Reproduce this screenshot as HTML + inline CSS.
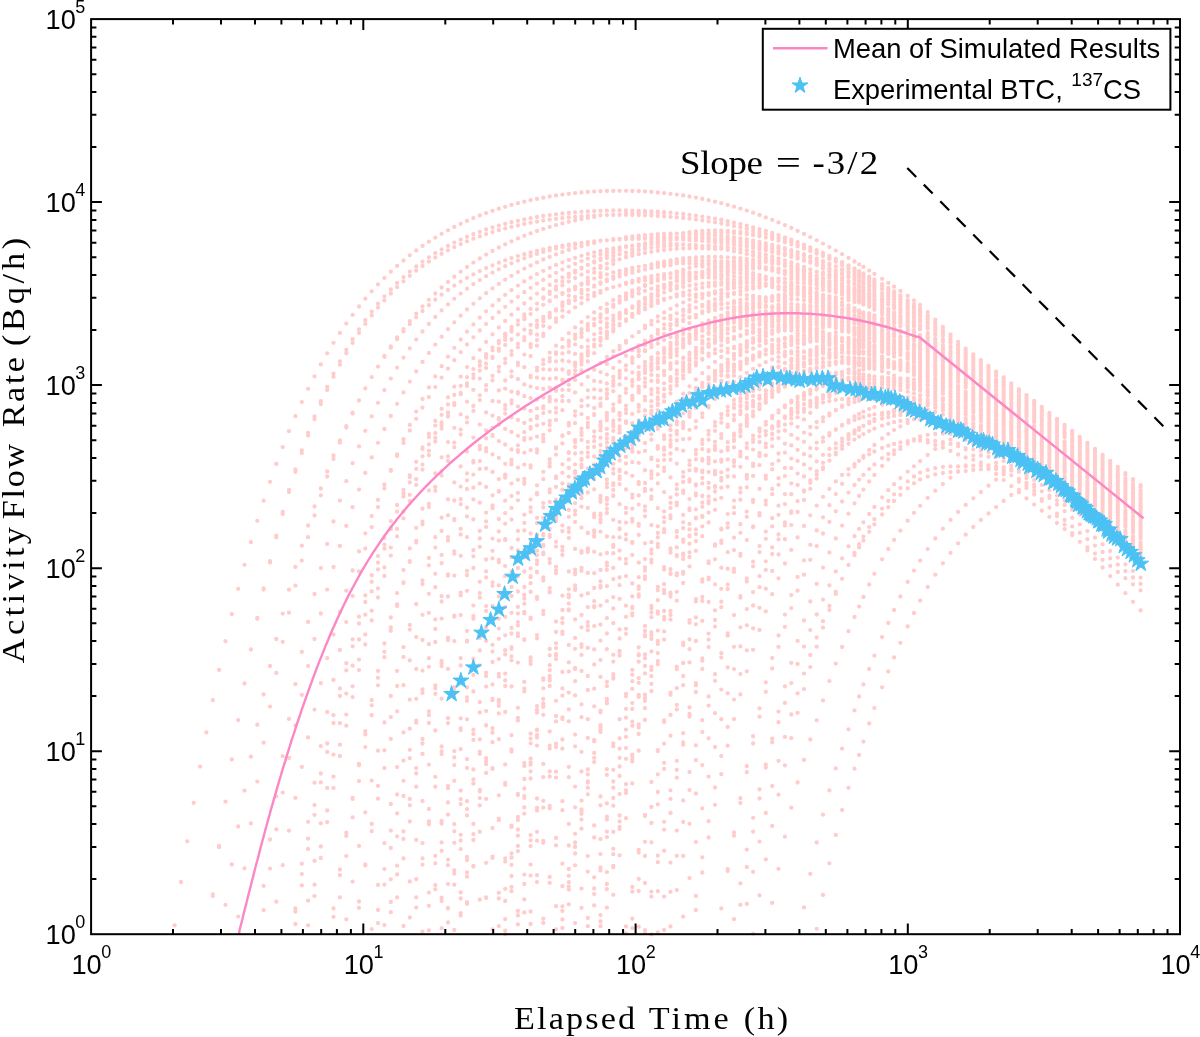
<!DOCTYPE html>
<html lang="en"><head><meta charset="utf-8"><title>Breakthrough curves</title>
<style>html,body{margin:0;padding:0;background:#fff}svg{display:block;will-change:transform}</style></head>
<body>
<svg width="1200" height="1037" viewBox="0 0 1200 1037">
<path d="M174.6 925.3h0M181 882h0M187.3 841.3h0M193.7 802.8h0M200.1 766.6h0M206.4 732.4h0M212.8 700.2h0M219.1 669.9h0M225.5 641.2h0M231.8 614.2h0M238.2 588.8h0M244.5 564.8h0M250.9 542.2h0M257.3 520.8h0M263.6 500.7h0M270 481.8h0M276.3 463.9h0M282.7 447.1h0M289 431.2h0M295.4 416.2h0M301.8 402.1h0M308.1 388.8h0M314.5 376.3h0M320.8 364.4h0M327.2 353.3h0M333.5 342.8h0M339.9 332.9h0M346.3 323.6h0M352.6 314.8h0M359 306.5h0M365.3 298.7h0M371.7 291.3h0M378 284.4h0M384.4 277.9h0M390.8 271.7h0M397.1 265.9h0M403.5 260.5h0M409.8 255.3h0M416.2 250.5h0M422.5 245.9h0M428.9 241.7h0M435.3 237.6h0M441.6 233.8h0M448 230.3h0M454.3 226.9h0M460.7 223.8h0M467 220.9h0M473.4 218.1h0M479.8 215.5h0M486.1 213.1h0M492.5 210.8h0M498.8 208.7h0M505.2 206.8h0M511.5 204.9h0M517.9 203.2h0M524.3 201.7h0M530.6 200.2h0M537 198.9h0M543.3 197.7h0M549.7 196.5h0M556 195.5h0M562.4 194.6h0M568.8 193.8h0M575.1 193.1h0M581.5 192.5h0M587.8 192h0M594.2 191.6h0M600.5 191.2h0M606.9 191h0M613.3 190.9h0M619.6 190.8h0M626 190.8h0M632.3 191h0M638.7 191.2h0M645 191.5h0M651.4 191.9h0M657.8 192.5h0M664.1 193.1h0M670.5 193.8h0M676.8 194.6h0M683.2 195.5h0M689.5 196.5h0M695.9 197.6h0M702.3 198.9h0M708.6 200.2h0M715 201.7h0M721.3 203.2h0M727.7 204.9h0M734 206.7h0M740.4 208.6h0M746.8 210.6h0M753.1 212.7h0M759.5 215h0M765.8 217.4h0M772.2 219.8h0M778.5 222.4h0M784.9 225.1h0M791.3 228h0M797.6 230.9h0M804 233.9h0M810.3 237.1h0M816.7 240.3h0M823 243.6h0M829.4 247.1h0M835.8 250.6h0M842.1 254.2h0M848.5 257.9h0M854.5 261.5h0M859.1 264.3h0M863.4 266.9h0M869.2 270.6h0M874.4 273.8h0M882.1 278.8h0M888.3 282.9h0M894.1 286.7h0M900.4 291h0M907.7 296h0M914 300.3h0M920.1 304.9h0M927.7 312.2h0M935.3 319.6h0M942.9 327h0M950.5 334.5h0M958.1 342h0M965.7 348.7h0M973.3 354.4h0M980.9 360.1h0M988.5 365.8h0M996.1 371.6h0M1003.7 377.4h0M1011.3 383.3h0M1018.9 389.2h0M1026.5 395.1h0M1034.2 401h0M1041.8 406.9h0M1049.4 412.9h0M1057 418.8h0M1064.6 424.8h0M1072.2 430.8h0M1079.8 436.8h0M1087.4 442.8h0M1095 448.9h0M1102.6 454.9h0M1110.2 460.9h0M1117.8 467h0M1125.4 473.1h0M1133 479.1h0M1140.6 485.2h0M212.8 896.1h0M219.1 847.2h0M225.5 801.7h0M231.8 759.5h0M238.2 720.1h0M244.5 683.5h0M250.9 649.5h0M257.3 617.9h0M263.6 588.5h0M270 561.1h0M276.3 535.7h0M282.7 512h0M289 490h0M295.4 469.5h0M301.8 450.5h0M308.1 432.8h0M314.5 416.4h0M320.8 401.1h0M327.2 386.8h0M333.5 373.6h0M339.9 361.3h0M346.3 349.9h0M352.6 339.2h0M359 329.3h0M365.3 320.2h0M371.7 311.6h0M378 303.7h0M384.4 296.3h0M390.8 289.4h0M397.1 283h0M403.5 277.1h0M409.8 271.6h0M416.2 266.5h0M422.5 261.7h0M428.9 257.3h0M435.3 253.2h0M441.6 249.4h0M448 245.9h0M454.3 242.6h0M460.7 239.6h0M467 236.8h0M473.4 234.2h0M479.8 231.8h0M486.1 229.5h0M492.5 227.5h0M498.8 225.6h0M505.2 223.8h0M511.5 222.2h0M517.9 220.8h0M524.3 219.4h0M530.6 218.2h0M537 217h0M543.3 216h0M549.7 215.1h0M556 214.3h0M562.4 213.5h0M568.8 212.9h0M575.1 212.3h0M581.5 211.8h0M587.8 211.4h0M594.2 211.1h0M600.5 210.8h0M606.9 210.7h0M613.3 210.5h0M619.6 210.5h0M626 210.5h0M632.3 210.6h0M638.7 210.8h0M645 211h0M651.4 211.4h0M657.8 211.7h0M664.1 212.2h0M670.5 212.7h0M676.8 213.3h0M683.2 214h0M689.5 214.8h0M695.9 215.6h0M702.3 216.6h0M708.6 217.6h0M715 218.7h0M721.3 219.9h0M727.7 221.2h0M734 222.6h0M740.4 224.1h0M746.8 225.7h0M753.1 227.4h0M759.5 229.1h0M765.8 231h0M772.2 233h0M778.5 235.1h0M784.9 237.4h0M791.3 239.7h0M797.6 242.1h0M804 244.7h0M810.3 247.3h0M816.7 250.1h0M823 252.9h0M829.4 255.9h0M835.8 258.9h0M842.1 262.1h0M848.5 265.4h0M854.5 268.6h0M859.1 271.1h0M863.4 273.4h0M869.2 276.7h0M874.4 279.7h0M882.1 284.2h0M888.3 287.9h0M894.1 291.5h0M900.4 295.4h0M907.7 300.1h0M914 304.1h0M920.1 308.5h0M927.7 315.5h0M935.3 322.6h0M942.9 329.7h0M950.5 337h0M958.1 344.2h0M965.7 350.7h0M973.3 356.2h0M980.9 361.8h0M988.5 367.4h0M996.1 373h0M1018.9 390.2h0M1026.5 396h0M1034.2 401.8h0M1041.8 407.6h0M1049.4 413.5h0M1057 419.4h0M1064.6 425.3h0M1072.2 431.3h0M1133 479.3h0M1140.6 485.3h0M212.8 894.4h0M219.1 845.9h0M257.3 618.8h0M263.6 589.6h0M270 562.5h0M276.3 537.3h0M282.7 513.9h0M289 492.1h0M295.4 471.8h0M301.8 453h0M308.1 435.5h0M314.5 419.2h0M320.8 404h0M327.2 389.9h0M333.5 376.8h0M339.9 364.7h0M346.3 353.3h0M352.6 342.8h0M359 333h0M365.3 323.9h0M371.7 315.4h0M378 307.6h0M384.4 300.3h0M390.8 293.5h0M397.1 287.1h0M403.5 281.3h0M409.8 275.8h0M416.2 270.7h0M422.5 266h0M428.9 261.7h0M435.3 257.6h0M441.6 253.8h0M448 250.3h0M454.3 247.1h0M460.7 244.1h0M467 241.3h0M473.4 238.7h0M479.8 236.3h0M486.1 234.1h0M492.5 232.1h0M498.8 230.2h0M505.2 228.4h0M511.5 226.8h0M517.9 225.4h0M524.3 224h0M530.6 222.8h0M537 221.7h0M543.3 220.6h0M549.7 219.7h0M556 218.9h0M562.4 218.1h0M568.8 217.5h0M575.1 216.9h0M581.5 216.4h0M587.8 216h0M594.2 215.6h0M600.5 215.3h0M606.9 215.1h0M613.3 215h0M619.6 214.9h0M626 214.9h0M632.3 215h0M638.7 215.1h0M645 215.3h0M651.4 215.6h0M657.8 216h0M664.1 216.4h0M670.5 216.8h0M676.8 217.4h0M683.2 218h0M689.5 218.7h0M695.9 219.5h0M702.3 220.4h0M708.6 221.4h0M715 222.4h0M721.3 223.5h0M727.7 224.7h0M734 226.1h0M740.4 227.5h0M746.8 229h0M753.1 230.6h0M759.5 232.3h0M765.8 234.1h0M772.2 236h0M778.5 238h0M784.9 240.1h0M791.3 242.3h0M797.6 244.7h0M804 247.1h0M810.3 249.6h0M816.7 252.3h0M823 255.1h0M829.4 257.9h0M835.8 260.9h0M842.1 264h0M848.5 267.1h0M854.5 270.3h0M859.1 272.7h0M863.4 275h0M869.2 278.2h0M874.4 281.1h0M882.1 285.5h0M888.3 289.2h0M894.1 292.7h0M900.4 296.5h0M907.7 301.1h0M927.7 316.4h0M935.3 323.4h0M958.1 344.9h0M973.3 356.7h0M1003.7 379.1h0M1011.3 384.8h0M1079.8 437.4h0M1087.4 443.3h0M1095 449.3h0M1102.6 455.3h0M1110.2 461.3h0M1117.8 467.3h0M1125.4 473.3h0M238.2 916.6h0M244.5 868.3h0M250.9 823.4h0M257.3 781.6h0M263.6 742.7h0M270 706.6h0M276.3 673h0M282.7 641.8h0M289 612.7h0M295.4 585.7h0M301.8 560.6h0M308.1 537.2h0M314.5 515.5h0M320.8 495.3h0M327.2 476.5h0M333.5 459h0M339.9 442.7h0M346.3 427.6h0M352.6 413.6h0M359 400.5h0M365.3 388.4h0M371.7 377.1h0M378 366.6h0M384.4 356.8h0M390.8 347.7h0M397.1 339.3h0M403.5 331.4h0M409.8 324.1h0M416.2 317.3h0M422.5 311h0M428.9 305.2h0M435.3 299.7h0M441.6 294.7h0M448 290h0M454.3 285.6h0M460.7 281.6h0M467 277.8h0M473.4 274.3h0M479.8 271.1h0M486.1 268.1h0M492.5 265.3h0M498.8 262.7h0M505.2 260.3h0M511.5 258.1h0M517.9 256.1h0M524.3 254.2h0M530.6 252.4h0M537 250.8h0M543.3 249.4h0M549.7 248h0M556 246.8h0M562.4 245.6h0M568.8 244.6h0M575.1 243.7h0M581.5 242.9h0M587.8 242.1h0M594.2 241.4h0M600.5 240.8h0M606.9 240.3h0M613.3 239.9h0M619.6 239.5h0M626 239.2h0M632.3 239h0M638.7 238.9h0M645 238.8h0M651.4 238.7h0M657.8 238.8h0M664.1 238.9h0M670.5 239.1h0M676.8 239.3h0M683.2 239.6h0M689.5 240h0M695.9 240.5h0M702.3 241h0M708.6 241.6h0M715 242.2h0M721.3 243h0M727.7 243.8h0M734 244.7h0M740.4 245.7h0M746.8 246.8h0M753.1 247.9h0M759.5 249.2h0M765.8 250.5h0M772.2 252h0M778.5 253.5h0M784.9 255.2h0M791.3 256.9h0M797.6 258.7h0M804 260.7h0M810.3 262.7h0M816.7 264.9h0M823 267.1h0M829.4 269.5h0M835.8 272h0M842.1 274.6h0M848.5 277.3h0M854.5 279.9h0M859.1 282h0M863.4 284h0M869.2 286.8h0M874.4 289.3h0M882.1 293.2h0M888.3 296.5h0M894.1 299.6h0M900.4 303.1h0M907.7 307.2h0M914 310.9h0M920.1 314.9h0M927.7 321.4h0M935.3 328h0M942.9 334.8h0M950.5 341.6h0M958.1 348.6h0M965.7 354.7h0M973.3 359.9h0M980.9 365.1h0M988.5 370.5h0M996.1 375.9h0M1003.7 381.3h0M1011.3 386.8h0M1018.9 392.4h0M1026.5 398h0M1034.2 403.6h0M1041.8 409.3h0M1049.4 415.1h0M1057 420.8h0M263.6 885.9h0M270 839.5h0M276.3 796.3h0M282.7 756.2h0M289 718.9h0M295.4 684.2h0M301.8 651.9h0M308.1 621.9h0M314.5 594h0M320.8 568.1h0M327.2 543.9h0M333.5 521.5h0M339.9 500.6h0M346.3 481.2h0M352.6 463.2h0M359 446.4h0M365.3 430.8h0M371.7 416.3h0M378 402.8h0M384.4 390.2h0M390.8 378.6h0M397.1 367.7h0M403.5 357.6h0M409.8 348.3h0M416.2 339.6h0M422.5 331.5h0M428.9 323.9h0M435.3 316.9h0M441.6 310.4h0M448 304.4h0M454.3 298.8h0M460.7 293.6h0M467 288.7h0M473.4 284.2h0M479.8 280.1h0M486.1 276.2h0M492.5 272.6h0M498.8 269.3h0M505.2 266.2h0M511.5 263.3h0M517.9 260.7h0M524.3 258.3h0M530.6 256h0M537 253.9h0M543.3 252h0M549.7 250.2h0M556 248.6h0M562.4 247.1h0M568.8 245.8h0M575.1 244.5h0M587.8 242.4h0M600.5 240.7h0M619.6 238.8h0M638.7 237.7h0M645 237.5h0M651.4 237.3h0M657.8 237.3h0M664.1 237.3h0M670.5 237.4h0M676.8 237.6h0M683.2 237.8h0M689.5 238.1h0M695.9 238.6h0M702.3 239h0M708.6 239.6h0M715 240.2h0M721.3 241h0M727.7 241.8h0M734 242.7h0M740.4 243.7h0M746.8 244.8h0M753.1 245.9h0M759.5 247.2h0M765.8 248.6h0M772.2 250h0M778.5 251.6h0M784.9 253.3h0M791.3 255h0M797.6 256.9h0M804 258.9h0M810.3 261h0M816.7 263.2h0M823 265.5h0M829.4 267.9h0M835.8 270.5h0M842.1 273.1h0M848.5 275.9h0M854.5 278.6h0M859.1 280.7h0M863.4 282.7h0M869.2 285.5h0M874.4 288.1h0M888.3 295.4h0M894.1 298.6h0M900.4 302.1h0M907.7 306.3h0M920.1 314h0M935.3 327.3h0M950.5 341h0M996.1 375.5h0M1018.9 392.1h0M263.6 910.2h0M270 868.6h0M276.3 829.4h0M282.7 792.6h0M289 758h0M295.4 725.5h0M301.8 694.9h0M308.1 666.1h0M314.5 639h0M320.8 613.5h0M327.2 589.6h0M333.5 567h0M339.9 545.9h0M346.3 525.9h0M352.6 507.2h0M359 489.6h0M365.3 473h0M371.7 457.4h0M378 442.8h0M384.4 429h0M390.8 416h0M397.1 403.8h0M403.5 392.4h0M409.8 381.6h0M416.2 371.5h0M422.5 361.9h0M428.9 353h0M435.3 344.6h0M441.6 336.7h0M448 329.2h0M454.3 322.3h0M460.7 315.7h0M467 309.5h0M473.4 303.8h0M479.8 298.3h0M486.1 293.2h0M492.5 288.4h0M498.8 283.9h0M505.2 279.7h0M511.5 275.8h0M517.9 272.1h0M524.3 268.6h0M530.6 265.4h0M537 262.4h0M543.3 259.5h0M549.7 256.9h0M556 254.4h0M562.4 252.1h0M568.8 250h0M575.1 248.1h0M581.5 246.2h0M587.8 244.6h0M594.2 243h0M613.3 239.2h0M626 237.2h0M632.3 236.4h0M638.7 235.7h0M645 235.1h0M651.4 234.6h0M657.8 234.2h0M664.1 233.9h0M670.5 233.7h0M676.8 233.6h0M683.2 233.6h0M689.5 233.7h0M695.9 234h0M702.3 234.3h0M708.6 234.7h0M715 235.2h0M721.3 235.9h0M727.7 236.6h0M734 237.4h0M740.4 238.4h0M746.8 239.5h0M753.1 240.6h0M759.5 241.9h0M765.8 243.3h0M772.2 244.8h0M778.5 246.5h0M784.9 248.2h0M791.3 250.1h0M797.6 252.1h0M804 254.2h0M810.3 256.4h0M816.7 258.7h0M823 261.2h0M829.4 263.7h0M835.8 266.4h0M842.1 269.2h0M848.5 272.1h0M854.5 275h0M859.1 277.2h0M863.4 279.4h0M869.2 282.3h0M874.4 285.1h0M882.1 289.2h0M888.3 292.7h0M894.1 296h0M900.4 299.6h0M907.7 304h0M914 307.8h0M920.1 312h0M927.7 318.7h0M935.3 325.6h0M942.9 332.5h0M950.5 339.5h0M958.1 346.6h0M965.7 352.9h0M973.3 358.2h0M980.9 363.6h0M988.5 369.1h0M276.3 901.7h0M282.7 865.2h0M289 830.7h0M295.4 797.9h0M301.8 766.9h0M308.1 737.5h0M314.5 709.6h0M320.8 683.2h0M327.2 658.2h0M333.5 634.5h0M339.9 612h0M346.3 590.7h0M352.6 570.5h0M359 551.4h0M365.3 533.3h0M371.7 516.1h0M378 499.9h0M384.4 484.5h0M390.8 469.9h0M397.1 456.1h0M403.5 442.9h0M409.8 430.5h0M416.2 418.8h0M422.5 407.6h0M428.9 397.1h0M435.3 387.1h0M441.6 377.6h0M448 368.7h0M454.3 360.2h0M460.7 352.2h0M467 344.5h0M473.4 337.3h0M479.8 330.5h0M486.1 324.1h0M492.5 318h0M498.8 312.2h0M505.2 306.8h0M511.5 301.6h0M517.9 296.8h0M524.3 292.2h0M530.6 287.8h0M537 283.7h0M543.3 279.9h0M549.7 276.2h0M556 272.8h0M562.4 269.6h0M568.8 266.6h0M575.1 263.8h0M581.5 261.1h0M587.8 258.6h0M594.2 256.3h0M600.5 254.2h0M606.9 252.2h0M613.3 250.4h0M619.6 248.7h0M626 247.1h0M632.3 245.7h0M638.7 244.4h0M645 243.3h0M651.4 242.3h0M657.8 241.4h0M664.1 240.6h0M670.5 240h0M708.6 238.8h0M715 239h0M721.3 239.4h0M727.7 239.8h0M734 240.4h0M740.4 241.2h0M746.8 242h0M753.1 243h0M759.5 244.1h0M765.8 245.4h0M772.2 246.7h0M778.5 248.2h0M784.9 249.8h0M791.3 251.6h0M797.6 253.5h0M804 255.5h0M810.3 257.6h0M816.7 259.9h0M823 262.3h0M829.4 264.8h0M842.1 270.1h0M848.5 273h0M854.5 275.8h0M863.4 280.1h0M869.2 283.1h0M874.4 285.8h0M888.3 293.4h0M894.1 296.6h0M914 308.5h0M927.7 319.3h0M225.5 904.8h0M231.8 864.5h0M238.2 826.5h0M244.5 790.6h0M250.9 756.7h0M257.3 724.7h0M263.6 694.5h0M270 666h0M276.3 639h0M282.7 613.6h0M289 589.7h0M295.4 567h0M301.8 545.7h0M308.1 525.5h0M314.5 506.5h0M320.8 488.5h0M327.2 471.5h0M333.5 455.5h0M339.9 440.4h0M346.3 426.2h0M352.6 412.7h0M384.4 356h0M390.8 346.5h0M397.1 337.5h0M403.5 329.1h0M409.8 321.1h0M416.2 313.6h0M422.5 306.5h0M428.9 299.8h0M435.3 293.5h0M441.6 287.5h0M448 281.9h0M454.3 276.7h0M460.7 271.7h0M467 267h0M473.4 262.6h0M479.8 258.5h0M486.1 254.6h0M492.5 250.9h0M498.8 247.5h0M505.2 244.3h0M511.5 241.3h0M517.9 238.4h0M524.3 235.8h0M530.6 233.3h0M537 231h0M543.3 228.9h0M549.7 226.9h0M556 225.1h0M562.4 223.4h0M568.8 221.8h0M575.1 220.4h0M581.5 219.1h0M587.8 217.9h0M594.2 216.9h0M626 213.4h0M632.3 213h0M638.7 212.7h0M645 212.6h0M651.4 212.6h0M657.8 212.6h0M664.1 212.8h0M721.3 219.6h0M772.2 233.6h0M784.9 238.4h0M791.3 240.9h0M797.6 243.6h0M804 246.3h0M835.8 261.8h0M842.1 265.2h0M848.5 268.7h0M854.5 272.1h0M859.1 274.8h0M863.4 277.3h0M869.2 280.7h0M874.4 283.9h0M882.1 288.7h0M942.9 335.7h0M950.5 343.1h0M958.1 350.5h0M965.7 357.1h0M973.3 362.7h0M980.9 368.3h0M988.5 374h0M996.1 379.7h0M1003.7 385.5h0M1011.3 391.3h0M1018.9 397.1h0M1026.5 403h0M1034.2 408.8h0M1041.8 414.7h0M1049.4 420.6h0M1057 426.6h0M1064.6 432.5h0M1072.2 438.5h0M1079.8 444.5h0M1087.4 450.5h0M1095 456.5h0M1102.6 462.5h0M1110.2 468.5h0M1117.8 474.6h0M1125.4 480.6h0M1133 486.7h0M1140.6 492.7h0M295.4 908.4h0M301.8 863.7h0M308.1 821.8h0M314.5 782.7h0M320.8 746.2h0M327.2 712h0M333.5 680h0M339.9 650h0M346.3 622.1h0M352.6 595.9h0M359 571.4h0M365.3 548.5h0M371.7 527.1h0M378 507.1h0M384.4 488.4h0M390.8 470.9h0M397.1 454.5h0M403.5 439.2h0M409.8 424.9h0M416.2 411.6h0M422.5 399h0M428.9 387.4h0M435.3 376.4h0M441.6 366.2h0M448 356.7h0M454.3 347.8h0M460.7 339.5h0M467 331.7h0M473.4 324.4h0M479.8 317.7h0M486.1 311.3h0M492.5 305.4h0M498.8 299.9h0M505.2 294.8h0M511.5 290.1h0M517.9 285.6h0M524.3 281.5h0M530.6 277.7h0M537 274.1h0M543.3 270.8h0M549.7 267.8h0M556 264.9h0M562.4 262.3h0M568.8 259.9h0M575.1 257.8h0M581.5 255.8h0M587.8 253.9h0M594.2 252.3h0M600.5 250.8h0M606.9 249.5h0M613.3 248.3h0M619.6 247.3h0M626 246.4h0M645 244.6h0M651.4 244.2h0M657.8 244h0M664.1 244h0M670.5 244h0M676.8 244.2h0M683.2 244.4h0M689.5 244.9h0M695.9 245.4h0M702.3 246.1h0M708.6 246.8h0M715 247.7h0M721.3 248.8h0M727.7 249.9h0M734 251.2h0M740.4 252.6h0M746.8 254.1h0M753.1 255.8h0M759.5 257.6h0M765.8 259.5h0M772.2 261.5h0M778.5 263.7h0M784.9 265.9h0M791.3 268.3h0M797.6 270.9h0M804 273.5h0M810.3 276.2h0M816.7 279.1h0M823 282.1h0M829.4 285.2h0M835.8 288.4h0M842.1 291.6h0M848.5 295h0M854.5 298.3h0M859.1 300.9h0M863.4 303.4h0M869.2 306.8h0M874.4 309.8h0M882.1 314.5h0M888.3 318.4h0M894.1 322h0M900.4 326.1h0M907.7 330.8h0M914 335h0M920.1 339.5h0M927.7 346.6h0M935.3 353.7h0M942.9 361h0M950.5 368.3h0M958.1 375.7h0M965.7 382.2h0M973.3 387.8h0M980.9 393.4h0M988.5 399.1h0M996.1 404.8h0M1003.7 410.5h0M1011.3 416.3h0M1018.9 422.1h0M1026.5 427.9h0M1034.2 433.8h0M1041.8 439.6h0M1049.4 445.5h0M1057 451.5h0M1064.6 457.4h0M1072.2 463.4h0M1079.8 469.3h0M1087.4 475.3h0M1095 481.3h0M1102.6 487.3h0M1110.2 493.4h0M1117.8 499.4h0M1125.4 505.4h0M1133 511.5h0M1140.6 517.6h0M295.4 924h0M301.8 885.4h0M308.1 849h0M314.5 814.8h0M320.8 782.4h0M327.2 751.9h0M333.5 723.1h0M339.9 696h0M346.3 670.4h0M352.6 646.3h0M359 623.5h0M365.3 602h0M371.7 581.8h0M378 562.7h0M384.4 544.7h0M390.8 527.7h0M397.1 511.7h0M403.5 496.6h0M409.8 482.4h0M416.2 468.9h0M422.5 456.3h0M428.9 444.4h0M435.3 433.1h0M441.6 422.5h0M448 412.5h0M454.3 403.1h0M460.7 394.2h0M467 385.9h0M473.4 378h0M479.8 370.6h0M486.1 363.6h0M492.5 357h0M498.8 350.8h0M505.2 345h0M511.5 339.5h0M517.9 334.4h0M524.3 329.6h0M530.6 325h0M537 320.7h0M543.3 316.8h0M549.7 313h0M556 309.5h0M562.4 306.2h0M568.8 303.2h0M575.1 300.3h0M581.5 297.7h0M587.8 295.2h0M594.2 292.9h0M600.5 290.8h0M606.9 288.9h0M613.3 287.1h0M619.6 285.5h0M626 284h0M632.3 282.7h0M638.7 281.5h0M645 280.5h0M651.4 279.6h0M657.8 278.9h0M664.1 278.2h0M670.5 277.8h0M676.8 277.4h0M683.2 277.2h0M689.5 277.1h0M695.9 277.1h0M702.3 277.2h0M708.6 277.5h0M715 277.9h0M721.3 278.4h0M727.7 279.1h0M734 279.9h0M740.4 280.8h0M746.8 281.8h0M753.1 283h0M759.5 284.3h0M765.8 285.8h0M772.2 287.3h0M778.5 289h0M784.9 290.8h0M791.3 292.8h0M797.6 294.8h0M804 297.1h0M810.3 299.4h0M816.7 301.8h0M823 304.4h0M829.4 307.1h0M835.8 309.9h0M842.1 312.8h0M848.5 315.9h0M854.5 318.8h0M859.1 321.2h0M863.4 323.4h0M869.2 326.5h0M874.4 329.3h0M882.1 333.6h0M888.3 337.2h0M894.1 340.6h0M900.4 344.4h0M907.7 348.9h0M914 352.8h0M920.1 357.1h0M927.7 363.9h0M935.3 370.9h0M942.9 377.9h0M950.5 385h0M958.1 392.2h0M965.7 398.6h0M973.3 404h0M980.9 409.4h0M988.5 414.9h0M996.1 420.5h0M1003.7 426.1h0M1011.3 431.8h0M1018.9 437.5h0M1026.5 443.2h0M1034.2 449h0M1041.8 454.8h0M1049.4 460.6h0M1057 466.5h0M1064.6 472.3h0M1072.2 478.2h0M1079.8 484.1h0M1087.4 490.1h0M1095 496h0M1102.6 502h0M1110.2 508h0M1117.8 514h0M1125.4 520h0M1133 526h0M1140.6 532h0M308.1 900.7h0M314.5 860.9h0M320.8 823.3h0M327.2 788h0M333.5 754.6h0M339.9 723.2h0M346.3 693.6h0M352.6 665.7h0M359 639.5h0M365.3 614.7h0M371.7 591.4h0M378 569.4h0M384.4 548.7h0M390.8 529.2h0M403.5 493.5h0M409.8 477.2h0M416.2 461.8h0M422.5 447.4h0M428.9 433.7h0M435.3 420.9h0M441.6 408.8h0M448 397.4h0M454.3 386.7h0M460.7 376.6h0M467 367.1h0M473.4 358.2h0M479.8 349.8h0M486.1 341.9h0M492.5 334.4h0M498.8 327.4h0M505.2 320.9h0M511.5 314.7h0M517.9 308.9h0M524.3 303.5h0M530.6 298.3h0M537 293.6h0M543.3 289.1h0M549.7 284.9h0M556 281h0M562.4 277.3h0M568.8 273.9h0M575.1 270.7h0M581.5 267.7h0M587.8 265h0M594.2 262.5h0M600.5 260.1h0M606.9 258h0M613.3 256h0M619.6 254.3h0M626 252.6h0M632.3 251.2h0M638.7 249.9h0M645 248.8h0M651.4 247.8h0M657.8 247h0M664.1 246.3h0M670.5 245.8h0M676.8 245.4h0M695.9 245.2h0M708.6 245.7h0M715 246.1h0M721.3 246.7h0M727.7 247.5h0M734 248.3h0M740.4 249.4h0M746.8 250.5h0M753.1 251.8h0M759.5 253.2h0M765.8 254.8h0M772.2 256.5h0M778.5 258.3h0M784.9 260.3h0M791.3 262.4h0M797.6 264.6h0M804 267h0M810.3 269.4h0M816.7 272h0M823 274.8h0M829.4 277.6h0M835.8 280.6h0M842.1 283.6h0M848.5 286.8h0M854.5 289.9h0M859.1 292.4h0M863.4 294.7h0M869.2 297.9h0M874.4 300.8h0M882.1 305.3h0M888.3 309h0M894.1 312.5h0M900.4 316.4h0M907.7 321h0M914 325.1h0M920.1 329.4h0M927.7 336.4h0M935.3 343.4h0M942.9 350.5h0M950.5 357.7h0M958.1 365h0M965.7 371.5h0M973.3 376.9h0M980.9 382.5h0M988.5 388h0M996.1 393.7h0M1003.7 399.3h0M1011.3 405h0M1018.9 410.8h0M1026.5 416.5h0M1034.2 422.3h0M1041.8 428.2h0M1049.4 434h0M1057 439.9h0M1064.6 445.8h0M1072.2 451.7h0M1079.8 457.7h0M1087.4 463.6h0M1095 469.6h0M1102.6 475.6h0M1110.2 481.6h0M1117.8 487.6h0M1125.4 493.6h0M1133 499.7h0M1140.6 505.7h0M308.1 925.3h0M314.5 884.7h0M320.8 846.5h0M327.2 810.5h0M333.5 776.6h0M339.9 744.7h0M346.3 714.6h0M352.6 686.3h0M359 659.6h0M365.3 634.4h0M371.7 610.7h0M378 588.4h0M384.4 567.4h0M390.8 547.6h0M397.1 528.9h0M403.5 511.4h0M409.8 494.8h0M416.2 479.2h0M422.5 464.6h0M428.9 450.8h0M435.3 437.8h0M441.6 425.5h0M448 414h0M460.7 392.9h0M467 383.3h0M473.4 374.3h0M479.8 365.8h0M486.1 357.8h0M492.5 350.3h0M498.8 343.3h0M505.2 336.7h0M511.5 330.5h0M517.9 324.6h0M524.3 319.2h0M530.6 314.1h0M537 309.3h0M543.3 304.8h0M549.7 300.6h0M556 296.7h0M562.4 293.1h0M568.8 289.7h0M575.1 286.6h0M581.5 283.7h0M587.8 281h0M594.2 278.6h0M600.5 276.3h0M606.9 274.3h0M613.3 272.4h0M619.6 270.8h0M626 269.3h0M632.3 268h0M638.7 266.8h0M645 265.8h0M651.4 265h0M657.8 264.4h0M664.1 263.9h0M670.5 263.6h0M676.8 263.4h0M683.2 263.4h0M689.5 263.6h0M695.9 263.8h0M702.3 264.3h0M708.6 264.9h0M715 265.6h0M721.3 266.5h0M727.7 267.5h0M734 268.7h0M740.4 270h0M746.8 271.5h0M753.1 273.1h0M759.5 274.8h0M765.8 276.7h0M772.2 278.7h0M778.5 280.9h0M784.9 283.2h0M791.3 285.6h0M797.6 288.2h0M804 290.8h0M810.3 293.6h0M816.7 296.6h0M823 299.6h0M829.4 302.7h0M835.8 306h0M842.1 309.3h0M848.5 312.8h0M854.5 316.2h0M859.1 318.8h0M863.4 321.3h0M869.2 324.7h0M874.4 327.9h0M888.3 336.5h0M914 353.3h0M920.1 357.8h0M935.3 372.2h0M942.9 379.5h0M950.5 386.9h0M958.1 394.3h0M965.7 400.8h0M973.3 406.4h0M980.9 412.1h0M988.5 417.7h0M996.1 423.5h0M1003.7 429.2h0M1011.3 435h0M1018.9 440.8h0M1026.5 446.6h0M1034.2 452.5h0M1041.8 458.4h0M1049.4 464.3h0M1057 470.2h0M1064.6 476.2h0M1072.2 482.1h0M1079.8 488.1h0M1087.4 494.1h0M1095 500.1h0M1102.6 506.1h0M1110.2 512.1h0M1117.8 518.2h0M1125.4 524.2h0M1133 530.3h0M1140.6 536.3h0M295.4 911.7h0M301.8 874.1h0M308.1 838.7h0M314.5 805.1h0M320.8 773.5h0M327.2 743.5h0M333.5 715.2h0M339.9 688.5h0M346.3 663.2h0M352.6 639.3h0M359 616.7h0M365.3 595.4h0M371.7 575.2h0M378 556.1h0M384.4 538.1h0M390.8 521.1h0M397.1 505h0M403.5 489.8h0M409.8 475.5h0M422.5 449.1h0M428.9 437h0M435.3 425.6h0M441.6 414.8h0M448 404.5h0M454.3 394.9h0M460.7 385.8h0M467 377.2h0M473.4 369.1h0M479.8 361.4h0M486.1 354.2h0M492.5 347.4h0M498.8 341h0M505.2 334.9h0M511.5 329.2h0M524.3 318.7h0M549.7 301.2h0M562.4 294h0M568.8 290.7h0M575.1 287.6h0M581.5 284.7h0M587.8 282.1h0M600.5 277.3h0M651.4 264.5h0M664.1 262.7h0M670.5 262h0M676.8 261.5h0M683.2 261.1h0M689.5 260.8h0M695.9 260.6h0M702.3 260.6h0M708.6 260.7h0M715 260.9h0M721.3 261.3h0M727.7 261.7h0M734 262.3h0M740.4 263.1h0M746.8 263.9h0M753.1 264.9h0M759.5 266.1h0M765.8 267.3h0M772.2 268.7h0M778.5 270.2h0M784.9 271.9h0M791.3 273.6h0M797.6 275.5h0M804 277.6h0M810.3 279.7h0M816.7 282h0M823 284.4h0M829.4 286.9h0M835.8 289.6h0M842.1 292.4h0M859.1 300.3h0M869.2 305.4h0M874.4 308.1h0M882.1 312.3h0M888.3 315.7h0M894.1 319.1h0M900.4 322.7h0M907.7 327.1h0M914 330.9h0M920.1 335.1h0M927.7 341.8h0M935.3 348.7h0M942.9 355.6h0M950.5 362.6h0M958.1 369.7h0M965.7 376h0M973.3 381.3h0M980.9 386.7h0M988.5 392.2h0M996.1 397.7h0M1003.7 403.3h0M1011.3 408.9h0M1018.9 414.5h0M1026.5 420.2h0M1034.2 425.9h0M1041.8 431.7h0M1049.4 437.5h0M1057 443.3h0M1064.6 449.1h0M1072.2 455h0M1079.8 460.9h0M1087.4 466.8h0M1095 472.8h0M1102.6 478.7h0M1110.2 484.7h0M1117.8 490.6h0M1125.4 496.6h0M1133 502.6h0M1140.6 508.7h0M314.5 896.1h0M320.8 858h0M327.2 822.1h0M333.5 788.1h0M339.9 756h0M346.3 725.7h0M352.6 697.1h0M359 670.1h0M365.3 644.5h0M371.7 620.4h0M378 597.5h0M384.4 576h0M390.8 555.6h0M397.1 536.4h0M403.5 518.3h0M409.8 501.1h0M416.2 484.9h0M422.5 469.6h0M428.9 455.2h0M435.3 441.5h0M441.6 428.6h0M448 416.5h0M454.3 405h0M479.8 365.2h0M486.1 356.6h0M505.2 333.7h0M511.5 326.9h0M517.9 320.5h0M524.3 314.5h0M530.6 308.9h0M537 303.6h0M543.3 298.6h0M549.7 293.9h0M556 289.5h0M562.4 285.4h0M568.8 281.6h0M575.1 278h0M581.5 274.7h0M587.8 271.6h0M594.2 268.7h0M600.5 266h0M606.9 263.6h0M613.3 261.3h0M619.6 259.3h0M626 257.4h0M632.3 255.7h0M638.7 254.2h0M645 252.9h0M651.4 251.8h0M657.8 250.8h0M664.1 250h0M670.5 249.3h0M676.8 248.8h0M683.2 248.5h0M689.5 248.3h0M695.9 248.3h0M702.3 248.4h0M708.6 248.7h0M715 249.1h0M734 251.4h0M753.1 254.9h0M759.5 256.4h0M765.8 258h0M772.2 259.8h0M778.5 261.7h0M784.9 263.7h0M791.3 265.9h0M797.6 268.2h0M804 270.7h0M810.3 273.2h0M816.7 275.9h0M823 278.7h0M829.4 281.7h0M835.8 284.7h0M842.1 287.9h0M848.5 291.2h0M854.5 294.4h0M859.1 296.9h0M863.4 299.3h0M869.2 302.5h0M874.4 305.6h0M882.1 310.1h0M888.3 313.9h0M894.1 317.5h0M900.4 321.4h0M907.7 326.1h0M914 330.2h0M935.3 348.8h0M958.1 370.5h0M973.3 382.5h0M980.9 388.1h0M988.5 393.7h0M996.1 399.3h0M1003.7 405h0M1011.3 410.7h0M1018.9 416.5h0M1026.5 422.3h0M1034.2 428.1h0M1041.8 434h0M1049.4 439.8h0M1057 445.7h0M1064.6 451.6h0M1072.2 457.6h0M1079.8 463.5h0M1087.4 469.5h0M1095 475.4h0M1102.6 481.4h0M1110.2 487.4h0M1117.8 493.5h0M1125.4 499.5h0M1133 505.5h0M1140.6 511.5h0M339.9 897.3h0M346.3 856.1h0M352.6 817.4h0M359 781.1h0M365.3 747.1h0M371.7 715.2h0M378 685.3h0M384.4 657.2h0M390.8 630.8h0M397.1 606.1h0M403.5 583h0M409.8 561.2h0M416.2 540.8h0M422.5 521.7h0M428.9 503.8h0M435.3 487h0M441.6 471.2h0M448 456.4h0M454.3 442.6h0M460.7 429.6h0M467 417.4h0M473.4 406h0M479.8 395.3h0M486.1 385.2h0M492.5 375.8h0M498.8 367h0M505.2 358.8h0M511.5 351.1h0M517.9 343.8h0M524.3 337.1h0M530.6 330.8h0M537 324.8h0M543.3 319.3h0M562.4 304.9h0M568.8 300.7h0M575.1 296.8h0M581.5 293.2h0M587.8 289.8h0M594.2 286.7h0M600.5 283.8h0M606.9 281.2h0M613.3 278.8h0M619.6 276.5h0M626 274.5h0M632.3 272.7h0M638.7 271h0M645 269.5h0M651.4 268.2h0M657.8 267h0M664.1 266h0M670.5 265.2h0M695.9 263.2h0M702.3 263.1h0M708.6 263.1h0M715 263.3h0M721.3 263.6h0M727.7 264h0M734 264.6h0M740.4 265.3h0M746.8 266.1h0M753.1 267.1h0M759.5 268.2h0M765.8 269.4h0M772.2 270.8h0M778.5 272.3h0M784.9 274h0M791.3 275.7h0M797.6 277.6h0M804 279.7h0M810.3 281.8h0M816.7 284.1h0M823 286.5h0M829.4 289.1h0M835.8 291.7h0M842.1 294.5h0M848.5 297.4h0M854.5 300.3h0M859.1 302.5h0M863.4 304.6h0M894.1 321.3h0M907.7 329.4h0M914 333.2h0M920.1 337.4h0M927.7 344.2h0M935.3 351h0M942.9 358h0M950.5 365h0M958.1 372.1h0M965.7 378.5h0M973.3 383.8h0M988.5 394.7h0M996.1 400.2h0M1003.7 405.8h0M1034.2 428.5h0M1041.8 434.3h0M333.5 916.8h0M339.9 875.2h0M346.3 835.9h0M352.6 798.9h0M359 764h0M365.3 731.2h0M371.7 700.2h0M378 671h0M384.4 643.5h0M390.8 617.5h0M397.1 593.1h0M403.5 570.1h0M409.8 548.4h0M416.2 527.9h0M422.5 508.7h0M428.9 490.5h0M435.3 473.4h0M441.6 457.3h0M448 442.1h0M454.3 427.8h0M460.7 414.4h0M467 401.7h0M473.4 389.8h0M479.8 378.6h0M486.1 368h0M492.5 358h0M498.8 348.7h0M505.2 339.9h0M511.5 331.6h0M524.3 316.6h0M543.3 297.3h0M549.7 291.7h0M556 286.4h0M562.4 281.5h0M568.8 276.9h0M575.1 272.6h0M581.5 268.6h0M594.2 261.5h0M600.5 258.3h0M606.9 255.4h0M613.3 252.8h0M619.6 250.3h0M651.4 241.4h0M657.8 240.2h0M676.8 237.8h0M683.2 237.4h0M689.5 237.1h0M695.9 237h0M702.3 237.1h0M708.6 237.4h0M721.3 238.4h0M727.7 239.1h0M746.8 242.3h0M759.5 245.3h0M765.8 247h0M772.2 248.8h0M778.5 250.8h0M823 268.5h0M829.4 271.6h0M835.8 274.7h0M842.1 278h0M848.5 281.4h0M854.5 284.6h0M859.1 287.2h0M863.4 289.7h0M869.2 293h0M874.4 296.1h0M882.1 300.8h0M888.3 304.6h0M894.1 308.3h0M900.4 312.3h0M907.7 317.1h0M914 321.2h0M920.1 325.7h0M927.7 332.8h0M935.3 340h0M942.9 347.2h0M950.5 354.5h0M958.1 361.9h0M965.7 368.4h0M973.3 374h0M980.9 379.6h0M988.5 385.2h0M996.1 390.9h0M1003.7 396.6h0M1011.3 402.4h0M1018.9 408.2h0M1026.5 414h0M1034.2 419.9h0M1041.8 425.7h0M1049.4 431.6h0M1057 437.5h0M1064.6 443.5h0M1072.2 449.4h0M1079.8 455.4h0M1087.4 461.3h0M1095 467.3h0M1102.6 473.3h0M1110.2 479.3h0M1117.8 485.4h0M1125.4 491.4h0M1133 497.4h0M1140.6 503.5h0M359 907.8h0M365.3 864.5h0M371.7 823.9h0M378 785.9h0M384.4 750.3h0M390.8 717.1h0M397.1 686h0M403.5 656.9h0M409.8 629.6h0M416.2 604.2h0M422.5 580.3h0M428.9 558h0M435.3 537.2h0M441.6 517.7h0M448 499.4h0M454.3 482.4h0M460.7 466.4h0M467 451.5h0M473.4 437.6h0M479.8 424.6h0M486.1 412.4h0M492.5 401h0M498.8 390.4h0M505.2 380.5h0M511.5 371.3h0M517.9 362.6h0M524.3 354.6h0M530.6 347.1h0M537 340.1h0M543.3 333.6h0M549.7 327.5h0M556 321.9h0M562.4 316.7h0M568.8 311.9h0M575.1 307.4h0M581.5 303.3h0M587.8 299.5h0M594.2 296h0M600.5 292.8h0M626 282.6h0M632.3 280.7h0M638.7 279h0M645 277.5h0M651.4 276.2h0M657.8 275.1h0M664.1 274.2h0M670.5 273.5h0M676.8 273h0M683.2 272.7h0M689.5 272.5h0M695.9 272.6h0M702.3 272.8h0M708.6 273.2h0M715 273.7h0M721.3 274.4h0M727.7 275.3h0M734 276.3h0M740.4 277.5h0M746.8 278.8h0M753.1 280.3h0M759.5 281.9h0M765.8 283.7h0M772.2 285.7h0M778.5 287.7h0M784.9 290h0M816.7 303.1h0M823 306h0M829.4 309.2h0M835.8 312.4h0M842.1 315.7h0M848.5 319.1h0M854.5 322.5h0M859.1 325.1h0M863.4 327.6h0M869.2 331h0M874.4 334.1h0M882.1 338.8h0M888.3 342.7h0M894.1 346.4h0M900.4 350.5h0M907.7 355.3h0M914 359.5h0M920.1 364h0M927.7 371.2h0M935.3 378.4h0M942.9 385.7h0M950.5 393h0M958.1 400.4h0M965.7 407h0M973.3 412.6h0M980.9 418.2h0M988.5 423.9h0M996.1 429.6h0M1003.7 435.4h0M1011.3 441.2h0M1018.9 447h0M1026.5 452.9h0M1034.2 458.7h0M1041.8 464.6h0M1049.4 470.5h0M1057 476.5h0M1064.6 482.4h0M1072.2 488.4h0M1079.8 494.4h0M1087.4 500.4h0M1095 506.4h0M1102.6 512.4h0M1110.2 518.4h0M1117.8 524.4h0M1125.4 530.5h0M1133 536.5h0M1140.6 542.6h0M346.3 919.3h0M352.6 881.6h0M359 845.9h0M365.3 812.3h0M371.7 780.6h0M378 750.7h0M384.4 722.5h0M390.8 696h0M397.1 670.9h0M403.5 647.2h0M409.8 624.9h0M422.5 584h0M428.9 565.3h0M435.3 547.6h0M441.6 531h0M448 515.3h0M454.3 500.5h0M460.7 486.6h0M467 473.4h0M473.4 461h0M479.8 449.3h0M486.1 438.3h0M492.5 428h0M498.8 418.2h0M505.2 409h0M511.5 400.3h0M517.9 392.2h0M524.3 384.5h0M530.6 377.3h0M537 370.5h0M543.3 364.1h0M549.7 358.1h0M556 352.5h0M562.4 347.2h0M568.8 342.3h0M575.1 337.6h0M581.5 333.3h0M587.8 329.2h0M594.2 325.4h0M600.5 321.9h0M606.9 318.6h0M613.3 315.6h0M619.6 312.8h0M626 310.2h0M632.3 307.8h0M638.7 305.6h0M645 303.7h0M651.4 301.9h0M657.8 300.3h0M664.1 298.8h0M670.5 297.6h0M676.8 296.5h0M683.2 295.6h0M689.5 294.9h0M695.9 294.3h0M702.3 293.8h0M708.6 293.6h0M715 293.5h0M721.3 293.5h0M727.7 293.7h0M734 294.1h0M740.4 294.6h0M746.8 295.2h0M753.1 296h0M759.5 297h0M765.8 298.1h0M772.2 299.3h0M778.5 300.7h0M784.9 302.2h0M791.3 303.9h0M797.6 305.7h0M804 307.7h0M810.3 309.8h0M816.7 312h0M823 314.4h0M829.4 316.8h0M835.8 319.5h0M842.1 322.2h0M848.5 325.1h0M854.5 327.9h0M859.1 330.1h0M863.4 332.2h0M869.2 335.2h0M874.4 337.9h0M882.1 342.1h0M888.3 345.5h0M894.1 348.8h0M900.4 352.5h0M907.7 356.9h0M927.7 371.6h0M958.1 399.6h0M973.3 411.2h0M980.9 416.6h0M988.5 422h0M996.1 427.6h0M1003.7 433.1h0M1011.3 438.7h0M1018.9 444.4h0M1026.5 450.1h0M1034.2 455.8h0M1041.8 461.6h0M1049.4 467.4h0M1057 473.2h0M1064.6 479h0M1072.2 484.9h0M1079.8 490.8h0M1087.4 496.7h0M1095 502.6h0M1102.6 508.6h0M1110.2 514.6h0M1117.8 520.5h0M1125.4 526.5h0M1133 532.5h0M1140.6 538.6h0M378 910h0M384.4 869.1h0M390.8 830.6h0M397.1 794.5h0M403.5 760.6h0M409.8 728.7h0M416.2 698.8h0M422.5 670.6h0M428.9 644.2h0M435.3 619.4h0M441.6 596.2h0M448 574.3h0M454.3 553.8h0M460.7 534.5h0M467 516.4h0M473.4 499.4h0M479.8 483.5h0M486.1 468.5h0M492.5 454.4h0M498.8 441.2h0M505.2 428.9h0M511.5 417.3h0M517.9 406.4h0M524.3 396.2h0M530.6 386.6h0M537 377.7h0M543.3 369.3h0M549.7 361.4h0M556 354h0M568.8 340.7h0M575.1 334.7h0M581.5 329.1h0M587.8 323.9h0M594.2 319h0M600.5 314.4h0M606.9 310.2h0M613.3 306.3h0M619.6 302.7h0M626 299.4h0M632.3 296.3h0M638.7 293.5h0M645 290.9h0M651.4 288.6h0M657.8 286.5h0M664.1 284.6h0M670.5 282.9h0M676.8 281.4h0M683.2 280.2h0M689.5 279.1h0M715 276.5h0M721.3 276.3h0M746.8 277.2h0M753.1 277.9h0M759.5 278.7h0M765.8 279.6h0M772.2 280.7h0M778.5 282h0M797.6 286.7h0M804 288.5h0M810.3 290.5h0M816.7 292.6h0M823 294.9h0M829.4 297.3h0M835.8 299.9h0M842.1 302.5h0M848.5 305.3h0M854.5 308.1h0M859.1 310.3h0M863.4 312.4h0M869.2 315.3h0M874.4 318h0M882.1 322.1h0M888.3 325.5h0M894.1 328.7h0M900.4 332.4h0M907.7 336.7h0M914 340.5h0M920.1 344.7h0M927.7 351.4h0M935.3 358.2h0M942.9 365.1h0M950.5 372.1h0M958.1 379.2h0M965.7 385.5h0M973.3 390.8h0M980.9 396.2h0M988.5 401.6h0M996.1 407.1h0M1003.7 412.7h0M1011.3 418.3h0M1018.9 423.9h0M1026.5 429.6h0M1034.2 435.3h0M1041.8 441.1h0M1049.4 446.9h0M1057 452.7h0M1064.6 458.5h0M1072.2 464.4h0M1079.8 470.3h0M333.5 908.4h0M339.9 869.5h0M346.3 832.7h0M352.6 798h0M359 765.3h0M365.3 734.4h0M371.7 705.3h0M378 677.8h0M384.4 651.8h0M390.8 627.4h0M397.1 604.3h0M403.5 582.5h0M409.8 562h0M416.2 542.6h0M422.5 524.3h0M428.9 507.1h0M435.3 490.8h0M441.6 475.5h0M448 461h0M454.3 447.3h0M460.7 434.5h0M467 422.4h0M473.4 410.9h0M479.8 400.1h0M486.1 390h0M492.5 380.4h0M498.8 371.4h0M505.2 362.9h0M511.5 354.9h0M517.9 347.3h0M524.3 340.3h0M530.6 333.6h0M537 327.3h0M543.3 321.4h0M549.7 315.9h0M556 310.7h0M568.8 301.2h0M594.2 285.7h0M600.5 282.5h0M606.9 279.4h0M613.3 276.7h0M619.6 274.1h0M626 271.7h0M632.3 269.5h0M657.8 262.7h0M664.1 261.4h0M670.5 260.3h0M676.8 259.3h0M683.2 258.5h0M689.5 257.9h0M695.9 257.4h0M702.3 257.1h0M708.6 256.9h0M715 256.9h0M721.3 257h0M727.7 257.3h0M734 257.7h0M740.4 258.2h0M746.8 259h0M753.1 259.8h0M759.5 260.8h0M765.8 262h0M772.2 263.2h0M797.6 269.8h0M804 271.8h0M810.3 273.9h0M829.4 281.1h0M835.8 283.7h0M842.1 286.5h0M848.5 289.3h0M854.5 292.2h0M859.1 294.4h0M863.4 296.5h0M869.2 299.5h0M888.3 309.9h0M894.1 313.2h0M942.9 349.8h0M965.7 370.3h0M973.3 375.6h0M980.9 381h0M988.5 386.5h0M1003.7 397.6h0M1011.3 403.2h0M1018.9 408.8h0M1087.4 461.2h0M1095 467.1h0M1102.6 473.1h0M1110.2 479h0M1117.8 485h0M1125.4 491h0M1133 497h0M1140.6 503h0M384.4 925.1h0M390.8 879.3h0M397.1 836.3h0M403.5 796h0M409.8 758.2h0M416.2 722.7h0M422.5 689.4h0M428.9 658.2h0M435.3 628.9h0M441.6 601.5h0M448 575.7h0M454.3 551.5h0M460.7 528.8h0M467 507.6h0M473.4 487.7h0M479.8 469h0M486.1 451.4h0M492.5 435h0M498.8 419.6h0M505.2 405.2h0M511.5 391.7h0M517.9 379h0M524.3 367.2h0M530.6 356.1h0M537 345.7h0M543.3 336h0M556 318.5h0M562.4 310.5h0M581.5 289.9h0M587.8 283.9h0M600.5 273.2h0M606.9 268.5h0M613.3 264.1h0M626 256.4h0M632.3 253h0M645 247.1h0M657.8 242.3h0M683.2 235.7h0M702.3 233.1h0M708.6 232.7h0M715 232.5h0M721.3 232.5h0M727.7 232.7h0M734 233h0M740.4 233.6h0M746.8 234.3h0M753.1 235.2h0M759.5 236.3h0M765.8 237.6h0M772.2 239h0M778.5 240.6h0M784.9 242.4h0M791.3 244.3h0M797.6 246.4h0M804 248.6h0M810.3 251h0M816.7 253.5h0M823 256.1h0M829.4 258.9h0M863.4 275.8h0M869.2 279h0M874.4 282h0M882.1 286.4h0M894.1 293.6h0M914 306.2h0M920.1 310.6h0M942.9 331.8h0M1064.6 427.2h0M1072.2 433.1h0M1079.8 439h0M1087.4 445h0M1095 451h0M1102.6 457h0M1110.2 463h0M1117.8 469h0M1125.4 475h0M1133 481h0M1140.6 487.1h0M403.5 926h0M409.8 881.5h0M416.2 839.9h0M422.5 801h0M428.9 764.6h0M435.3 730.5h0M441.6 698.7h0M448 668.9h0M454.3 641.1h0M460.7 615.1h0M467 590.8h0M473.4 568h0M479.8 546.8h0M486.1 526.9h0M492.5 508.3h0M498.8 491h0M505.2 474.7h0M511.5 459.6h0M517.9 445.4h0M524.3 432.2h0M530.6 419.9h0M537 408.4h0M543.3 397.6h0M549.7 387.6h0M556 378.2h0M562.4 369.5h0M568.8 361.4h0M575.1 353.9h0M581.5 346.9h0M587.8 340.3h0M594.2 334.3h0M600.5 328.7h0M606.9 323.5h0M613.3 318.7h0M619.6 314.3h0M632.3 306.5h0M638.7 303h0M645 299.9h0M651.4 297.1h0M657.8 294.6h0M664.1 292.3h0M670.5 290.3h0M676.8 288.5h0M683.2 286.9h0M689.5 285.6h0M695.9 284.5h0M702.3 283.6h0M708.6 283h0M715 282.5h0M721.3 282.2h0M727.7 282.1h0M734 282.2h0M740.4 282.5h0M746.8 283h0M765.8 285.5h0M772.2 286.6h0M791.3 291.1h0M797.6 292.9h0M804 294.8h0M810.3 296.9h0M816.7 299.2h0M823 301.6h0M829.4 304.1h0M835.8 306.8h0M848.5 312.5h0M854.5 315.4h0M859.1 317.6h0M863.4 319.8h0M869.2 322.8h0M874.4 325.6h0M882.1 329.8h0M888.3 333.3h0M894.1 336.7h0M900.4 340.4h0M907.7 344.9h0M914 348.8h0M920.1 353h0M927.7 359.8h0M935.3 366.7h0M942.9 373.7h0M950.5 380.8h0M958.1 388h0M965.7 394.4h0M973.3 399.7h0M980.9 405.2h0M988.5 410.7h0M996.1 416.3h0M1003.7 421.9h0M1011.3 427.5h0M1018.9 433.2h0M1026.5 438.9h0M1034.2 444.7h0M1041.8 450.5h0M1049.4 456.3h0M1057 462.2h0M1064.6 468.1h0M1072.2 474h0M1079.8 479.9h0M1087.4 485.8h0M1095 491.8h0M1102.6 497.7h0M1110.2 503.7h0M1117.8 509.7h0M1125.4 515.7h0M1133 521.7h0M1140.6 527.8h0M378 923.2h0M384.4 884.6h0M390.8 848h0M397.1 813.4h0M403.5 780.8h0M409.8 749.8h0M416.2 720.6h0M422.5 692.9h0M428.9 666.8h0M435.3 642h0M441.6 618.6h0M448 596.5h0M454.3 575.6h0M460.7 555.8h0M467 537.1h0M473.4 519.4h0M479.8 502.7h0M486.1 486.9h0M492.5 472h0M498.8 457.8h0M505.2 444.5h0M511.5 431.9h0M517.9 420h0M524.3 408.7h0M530.6 398.1h0M537 388.1h0M543.3 378.6h0M549.7 369.7h0M556 361.3h0M562.4 353.4h0M568.8 345.9h0M575.1 338.8h0M581.5 332.2h0M587.8 326h0M606.9 309.4h0M613.3 304.6h0M619.6 300.1h0M626 295.9h0M632.3 291.9h0M638.7 288.3h0M645 284.9h0M651.4 281.8h0M664.1 276.2h0M670.5 273.8h0M676.8 271.6h0M683.2 269.7h0M689.5 267.9h0M695.9 266.3h0M702.3 265h0M708.6 263.8h0M715 262.9h0M721.3 262.1h0M734 261.1h0M740.4 260.9h0M746.8 260.9h0M753.1 261.1h0M797.6 266.9h0M804 268.4h0M829.4 275.9h0M835.8 278.1h0M842.1 280.5h0M848.5 283h0M859.1 287.5h0M874.4 294.6h0M882.1 298.5h0M888.3 301.7h0M894.1 304.8h0M900.4 308.2h0M907.7 312.3h0M914 316h0M920.1 319.9h0M927.7 326.5h0M935.3 333.1h0M942.9 339.8h0M950.5 346.7h0M958.1 353.6h0M965.7 359.7h0M973.3 364.9h0M980.9 370.2h0M988.5 375.5h0M996.1 380.9h0M1003.7 386.3h0M1034.2 408.6h0M1079.8 443.2h0M1087.4 449h0M1095 454.9h0M1102.6 460.8h0M1110.2 466.7h0M1117.8 472.7h0M1125.4 478.6h0M1133 484.6h0M1140.6 490.6h0M416.2 907.6h0M422.5 864.6h0M428.9 824.3h0M435.3 786.6h0M441.6 751.3h0M448 718.2h0M454.3 687.2h0M460.7 658.2h0M467 631h0M473.4 605.6h0M479.8 581.8h0M486.1 559.5h0M492.5 538.6h0M498.8 519h0M505.2 500.7h0M511.5 483.6h0M517.9 467.6h0M524.3 452.6h0M530.6 438.5h0M537 425.4h0M543.3 413.1h0M549.7 401.6h0M556 390.9h0M562.4 380.8h0M568.8 371.4h0M575.1 362.7h0M581.5 354.5h0M587.8 346.9h0M594.2 339.7h0M600.5 333.1h0M606.9 326.9h0M613.3 321.1h0M619.6 315.8h0M638.7 302h0M645 298h0M651.4 294.4h0M657.8 291h0M664.1 288h0M670.5 285.2h0M695.9 276.4h0M702.3 274.8h0M715 272.1h0M721.3 271.1h0M727.7 270.3h0M734 269.6h0M740.4 269.2h0M746.8 268.9h0M753.1 268.7h0M765.8 269h0M772.2 269.4h0M784.9 270.7h0M791.3 271.5h0M797.6 272.6h0M823 278.2h0M835.8 281.9h0M854.5 288.4h0M859.1 290.2h0M863.4 291.9h0M869.2 294.3h0M874.4 296.6h0M882.1 300.1h0M888.3 303h0M894.1 305.9h0M900.4 309.1h0M907.7 312.9h0M942.9 339.3h0M958.1 352.7h0M965.7 358.7h0M1003.7 384.6h0M1011.3 390h0M1018.9 395.5h0M1026.5 401h0M1034.2 406.5h0M1041.8 412.2h0M1049.4 417.8h0M1057 423.5h0M1064.6 429.3h0M1072.2 435h0M1079.8 440.8h0M1087.4 446.7h0M1095 452.5h0M1102.6 458.4h0M1110.2 464.3h0M359 901.5h0M365.3 865.4h0M371.7 831.2h0M378 798.7h0M384.4 768h0M390.8 738.9h0M397.1 711.3h0M403.5 685.2h0M409.8 660.4h0M416.2 637h0M422.5 614.8h0M428.9 593.8h0M435.3 573.8h0M441.6 555h0M448 537.1h0M454.3 520.2h0M460.7 504.2h0M467 489h0M473.4 474.6h0M479.8 461.1h0M486.1 448.2h0M492.5 436h0M498.8 424.5h0M505.2 413.6h0M511.5 403.4h0M517.9 393.6h0M530.6 375.8h0M537 367.6h0M543.3 359.9h0M549.7 352.6h0M556 345.7h0M562.4 339.2h0M568.8 333.2h0M575.1 327.5h0M581.5 322.1h0M587.8 317.1h0M594.2 312.4h0M600.5 308h0M606.9 303.9h0M613.3 300.1h0M619.6 296.6h0M626 293.3h0M632.3 290.3h0M651.4 282.8h0M657.8 280.7h0M664.1 278.9h0M676.8 276h0M683.2 274.8h0M689.5 273.9h0M708.6 272.2h0M727.7 272.3h0M734 272.7h0M740.4 273.3h0M746.8 274h0M753.1 275h0M759.5 276.1h0M765.8 277.4h0M784.9 282.2h0M791.3 284.2h0M816.7 293.4h0M829.4 298.8h0M835.8 301.7h0M842.1 304.8h0M848.5 307.9h0M854.5 311h0M859.1 313.4h0M863.4 315.7h0M869.2 318.9h0M874.4 321.9h0M882.1 326.3h0M888.3 330h0M894.1 333.5h0M900.4 337.4h0M907.7 342h0M914 346h0M920.1 350.3h0M927.7 357.3h0M935.3 364.3h0M942.9 371.4h0M950.5 378.6h0M958.1 385.9h0M965.7 392.3h0M973.3 397.7h0M980.9 403.2h0M988.5 408.8h0M996.1 414.4h0M1003.7 420h0M1011.3 425.7h0M1018.9 431.4h0M1026.5 437.2h0M1034.2 442.9h0M1041.8 448.7h0M1049.4 454.6h0M1057 460.4h0M1064.6 466.3h0M1072.2 472.2h0M1079.8 478.1h0M1087.4 484h0M1095 490h0M1102.6 495.9h0M1110.2 501.9h0M1117.8 507.9h0M1125.4 513.9h0M1133 519.9h0M1140.6 525.9h0M371.7 929.1h0M378 884.9h0M384.4 843.2h0M390.8 804h0M397.1 767.1h0M403.5 732.4h0M409.8 699.7h0M416.2 669h0M422.5 640h0M428.9 612.8h0M435.3 587.2h0M441.6 563.2h0M448 540.5h0M454.3 519.2h0M460.7 499.2h0M467 480.3h0M473.4 462.6h0M479.8 446h0M486.1 430.3h0M492.5 415.6h0M498.8 401.7h0M505.2 388.7h0M511.5 376.5h0M517.9 365.1h0M530.6 344.2h0M537 334.7h0M543.3 325.9h0M549.7 317.5h0M562.4 302.5h0M568.8 295.6h0M575.1 289.3h0M587.8 277.8h0M594.2 272.7h0M600.5 267.9h0M613.3 259.4h0M632.3 249h0M638.7 246.1h0M670.5 235.6h0M683.2 233.1h0M689.5 232.1h0M695.9 231.4h0M702.3 230.9h0M708.6 230.6h0M715 230.5h0M721.3 230.6h0M727.7 230.9h0M734 231.3h0M740.4 232h0M746.8 232.8h0M753.1 233.9h0M759.5 235.1h0M784.9 241.5h0M888.3 290.5h0M900.4 298h0M907.7 302.7h0M1026.5 398.7h0M1034.2 404.6h0M1041.8 410.4h0M1049.4 416.3h0M390.8 912.2h0M397.1 874.5h0M403.5 838.9h0M409.8 805.3h0M416.2 773.5h0M422.5 743.5h0M428.9 715.2h0M435.3 688.4h0M441.6 663.1h0M448 639.3h0M454.3 616.7h0M460.7 595.4h0M467 575.3h0M473.4 556.3h0M479.8 538.4h0M486.1 521.5h0M492.5 505.5h0M505.2 476.2h0M511.5 462.8h0M517.9 450.1h0M524.3 438.2h0M530.6 426.9h0M537 416.3h0M543.3 406.3h0M549.7 396.8h0M556 387.9h0M562.4 379.6h0M575.1 364.3h0M581.5 357.3h0M587.8 350.8h0M594.2 344.6h0M600.5 338.9h0M606.9 333.5h0M613.3 328.5h0M619.6 323.8h0M626 319.4h0M632.3 315.3h0M638.7 311.5h0M645 308h0M651.4 304.8h0M657.8 301.8h0M676.8 294.4h0M683.2 292.4h0M689.5 290.6h0M695.9 289h0M702.3 287.7h0M708.6 286.5h0M715 285.6h0M721.3 284.8h0M727.7 284.3h0M734 283.9h0M740.4 283.7h0M778.5 286.5h0M784.9 287.6h0M791.3 288.8h0M797.6 290.2h0M804 291.8h0M816.7 295.4h0M823 297.5h0M829.4 299.6h0M854.5 309.6h0M859.1 311.7h0M863.4 313.6h0M869.2 316.4h0M874.4 318.9h0M894.1 329.3h0M907.7 337h0M958.1 378.7h0M973.3 390.1h0M988.5 400.7h0M1018.9 422.7h0M1079.8 468.7h0M1087.4 474.6h0M1095 480.5h0M1102.6 486.4h0M1110.2 492.3h0M1117.8 498.3h0M1125.4 504.2h0M1133 510.2h0M1140.6 516.2h0M390.8 902h0M397.1 865.7h0M403.5 831.4h0M409.8 798.9h0M416.2 768.1h0M422.5 739h0M428.9 711.5h0M435.3 685.5h0M441.6 660.9h0M448 637.6h0M454.3 615.6h0M467 575.2h0M492.5 506.6h0M498.8 491.7h0M505.2 477.7h0M511.5 464.4h0M517.9 451.9h0M524.3 440h0M530.6 428.8h0M537 418.3h0M543.3 408.3h0M549.7 398.9h0M556 390h0M568.8 373.8h0M575.1 366.3h0M581.5 359.3h0M587.8 352.7h0M594.2 346.6h0M600.5 340.8h0M606.9 335.3h0M613.3 330.2h0M619.6 325.4h0M626 321h0M632.3 316.8h0M638.7 312.9h0M645 309.3h0M651.4 306h0M657.8 303h0M664.1 300.1h0M676.8 295.2h0M715 285.8h0M759.5 283.9h0M784.9 286.8h0M791.3 288h0M810.3 292.4h0M874.4 317h0M882.1 320.9h0M888.3 324.1h0M894.1 327.2h0M900.4 330.6h0M907.7 334.8h0M914 338.4h0M920.1 342.4h0M927.7 348.9h0M935.3 355.6h0M942.9 362.3h0M958.1 376.1h0M973.3 387.4h0M988.5 398h0M996.1 403.4h0M1003.7 408.8h0M1011.3 414.3h0M1018.9 419.9h0M1026.5 425.5h0M1034.2 431.1h0M1041.8 436.8h0M1049.4 442.5h0M1057 448.3h0M1064.6 454.1h0M1072.2 459.9h0M1079.8 465.7h0M1087.4 471.6h0M1095 477.4h0M1102.6 483.3h0M1110.2 489.3h0M1117.8 495.2h0M1125.4 501.1h0M1133 507.1h0M1140.6 513.1h0M428.9 930.4h0M435.3 889.3h0M441.6 850.8h0M448 814.7h0M454.3 780.8h0M460.7 749.1h0M467 719.3h0M473.4 691.4h0M479.8 665.3h0M486.1 640.8h0M492.5 617.8h0M498.8 596.3h0M505.2 576.1h0M511.5 557.2h0M517.9 539.5h0M524.3 522.9h0M530.6 507.4h0M537 492.9h0M543.3 479.2h0M549.7 466.5h0M556 454.6h0M562.4 443.4h0M568.8 433h0M575.1 423.2h0M581.5 414.1h0M587.8 405.6h0M594.2 397.7h0M600.5 390.3h0M606.9 383.4h0M613.3 377h0M619.6 371h0M626 365.5h0M632.3 360.4h0M638.7 355.6h0M645 351.2h0M651.4 347.2h0M657.8 343.5h0M664.1 340.1h0M670.5 337.1h0M676.8 334.3h0M683.2 331.8h0M689.5 329.5h0M695.9 327.5h0M702.3 325.8h0M708.6 324.3h0M715 323h0M721.3 322h0M727.7 321.1h0M734 320.5h0M740.4 320.1h0M746.8 319.9h0M753.1 319.9h0M759.5 320.1h0M765.8 320.5h0M772.2 321.1h0M778.5 321.8h0M784.9 322.7h0M791.3 323.8h0M797.6 325.1h0M804 326.6h0M810.3 328.2h0M816.7 329.9h0M823 331.9h0M829.4 334h0M835.8 336.2h0M842.1 338.6h0M848.5 341.1h0M854.5 343.6h0M859.1 345.6h0M863.4 347.5h0M869.2 350.2h0M874.4 352.7h0M882.1 356.6h0M888.3 359.8h0M894.1 362.9h0M900.4 366.3h0M907.7 370.5h0M914 374.1h0M920.1 378.1h0M927.7 384.7h0M935.3 391.4h0M942.9 398.1h0M950.5 405h0M958.1 412h0M965.7 418.1h0M973.3 423.4h0M980.9 428.6h0M988.5 434h0M996.1 439.4h0M1003.7 444.9h0M1011.3 450.4h0M1018.9 456h0M1026.5 461.6h0M1034.2 467.3h0M1041.8 473h0M1049.4 478.8h0M1057 484.5h0M1064.6 490.3h0M1072.2 496.2h0M1079.8 502h0M1087.4 507.9h0M1095 513.8h0M1102.6 519.8h0M1110.2 525.7h0M1117.8 531.7h0M1125.4 537.6h0M1133 543.6h0M1140.6 549.6h0M435.3 885.1h0M441.6 842.4h0M448 802.5h0M454.3 765.1h0M460.7 730.1h0M467 697.3h0M473.4 666.6h0M479.8 637.9h0M486.1 611h0M492.5 585.8h0M498.8 562.3h0M505.2 540.2h0M511.5 519.6h0M517.9 500.3h0M524.3 482.2h0M530.6 465.3h0M537 449.5h0M543.3 434.8h0M549.7 421h0M556 408.1h0M562.4 396.1h0M568.8 384.8h0M575.1 374.3h0M581.5 364.6h0M587.8 355.4h0M606.9 331.7h0M613.3 324.9h0M619.6 318.6h0M626 312.7h0M657.8 289.7h0M664.1 286.2h0M676.8 280.2h0M689.5 275.4h0M702.3 271.8h0M708.6 270.3h0M715 269.1h0M721.3 268.2h0M734 267h0M740.4 266.7h0M746.8 266.7h0M759.5 267.2h0M804 275.2h0M810.3 277.1h0M823 281.2h0M829.4 283.6h0M835.8 286h0M863.4 298.4h0M869.2 301.3h0M874.4 303.9h0M882.1 308h0M888.3 311.4h0M894.1 314.7h0M900.4 318.4h0M907.7 322.7h0M914 326.5h0M927.7 337.4h0M935.3 344.3h0M950.5 358.2h0M958.1 365.3h0M1026.5 415.9h0M1034.2 421.6h0M428.9 905.8h0M435.3 863.3h0M441.6 823.5h0M448 786.2h0M454.3 751.1h0M460.7 718.3h0M467 687.5h0M473.4 658.6h0M479.8 631.5h0M486.1 606.1h0M492.5 582.3h0M498.8 559.9h0M505.2 539h0M524.3 483.8h0M530.6 467.6h0M537 452.5h0M543.3 438.3h0M549.7 425h0M556 412.6h0M562.4 401h0M568.8 390.1h0M575.1 379.9h0M581.5 370.4h0M587.8 361.5h0M594.2 353.2h0M600.5 345.4h0M606.9 338.2h0M613.3 331.4h0M632.3 313.9h0M638.7 308.9h0M645 304.2h0M651.4 299.9h0M657.8 296h0M670.5 289h0M676.8 286h0M683.2 283.2h0M689.5 280.7h0M695.9 278.5h0M702.3 276.5h0M708.6 274.8h0M727.7 271h0M842.1 284.5h0M859.1 291h0M869.2 295.4h0M894.1 307.4h0M900.4 310.7h0M907.7 314.7h0M914 318.2h0M920.1 322.1h0M927.7 328.5h0M935.3 335h0M942.9 341.7h0M950.5 348.4h0M958.1 355.3h0M965.7 361.3h0M973.3 366.4h0M980.9 371.6h0M988.5 376.9h0M996.1 382.3h0M1011.3 393.1h0M1018.9 398.6h0M1041.8 415.5h0M1049.4 421.2h0M1057 426.9h0M397.1 897.4h0M403.5 858.4h0M409.8 821.5h0M416.2 786.7h0M422.5 753.9h0M428.9 723h0M435.3 693.8h0M441.6 666.2h0M448 640.2h0M460.7 592.6h0M467 570.8h0M473.4 550.2h0M479.8 530.9h0M486.1 512.6h0M492.5 495.3h0M498.8 479.1h0M505.2 463.8h0M511.5 449.4h0M517.9 435.8h0M524.3 423h0M530.6 410.9h0M537 399.6h0M543.3 388.9h0M549.7 378.8h0M556 369.4h0M562.4 360.5h0M568.8 352.2h0M575.1 344.4h0M581.5 337h0M587.8 330.2h0M594.2 323.8h0M600.5 317.8h0M606.9 312.1h0M613.3 306.9h0M619.6 302.1h0M626 297.6h0M632.3 293.4h0M638.7 289.5h0M645 286h0M702.3 266.5h0M740.4 264h0M772.2 267.5h0M778.5 268.7h0M804 275.4h0M816.7 279.8h0M842.1 290.1h0M848.5 293.1h0M854.5 296h0M859.1 298.2h0M927.7 340.6h0M942.9 354.5h0M950.5 361.6h0M965.7 375.1h0M980.9 385.9h0M1003.7 402.6h0M1011.3 408.2h0M1041.8 431.1h0M1049.4 436.9h0M1057 442.8h0M409.8 917.5h0M416.2 879.2h0M422.5 843.1h0M428.9 809h0M435.3 776.8h0M441.6 746.5h0M454.3 690.9h0M460.7 665.5h0M467 641.5h0M473.4 618.8h0M479.8 597.5h0M486.1 577.4h0M492.5 558.4h0M498.8 540.6h0M505.2 523.7h0M511.5 507.9h0M517.9 492.9h0M524.3 478.8h0M543.3 441.4h0M549.7 430.3h0M556 419.9h0M562.4 410.2h0M568.8 401h0M575.1 392.4h0M581.5 384.4h0M587.8 376.8h0M594.2 369.7h0M600.5 363.1h0M606.9 357h0M613.3 351.2h0M619.6 345.9h0M626 340.9h0M632.3 336.3h0M638.7 332.1h0M645 328.2h0M651.4 324.6h0M657.8 321.3h0M664.1 318.3h0M670.5 315.7h0M676.8 313.3h0M683.2 311.1h0M689.5 309.3h0M695.9 307.7h0M702.3 306.3h0M708.6 305.2h0M715 304.4h0M721.3 303.7h0M727.7 303.3h0M734 303.2h0M740.4 303.2h0M746.8 303.4h0M753.1 303.9h0M759.5 304.5h0M765.8 305.4h0M772.2 306.4h0M778.5 307.6h0M784.9 309.1h0M791.3 310.6h0M797.6 312.4h0M804 314.3h0M810.3 316.4h0M816.7 318.7h0M823 321.1h0M829.4 323.6h0M835.8 326.3h0M842.1 329.1h0M848.5 332h0M854.5 334.9h0M859.1 337.2h0M863.4 339.4h0M869.2 342.5h0M874.4 345.3h0M882.1 349.5h0M888.3 353.1h0M894.1 356.5h0M900.4 360.3h0M907.7 364.7h0M914 368.7h0M920.1 372.9h0M927.7 379.8h0M935.3 386.7h0M942.9 393.7h0M950.5 400.8h0M958.1 408h0M965.7 414.4h0M973.3 419.7h0M980.9 425.2h0M988.5 430.7h0M996.1 436.2h0M1003.7 441.8h0M1011.3 447.5h0M1018.9 453.2h0M1026.5 458.9h0M1034.2 464.6h0M1041.8 470.4h0M1049.4 476.2h0M1057 482.1h0M1064.6 487.9h0M1072.2 493.8h0M1079.8 499.7h0M1087.4 505.6h0M1095 511.6h0M1102.6 517.5h0M1110.2 523.5h0M1117.8 529.4h0M1125.4 535.4h0M1133 541.4h0M1140.6 547.5h0M441.6 897.7h0M448 859.7h0M454.3 824.1h0M460.7 790.6h0M467 759.2h0M473.4 729.7h0M479.8 702h0M486.1 676h0M492.5 651.6h0M498.8 628.6h0M505.2 607.1h0M511.5 586.9h0M517.9 568h0M524.3 550.2h0M530.6 533.5h0M537 517.8h0M543.3 503.1h0M549.7 489.4h0M556 476.4h0M562.4 464.3h0M568.8 452.9h0M575.1 442.3h0M581.5 432.3h0M587.8 423h0M594.2 414.2h0M600.5 406h0M606.9 398.4h0M613.3 391.2h0M619.6 384.5h0M626 378.3h0M632.3 372.5h0M638.7 367.1h0M645 362h0M651.4 357.3h0M657.8 353h0M664.1 349h0M670.5 345.3h0M676.8 341.9h0M683.2 338.7h0M689.5 335.9h0M695.9 333.3h0M702.3 330.9h0M708.6 328.8h0M715 326.9h0M721.3 325.3h0M727.7 323.8h0M734 322.6h0M740.4 321.6h0M746.8 320.7h0M765.8 319.4h0M772.2 319.3h0M778.5 319.4h0M784.9 319.7h0M791.3 320.2h0M797.6 320.8h0M804 321.6h0M810.3 322.5h0M816.7 323.7h0M823 325h0M829.4 326.4h0M835.8 328h0M842.1 329.8h0M854.5 333.6h0M859.1 335.2h0M863.4 336.7h0M869.2 338.9h0M874.4 340.9h0M882.1 344.1h0M888.3 346.8h0M920.1 362.8h0M927.7 368.9h0M935.3 375.1h0M942.9 381.4h0M950.5 387.9h0M973.3 405.2h0M1011.3 430.8h0M1018.9 436.2h0M1026.5 441.6h0M1034.2 447.1h0M1041.8 452.7h0M1049.4 458.2h0M1057 463.9h0M1064.6 469.6h0M1072.2 475.3h0M1079.8 481h0M1087.4 486.8h0M441.6 928.2h0M448 884.1h0M454.3 842.8h0M460.7 804.1h0M467 767.9h0M473.4 734h0M486.1 672.6h0M492.5 644.8h0M498.8 618.8h0M505.2 594.5h0M511.5 571.7h0M517.9 550.4h0M524.3 530.5h0M530.6 511.8h0M537 494.4h0M549.7 462.9h0M556 448.6h0M562.4 435.3h0M568.8 422.9h0M575.1 411.3h0M581.5 400.4h0M587.8 390.3h0M594.2 380.9h0M600.5 372.1h0M606.9 363.9h0M613.3 356.3h0M619.6 349.2h0M626 342.7h0M645 325.7h0M651.4 320.9h0M657.8 316.5h0M664.1 312.5h0M670.5 308.8h0M676.8 305.4h0M683.2 302.4h0M689.5 299.6h0M695.9 297.2h0M702.3 295h0M708.6 293.1h0M715 291.4h0M721.3 290.1h0M727.7 288.9h0M734 288h0M740.4 287.3h0M746.8 286.8h0M753.1 286.6h0M759.5 286.5h0M797.6 290.4h0M914 337.8h0M927.7 348.3h0M965.7 381.5h0M980.9 392h0M996.1 402.7h0M1003.7 408.1h0M1018.9 419.2h0M1026.5 424.8h0M1057 447.7h0M1064.6 453.5h0M1072.2 459.3h0M422.5 931.6h0M428.9 892.6h0M435.3 855.8h0M441.6 821h0M448 788.3h0M454.3 757.4h0M460.7 728.3h0M467 700.8h0M473.4 674.9h0M479.8 650.5h0M486.1 627.5h0M492.5 605.8h0M498.8 585.4h0M505.2 566.1h0M511.5 548h0M517.9 530.9h0M524.3 514.7h0M530.6 499.6h0M537 485.3h0M543.3 471.8h0M549.7 459.2h0M556 447.3h0M562.4 436.1h0M568.8 425.5h0M575.1 415.6h0M581.5 406.3h0M587.8 397.6h0M594.2 389.4h0M600.5 381.8h0M606.9 374.6h0M613.3 367.9h0M619.6 361.7h0M626 355.8h0M632.3 350.4h0M638.7 345.3h0M645 340.7h0M651.4 336.4h0M657.8 332.4h0M664.1 328.7h0M670.5 325.4h0M676.8 322.3h0M683.2 319.6h0M689.5 317.1h0M695.9 315h0M702.3 313h0M708.6 311.4h0M715 310h0M721.3 308.8h0M727.7 307.9h0M734 307.2h0M740.4 306.7h0M746.8 306.4h0M753.1 306.4h0M759.5 306.6h0M765.8 307h0M772.2 307.6h0M778.5 308.3h0M804 313.4h0M810.3 315.1h0M816.7 316.9h0M823 318.9h0M829.4 321.1h0M835.8 323.5h0M842.1 326h0M848.5 328.6h0M854.5 331.2h0M859.1 333.3h0M869.2 338.1h0M882.1 344.6h0M888.3 347.9h0M894.1 351.1h0M900.4 354.7h0M907.7 358.9h0M914 362.7h0M920.1 366.7h0M927.7 373.4h0M935.3 380.1h0M942.9 387h0M950.5 393.9h0M988.5 423.1h0M1011.3 439.6h0M1018.9 445.2h0M1026.5 450.9h0M1057 473.8h0M1064.6 479.6h0M1072.2 485.5h0M1079.8 491.3h0M416.2 897.3h0M422.5 858.3h0M428.9 821.5h0M435.3 786.8h0M441.6 754h0M448 723.1h0M454.3 694h0M467 640.6h0M473.4 616.1h0M479.8 593.1h0M486.1 571.3h0M492.5 550.8h0M498.8 531.5h0M505.2 513.2h0M511.5 496h0M517.9 479.8h0M524.3 464.6h0M530.6 450.2h0M537 436.6h0M543.3 423.8h0M549.7 411.8h0M556 400.5h0M562.4 389.8h0M568.8 379.8h0M575.1 370.4h0M581.5 361.5h0M600.5 338h0M613.3 324.7h0M626 313.1h0M708.6 269h0M715 267.5h0M721.3 266.2h0M727.7 265.1h0M746.8 263.2h0M753.1 262.9h0M759.5 262.9h0M772.2 263.4h0M823 272.6h0M829.4 274.5h0M835.8 276.6h0M842.1 278.8h0M848.5 281.2h0M854.5 283.5h0M859.1 285.4h0M863.4 287.3h0M869.2 289.8h0M874.4 292.2h0M882.1 295.9h0M888.3 299h0M894.1 302h0M900.4 305.3h0M907.7 309.3h0M914 312.9h0M920.1 316.8h0M927.7 323.2h0M935.3 329.8h0M958.1 350.1h0M965.7 356.2h0M973.3 361.3h0M980.9 366.5h0M988.5 371.8h0M1003.7 382.5h0M1011.3 388h0M448 908h0M454.3 870.4h0M460.7 834.8h0M467 801.2h0M473.4 769.4h0M479.8 739.4h0M486.1 711.1h0M492.5 684.4h0M498.8 659.1h0M505.2 635.3h0M511.5 612.8h0M517.9 591.5h0M524.3 571.5h0M530.6 552.5h0M537 534.7h0M543.3 517.8h0M549.7 501.9h0M556 486.9h0M562.4 472.8h0M568.8 459.5h0M575.1 447h0M581.5 435.1h0M587.8 424h0M600.5 403.7h0M606.9 394.5h0M613.3 385.8h0M619.6 377.7h0M626 370.1h0M632.3 362.9h0M638.7 356.3h0M645 350.1h0M651.4 344.3h0M657.8 338.9h0M664.1 333.9h0M670.5 329.3h0M676.8 325h0M683.2 321.1h0M689.5 317.6h0M702.3 311.4h0M708.6 308.8h0M715 306.5h0M721.3 304.4h0M734 301.2h0M740.4 299.9h0M746.8 298.9h0M753.1 298.2h0M765.8 297.5h0M772.2 297.4h0M778.5 297.6h0M784.9 298h0M791.3 298.7h0M797.6 299.5h0M804 300.5h0M810.3 301.8h0M829.4 306.5h0M835.8 308.5h0M842.1 310.6h0M859.1 317h0M869.2 321.3h0M874.4 323.7h0M900.4 336.6h0M907.7 340.6h0M914 344.2h0M920.1 348h0M927.7 354.5h0M935.3 361h0M942.9 367.6h0M950.5 374.4h0M958.1 381.2h0M965.7 387.3h0M973.3 392.4h0M980.9 397.6h0M988.5 402.8h0M996.1 408.1h0M1003.7 413.5h0M1026.5 430h0M467 903.8h0M473.4 866.6h0M479.8 831.7h0M486.1 798.9h0M492.5 768.1h0M498.8 739.2h0M505.2 712h0M511.5 686.5h0M517.9 662.6h0M524.3 640.1h0M530.6 618.9h0M537 599.1h0M543.3 580.5h0M549.7 563h0M556 546.6h0M562.4 531.2h0M568.8 516.8h0M575.1 503.2h0M581.5 490.5h0M587.8 478.6h0M594.2 467.5h0M600.5 457h0M606.9 447.2h0M613.3 438h0M619.6 429.4h0M626 421.4h0M632.3 413.9h0M638.7 406.9h0M645 400.3h0M651.4 394.2h0M657.8 388.6h0M664.1 383.3h0M670.5 378.4h0M676.8 373.9h0M683.2 369.7h0M689.5 365.8h0M695.9 362.2h0M702.3 359h0M708.6 356h0M715 353.3h0M721.3 350.9h0M727.7 348.7h0M734 346.8h0M740.4 345.1h0M746.8 343.6h0M753.1 342.3h0M759.5 341.3h0M765.8 340.5h0M772.2 339.9h0M778.5 339.5h0M784.9 339.3h0M791.3 339.3h0M797.6 339.4h0M804 339.8h0M810.3 340.3h0M816.7 341.1h0M823 342h0M829.4 343h0M835.8 344.3h0M842.1 345.7h0M848.5 347.3h0M854.5 348.9h0M859.1 350.2h0M863.4 351.6h0M869.2 353.5h0M874.4 355.3h0M882.1 358.2h0M907.7 369.1h0M914 372.1h0M920.1 375.5h0M927.7 381.3h0M950.5 399.7h0M958.1 406.1h0M965.7 411.7h0M973.3 416.4h0M980.9 421.2h0M988.5 426.2h0M996.1 431.2h0M1003.7 436.3h0M1034.2 457.4h0M1041.8 462.9h0M460.7 898.5h0M467 860.1h0M473.4 823.9h0M479.8 790h0M486.1 758.1h0M492.5 728.2h0M498.8 700h0M505.2 673.6h0M511.5 648.8h0M517.9 625.6h0M524.3 603.7h0M530.6 583.2h0M537 564h0M543.3 545.9h0M549.7 529h0M556 513.1h0M562.4 498.2h0M568.8 484.3h0M575.1 471.2h0M581.5 458.9h0M587.8 447.5h0M594.2 436.7h0M600.5 426.7h0M606.9 417.3h0M613.3 408.6h0M619.6 400.4h0M626 392.8h0M632.3 385.8h0M638.7 379.2h0M645 373.1h0M651.4 367.5h0M657.8 362.2h0M664.1 357.4h0M670.5 353h0M676.8 349h0M683.2 345.3h0M689.5 342h0M695.9 339h0M702.3 336.3h0M708.6 333.9h0M715 331.8h0M721.3 330h0M727.7 328.5h0M734 327.3h0M740.4 326.3h0M746.8 325.5h0M753.1 325h0M759.5 324.8h0M765.8 324.7h0M772.2 324.9h0M778.5 325.3h0M784.9 325.9h0M791.3 326.8h0M797.6 327.8h0M804 329h0M810.3 330.4h0M816.7 332h0M823 333.8h0M829.4 335.7h0M835.8 337.8h0M842.1 340.1h0M848.5 342.5h0M854.5 344.9h0M859.1 346.9h0M869.2 351.4h0M874.4 353.8h0M888.3 360.8h0M894.1 363.8h0M900.4 367.3h0M907.7 371.4h0M914 375h0M920.1 379h0M927.7 385.5h0M942.9 398.9h0M950.5 405.8h0M973.3 424.1h0M988.5 434.7h0M1011.3 451.1h0M1041.8 473.6h0M1049.4 479.3h0M1110.2 526.2h0M1117.8 532.1h0M1125.4 538.1h0M1133 544h0M1140.6 550h0M460.7 913.1h0M467 872.5h0M473.4 834.2h0M479.8 798.1h0M486.1 764.2h0M492.5 732.2h0M498.8 702.1h0M511.5 647.2h0M517.9 622.1h0M524.3 598.5h0M530.6 576.2h0M537 555.3h0M543.3 535.6h0M549.7 517.1h0M556 499.7h0M562.4 483.4h0M568.8 468h0M575.1 453.5h0M581.5 439.9h0M587.8 427.2h0M594.2 415.2h0M606.9 393.4h0M613.3 383.5h0M619.6 374.2h0M632.3 357.4h0M638.7 349.8h0M645 342.7h0M657.8 330h0M664.1 324.3h0M670.5 319h0M683.2 309.6h0M689.5 305.4h0M695.9 301.6h0M702.3 298.1h0M708.6 295h0M715 292.1h0M727.7 287.3h0M734 285.3h0M759.5 280h0M778.5 278.6h0M784.9 278.6h0M791.3 278.8h0M797.6 279.2h0M804 279.9h0M810.3 280.7h0M823 282.9h0M854.5 291.5h0M869.2 296.9h0M874.4 299h0M882.1 302.3h0M920.1 321.6h0M1026.5 401.5h0M1057 423.8h0M1117.8 470.3h0M448 922.5h0M454.3 884.7h0M460.7 849.1h0M467 815.4h0M473.4 783.7h0M479.8 753.8h0M486.1 725.6h0M492.5 699h0M498.8 673.9h0M505.2 650.2h0M511.5 627.9h0M517.9 606.9h0M524.3 587h0M530.6 568.3h0M537 550.7h0M543.3 534h0M549.7 518.4h0M556 503.6h0M562.4 489.7h0M568.8 476.6h0M575.1 464.3h0M581.5 452.7h0M587.8 441.8h0M594.2 431.5h0M600.5 421.9h0M606.9 412.8h0M613.3 404.3h0M619.6 396.4h0M626 388.9h0M632.3 381.9h0M638.7 375.3h0M645 369.2h0M651.4 363.5h0M657.8 358.2h0M664.1 353.3h0M670.5 348.7h0M676.8 344.5h0M683.2 340.6h0M689.5 337h0M695.9 333.8h0M715 325.7h0M721.3 323.6h0M734 320h0M740.4 318.7h0M746.8 317.5h0M753.1 316.6h0M759.5 315.9h0M765.8 315.5h0M772.2 315.2h0M778.5 315.2h0M784.9 315.4h0M791.3 315.8h0M797.6 316.3h0M804 317.1h0M810.3 318.1h0M816.7 319.2h0M829.4 322.1h0M848.5 327.6h0M854.5 329.7h0M859.1 331.3h0M863.4 333h0M869.2 335.3h0M882.1 340.8h0M888.3 343.6h0M900.4 349.5h0M907.7 353.2h0M914 356.6h0M920.1 360.3h0M927.7 366.5h0M935.3 372.9h0M958.1 392.6h0M980.9 408.6h0M988.5 413.7h0M996.1 418.9h0M1003.7 424.2h0M1011.3 429.6h0M1018.9 435h0M1034.2 446h0M1041.8 451.6h0M486.1 898.1h0M492.5 857.9h0M498.8 820.2h0M505.2 784.9h0M511.5 751.7h0M517.9 720.6h0M524.3 691.4h0M530.6 664h0M537 638.3h0M543.3 614.2h0M549.7 591.6h0M556 570.4h0M562.4 550.6h0M568.8 532h0M575.1 514.5h0M581.5 498.2h0M587.8 482.9h0M600.5 455.1h0M606.9 442.5h0M613.3 430.8h0M619.6 419.8h0M626 409.5h0M632.3 399.9h0M638.7 391h0M645 382.6h0M651.4 374.9h0M657.8 367.6h0M664.1 360.9h0M670.5 354.7h0M683.2 343.6h0M689.5 338.7h0M702.3 330h0M708.6 326.3h0M721.3 319.7h0M727.7 317h0M734 314.5h0M740.4 312.3h0M746.8 310.4h0M753.1 308.8h0M759.5 307.5h0M778.5 305h0M784.9 304.6h0M797.6 304.6h0M804 304.9h0M810.3 305.4h0M816.7 306.1h0M823 307.1h0M863.4 317.3h0M874.4 321.2h0M882.1 324.3h0M888.3 326.9h0M950.5 367.4h0M958.1 373.9h0M965.7 379.7h0M980.9 389.5h0M1018.9 415.5h0M1026.5 421h0M1102.6 477.7h0M1110.2 483.5h0M1117.8 489.4h0M1125.4 495.3h0M1133 501.2h0M1140.6 507.2h0M441.6 901h0M448 865.2h0M454.3 831.3h0M460.7 799.1h0M473.4 739.8h0M479.8 712.5h0M486.1 686.6h0M492.5 662h0M498.8 638.8h0M505.2 616.8h0M511.5 596h0M517.9 576.3h0M524.3 557.6h0M530.6 539.9h0M537 523.2h0M543.3 507.3h0M549.7 492.4h0M556 478.2h0M568.8 452.1h0M575.1 440.1h0M581.5 428.7h0M587.8 418h0M594.2 407.9h0M600.5 398.4h0M606.9 389.4h0M613.3 380.9h0M632.3 358.2h0M638.7 351.6h0M645 345.3h0M651.4 339.5h0M657.8 334h0M670.5 324.1h0M676.8 319.6h0M683.2 315.5h0M689.5 311.7h0M702.3 305h0M708.6 302h0M715 299.3h0M721.3 296.9h0M727.7 294.8h0M734 292.9h0M740.4 291.2h0M746.8 289.8h0M753.1 288.6h0M759.5 287.7h0M791.3 286.2h0M804 287.1h0M810.3 287.8h0M816.7 288.7h0M823 289.9h0M829.4 291.1h0M835.8 292.6h0M863.4 300.9h0M907.7 320h0M914 323.2h0M920.1 326.7h0M935.3 339h0M942.9 345.3h0M950.5 351.7h0M958.1 358.3h0M965.7 364.1h0M973.3 368.9h0M980.9 373.9h0M988.5 378.9h0M996.1 384h0M1003.7 389.2h0M1011.3 394.5h0M1018.9 399.8h0M1026.5 405.2h0M1034.2 410.6h0M1064.6 432.9h0M448 908.6h0M454.3 873.5h0M460.7 840.4h0M467 809.1h0M473.4 779.5h0M479.8 751.6h0M486.1 725.2h0M492.5 700.2h0M498.8 676.7h0M505.2 654.5h0M511.5 633.5h0M517.9 613.6h0M524.3 594.9h0M530.6 577.2h0M537 560.5h0M543.3 544.8h0M556 515.9h0M562.4 502.6h0M568.8 490.2h0M575.1 478.4h0M581.5 467.3h0M587.8 456.8h0M594.2 447h0M600.5 437.7h0M606.9 428.9h0M613.3 420.7h0M619.6 413h0M626 405.7h0M632.3 398.9h0M638.7 392.5h0M645 386.5h0M651.4 380.9h0M657.8 375.7h0M664.1 370.8h0M670.5 366.3h0M676.8 362.1h0M683.2 358.2h0M689.5 354.5h0M695.9 351.2h0M702.3 348.2h0M708.6 345.4h0M715 342.9h0M721.3 340.6h0M727.7 338.6h0M734 336.8h0M740.4 335.2h0M746.8 333.9h0M753.1 332.8h0M759.5 331.9h0M765.8 331.2h0M772.2 330.7h0M778.5 330.4h0M784.9 330.4h0M791.3 330.5h0M797.6 330.8h0M804 331.3h0M810.3 332h0M816.7 332.9h0M842.1 338.1h0M854.5 341.6h0M859.1 343.1h0M863.4 344.5h0M869.2 346.5h0M874.4 348.5h0M882.1 351.5h0M888.3 354.1h0M907.7 363h0M914 366.1h0M920.1 369.6h0M927.7 375.6h0M935.3 381.7h0M942.9 388h0M996.1 426.4h0M1003.7 431.5h0M1011.3 436.8h0M1018.9 442.1h0M1049.4 463.9h0M1079.8 486.5h0M1087.4 492.2h0M1095 498h0M1102.6 503.8h0M1110.2 509.6h0M1117.8 515.5h0M1125.4 521.4h0M1133 527.3h0M460.7 915.6h0M467 876.7h0M473.4 840h0M479.8 805.4h0M486.1 772.9h0M492.5 742.2h0M498.8 713.3h0M505.2 686h0M511.5 660.3h0M517.9 636.2h0M524.3 613.4h0M530.6 591.9h0M537 571.7h0M543.3 552.7h0M549.7 534.8h0M556 518h0M568.8 487.2h0M575.1 473.2h0M581.5 460h0M600.5 425.1h0M606.9 414.9h0M632.3 380h0M638.7 372.7h0M645 365.9h0M651.4 359.5h0M657.8 353.6h0M664.1 348.1h0M670.5 343h0M676.8 338.3h0M683.2 334.1h0M702.3 323.3h0M708.6 320.4h0M715 317.8h0M721.3 315.5h0M727.7 313.5h0M734 311.7h0M740.4 310.3h0M746.8 309.1h0M753.1 308.2h0M784.9 307.2h0M791.3 307.7h0M797.6 308.4h0M804 309.3h0M823 313.3h0M829.4 314.9h0M835.8 316.8h0M842.1 318.8h0M848.5 321h0M869.2 329.2h0M874.4 331.5h0M882.1 335.1h0M907.7 348.2h0M914 351.7h0M920.1 355.6h0M927.7 361.9h0M935.3 368.4h0M942.9 375.1h0M950.5 381.8h0M996.1 415.4h0M1026.5 437.3h0M1064.6 465.6h0M1072.2 471.4h0M1079.8 477.2h0M1087.4 483h0M1095 488.9h0M1102.6 494.8h0M1110.2 500.7h0M1117.8 506.6h0M1125.4 512.5h0M1133 518.5h0M1140.6 524.4h0M486.1 897.3h0M492.5 856.7h0M498.8 818.6h0M505.2 782.9h0M511.5 749.4h0M517.9 718h0M524.3 688.6h0M530.6 661h0M537 635.1h0M543.3 610.8h0M549.7 588.1h0M556 566.8h0M562.4 546.8h0M568.8 528.1h0M575.1 510.6h0M581.5 494.2h0M594.2 464.4h0M600.5 451h0M606.9 438.4h0M613.3 426.6h0M619.6 415.6h0M632.3 395.7h0M638.7 386.7h0M645 378.4h0M651.4 370.6h0M657.8 363.4h0M670.5 350.4h0M689.5 334.4h0M695.9 329.9h0M708.6 321.9h0M727.7 312.6h0M734 310.1h0M740.4 307.9h0M759.5 302.9h0M765.8 301.8h0M772.2 300.9h0M784.9 299.8h0M791.3 299.6h0M835.8 304.1h0M842.1 305.5h0M869.2 313.5h0M874.4 315.3h0M882.1 318.3h0M888.3 320.8h0M894.1 323.3h0M920.1 336.1h0M950.5 360.7h0M958.1 367.2h0M965.7 372.9h0M973.3 377.7h0M1041.8 424.8h0M1049.4 430.3h0M1057 435.9h0M1064.6 441.6h0M1072.2 447.3h0M1079.8 453h0M1087.4 458.8h0M1095 464.6h0M1102.6 470.4h0M1110.2 476.2h0M1117.8 482.1h0M1125.4 488h0M1133 493.9h0M1140.6 499.8h0M505.2 919.2h0M511.5 876h0M517.9 835.7h0M524.3 797.9h0M530.6 762.7h0M537 729.7h0M543.3 698.9h0M549.7 670.2h0M556 643.3h0M562.4 618.2h0M568.8 594.7h0M575.1 572.8h0M581.5 552.4h0M587.8 533.3h0M594.2 515.5h0M600.5 498.8h0M606.9 483.4h0M613.3 468.9h0M619.6 455.5h0M626 443h0M632.3 431.3h0M638.7 420.5h0M645 410.5h0M651.4 401.2h0M657.8 392.5h0M670.5 377.2h0M676.8 370.4h0M683.2 364.1h0M689.5 358.4h0M695.9 353.1h0M708.6 344h0M715 340.1h0M721.3 336.6h0M727.7 333.4h0M734 330.7h0M740.4 328.3h0M753.1 324.4h0M759.5 323h0M765.8 321.9h0M778.5 320.4h0M810.3 321.4h0M816.7 322.3h0M823 323.4h0M848.5 329.9h0M863.4 335h0M874.4 339.4h0M894.1 348.3h0M914 358.5h0M920.1 362.2h0M980.9 410.8h0M996.1 421.3h0M1057 465.6h0M1064.6 471.3h0M1072.2 477.1h0M1079.8 482.9h0M1087.4 488.7h0M1095 494.6h0M1102.6 500.5h0M1110.2 506.4h0M1117.8 512.3h0M1125.4 518.2h0M1133 524.2h0M1140.6 530.1h0M467 902.2h0M473.4 866h0M479.8 831.8h0M492.5 768.9h0M524.3 639.4h0M530.6 617.6h0M537 597h0M543.3 577.5h0M549.7 559.1h0M556 541.8h0M562.4 525.4h0M568.8 509.9h0M575.1 495.4h0M581.5 481.6h0M587.8 468.7h0M594.2 456.5h0M600.5 445h0M606.9 434.2h0M613.3 424h0M619.6 414.5h0M632.3 397.1h0M638.7 389.2h0M657.8 368.7h0M664.1 362.7h0M670.5 357.2h0M676.8 352.1h0M683.2 347.4h0M689.5 343.1h0M708.6 332.4h0M715 329.6h0M721.3 327h0M753.1 318.7h0M759.5 317.9h0M765.8 317.4h0M772.2 317.1h0M778.5 317.1h0M784.9 317.3h0M791.3 317.7h0M797.6 318.3h0M804 319.2h0M816.7 321.6h0M823 323.1h0M874.4 341.4h0M914 361.6h0M950.5 391.6h0M965.7 404.5h0M973.3 409.5h0M980.9 414.7h0M988.5 419.9h0M996.1 425.2h0M1003.7 430.5h0M1041.8 458.1h0M1140.6 533.7h0M479.8 899.7h0M486.1 862.8h0M492.5 828.1h0M498.8 795.3h0M505.2 764.4h0M511.5 735.2h0M517.9 707.8h0M524.3 681.9h0M530.6 657.5h0M549.7 592.4h0M556 573.2h0M562.4 555h0M568.8 537.9h0M575.1 521.9h0M581.5 506.7h0M587.8 492.4h0M594.2 479h0M600.5 466.4h0M606.9 454.5h0M613.3 443.3h0M619.6 432.8h0M626 422.9h0M638.7 404.9h0M645 396.8h0M651.4 389.1h0M657.8 381.9h0M664.1 375.2h0M670.5 368.9h0M676.8 363.1h0M683.2 357.6h0M689.5 352.6h0M695.9 347.9h0M702.3 343.5h0M708.6 339.5h0M715 335.8h0M721.3 332.4h0M727.7 329.3h0M740.4 323.9h0M765.8 316.3h0M778.5 314h0M784.9 313.2h0M791.3 312.6h0M804 312h0M810.3 312.1h0M823 312.7h0M829.4 313.4h0M835.8 314.2h0M854.5 317.6h0M882.1 325.5h0M935.3 352.6h0M988.5 390.1h0M996.1 395h0M1003.7 399.9h0M1064.6 442.4h0M1072.2 448h0M1110.2 476.5h0M1117.8 482.3h0M454.3 930h0M460.7 892.4h0M467 856.8h0M479.8 791.3h0M486.1 761.2h0M492.5 732.8h0M498.8 705.8h0M505.2 680.4h0M511.5 656.3h0M517.9 633.5h0M524.3 612h0M530.6 591.7h0M537 572.4h0M543.3 554.3h0M549.7 537.1h0M556 520.9h0M562.4 505.6h0M575.1 477.6h0M581.5 464.7h0M587.8 452.6h0M594.2 441.2h0M600.5 430.4h0M606.9 420.3h0M613.3 410.8h0M619.6 401.9h0M638.7 378.3h0M645 371.4h0M651.4 365h0M676.8 343.6h0M695.9 331.5h0M702.3 328.2h0M708.6 325.2h0M727.7 318.1h0M734 316.3h0M740.4 314.8h0M746.8 313.6h0M753.1 312.6h0M759.5 311.9h0M765.8 311.5h0M772.2 311.3h0M778.5 311.3h0M784.9 311.6h0M797.6 312.8h0M823 317.7h0M829.4 319.4h0M835.8 321.3h0M842.1 323.3h0M874.4 336.1h0M894.1 345.7h0M1049.4 458.6h0M1095 493.2h0M1102.6 499h0M1110.2 504.9h0M1117.8 510.8h0M505.2 901h0M511.5 857.7h0M517.9 817h0M524.3 779h0M530.6 743.3h0M537 709.8h0M543.3 678.4h0M549.7 649h0M556 621.5h0M562.4 595.7h0M568.8 571.5h0M575.1 548.9h0M581.5 527.7h0M587.8 507.8h0M594.2 489.3h0M600.5 471.9h0M606.9 455.7h0M613.3 440.5h0M619.6 426.4h0M626 413.1h0M638.7 389.4h0M651.4 368.8h0M657.8 359.6h0M664.1 351.1h0M676.8 335.9h0M683.2 329.2h0M689.5 323.1h0M695.9 317.4h0M708.6 307.7h0M715 303.5h0M721.3 299.7h0M727.7 296.4h0M746.8 288.7h0M772.2 283.3h0M791.3 282.4h0M797.6 282.7h0M804 283.2h0M810.3 283.9h0M816.7 284.9h0M829.4 287.6h0M874.4 303.1h0M900.4 315.6h0M950.5 352.9h0M958.1 359.7h0M965.7 365.8h0M973.3 370.9h0M980.9 376h0M988.5 381.3h0M996.1 386.6h0M1003.7 392h0M1011.3 397.4h0M1018.9 402.9h0M1026.5 408.5h0M1034.2 414.1h0M1041.8 419.7h0M1049.4 425.4h0M1057 431.1h0M1064.6 436.9h0M1072.2 442.6h0M1079.8 448.5h0M1087.4 454.3h0M1095 460.2h0M1102.6 466h0M1110.2 471.9h0M1117.8 477.9h0M1125.4 483.8h0M1133 489.8h0M1140.6 495.7h0M505.2 934.1h0M511.5 891.2h0M517.9 851.1h0M524.3 813.6h0M530.6 778.5h0M537 745.6h0M543.3 714.8h0M549.7 686h0M556 659.1h0M562.4 633.9h0M568.8 610.4h0M575.1 588.4h0M581.5 567.8h0M587.8 548.5h0M594.2 530.5h0M600.5 513.7h0M606.9 498h0M613.3 483.3h0M619.6 469.6h0M626 456.9h0M632.3 445h0M638.7 433.9h0M645 423.5h0M651.4 413.9h0M657.8 405h0M664.1 396.7h0M670.5 389h0M676.8 381.8h0M683.2 375.3h0M689.5 369.2h0M695.9 363.6h0M708.6 353.7h0M715 349.4h0M721.3 345.5h0M727.7 342h0M734 338.9h0M740.4 336.1h0M746.8 333.6h0M753.1 331.4h0M759.5 329.6h0M765.8 328h0M772.2 326.7h0M797.6 324.2h0M804 324.2h0M810.3 324.4h0M816.7 324.9h0M914 355.2h0M942.9 376.9h0M958.1 389.7h0M965.7 395.4h0M973.3 400.2h0M1018.9 430.9h0M1041.8 447.3h0M1049.4 452.8h0M1057 458.4h0M1064.6 464.1h0M1072.2 469.8h0M1079.8 475.5h0M1087.4 481.3h0M1095 487.1h0M1102.6 492.9h0M1110.2 498.7h0M1117.8 504.6h0M1125.4 510.5h0M1133 516.4h0M1140.6 522.3h0M530.6 924h0M537 882.1h0M543.3 842.8h0M549.7 806h0M556 771.7h0M562.4 739.5h0M568.8 709.4h0M575.1 681.2h0M581.5 654.9h0M587.8 630.3h0M594.2 607.3h0M600.5 585.8h0M606.9 565.7h0M613.3 546.9h0M619.6 529.3h0M626 513h0M632.3 497.7h0M638.7 483.4h0M645 470.1h0M651.4 457.7h0M657.8 446.2h0M664.1 435.5h0M670.5 425.5h0M676.8 416.2h0M683.2 407.6h0M689.5 399.7h0M695.9 392.3h0M702.3 385.5h0M708.6 379.3h0M715 373.5h0M721.3 368.3h0M727.7 363.5h0M734 359.1h0M740.4 355.2h0M746.8 351.7h0M753.1 348.5h0M759.5 345.7h0M765.8 343.3h0M784.9 337.9h0M791.3 336.7h0M797.6 335.9h0M804 335.2h0M810.3 334.9h0M816.7 334.8h0M848.5 338h0M854.5 339.2h0M859.1 340.2h0M863.4 341.3h0M869.2 342.9h0M882.1 347h0M888.3 349.2h0M988.5 413h0M1003.7 423.1h0M1133 518.2h0M1140.6 524.1h0M492.5 929.3h0M498.8 892.8h0M505.2 858.3h0M511.5 825.7h0M517.9 795h0M524.3 766h0M530.6 738.6h0M537 712.7h0M543.3 688.3h0M549.7 665.2h0M562.4 623h0M568.8 603.6h0M575.1 585.4h0M587.8 552h0M594.2 536.7h0M600.5 522.3h0M606.9 508.8h0M613.3 496.1h0M619.6 484.1h0M626 472.8h0M632.3 462.2h0M638.7 452.3h0M645 443h0M651.4 434.3h0M657.8 426.2h0M664.1 418.6h0M670.5 411.5h0M676.8 404.9h0M683.2 398.7h0M689.5 393.1h0M695.9 387.8h0M702.3 383h0M708.6 378.5h0M715 374.5h0M721.3 370.8h0M727.7 367.5h0M734 364.5h0M740.4 361.8h0M746.8 359.5h0M753.1 357.5h0M759.5 355.8h0M765.8 354.4h0M772.2 353.2h0M778.5 352.4h0M784.9 351.8h0M791.3 351.4h0M797.6 351.4h0M804 351.5h0M810.3 351.9h0M816.7 352.5h0M823 353.4h0M829.4 354.4h0M835.8 355.7h0M842.1 357.1h0M848.5 358.8h0M854.5 360.5h0M859.1 361.9h0M863.4 363.4h0M869.2 365.4h0M874.4 367.3h0M882.1 370.4h0M888.3 373h0M894.1 375.6h0M900.4 378.5h0M907.7 382h0M914 385.2h0M920.1 388.8h0M927.7 394.8h0M935.3 400.9h0M942.9 407.3h0M950.5 413.7h0M958.1 420.2h0M965.7 426h0M973.3 430.9h0M980.9 435.8h0M988.5 440.9h0M996.1 446h0M1003.7 451.2h0M1011.3 456.4h0M1018.9 461.8h0M1026.5 467.1h0M1034.2 472.6h0M1041.8 478.1h0M1049.4 483.6h0M1057 489.2h0M1064.6 494.9h0M1072.2 500.5h0M1079.8 506.3h0M1087.4 512h0M1095 517.8h0M1102.6 523.6h0M1110.2 529.4h0M1117.8 535.2h0M1125.4 541.1h0M1133 547h0M1140.6 552.9h0M511.5 864.8h0M517.9 829.5h0M524.3 796.2h0M530.6 764.7h0M537 735h0M543.3 706.9h0M549.7 680.4h0M556 655.4h0M562.4 631.7h0M568.8 609.4h0M587.8 549.8h0M594.2 532.2h0M600.5 515.5h0M606.9 499.9h0M613.3 485.1h0M619.6 471.2h0M651.4 413.2h0M657.8 403.6h0M664.1 394.7h0M670.5 386.3h0M676.8 378.5h0M683.2 371.2h0M689.5 364.4h0M695.9 358.1h0M702.3 352.3h0M708.6 346.9h0M715 341.9h0M721.3 337.4h0M740.4 326.1h0M746.8 323h0M753.1 320.3h0M772.2 314.2h0M797.6 310.2h0M804 309.8h0M816.7 310h0M823 310.4h0M829.4 311h0M848.5 314.3h0M900.4 331.7h0M950.5 365.4h0M1011.3 407h0M1018.9 412.3h0M1041.8 428.3h0M517.9 924.4h0M524.3 884h0M530.6 846.1h0M537 810.5h0M543.3 777.1h0M549.7 745.6h0M556 716.1h0M562.4 688.4h0M568.8 662.4h0M575.1 637.9h0M581.5 615h0M587.8 593.5h0M594.2 573.2h0M600.5 554.3h0M606.9 536.5h0M613.3 519.8h0M619.6 504.2h0M626 489.5h0M632.3 475.8h0M638.7 462.9h0M645 450.9h0M651.4 439.7h0M657.8 429.1h0M664.1 419.3h0M670.5 410.2h0M676.8 401.7h0M683.2 393.7h0M689.5 386.3h0M695.9 379.5h0M702.3 373.2h0M708.6 367.3h0M715 361.9h0M721.3 357h0M727.7 352.4h0M734 348.3h0M746.8 341.2h0M753.1 338.2h0M759.5 335.5h0M765.8 333.1h0M772.2 331.1h0M784.9 327.9h0M804 325.3h0M810.3 324.9h0M829.4 325.4h0M835.8 326h0M842.1 326.8h0M869.2 332.6h0M882.1 336.5h0M888.3 338.7h0M900.4 343.3h0M907.7 346.4h0M927.7 358h0M942.9 369.7h0M950.5 375.8h0M958.1 382.1h0M1034.2 432.5h0M1041.8 437.9h0M1049.4 443.4h0M543.3 922.9h0M549.7 882.9h0M556 845.4h0M562.4 810.2h0M568.8 777.2h0M575.1 746.3h0M581.5 717.2h0M587.8 690h0M594.2 664.5h0M600.5 640.6h0M606.9 618.2h0M613.3 597.2h0M619.6 577.5h0M626 559.1h0M632.3 541.9h0M638.7 525.8h0M645 510.7h0M651.4 496.6h0M657.8 483.4h0M664.1 471.1h0M670.5 459.7h0M676.8 449h0M683.2 439.1h0M689.5 429.8h0M695.9 421.2h0M702.3 413.3h0M708.6 405.9h0M715 399.1h0M721.3 392.9h0M727.7 387.2h0M734 381.9h0M740.4 377.1h0M746.8 372.8h0M753.1 368.9h0M759.5 365.3h0M765.8 362.2h0M772.2 359.5h0M778.5 357.1h0M784.9 355h0M791.3 353.3h0M797.6 351.9h0M810.3 350.1h0M816.7 349.5h0M823 349.3h0M829.4 349.3h0M835.8 349.6h0M842.1 350.2h0M848.5 350.9h0M854.5 351.9h0M859.1 352.7h0M863.4 353.6h0M869.2 355h0M874.4 356.3h0M900.4 365h0M907.7 367.9h0M914 370.6h0M935.3 384.9h0M942.9 390.8h0M950.5 396.8h0M958.1 403h0M965.7 408.4h0M1072.2 480.4h0M498.8 898.4h0M505.2 861.6h0M511.5 826.9h0M517.9 794h0M524.3 763h0M530.6 733.7h0M537 706.1h0M543.3 679.9h0M549.7 655.3h0M556 632h0M562.4 610h0M568.8 589.3h0M575.1 569.7h0M581.5 551.2h0M594.2 517.3h0M600.5 501.8h0M606.9 487.2h0M613.3 473.5h0M619.6 460.5h0M626 448.3h0M632.3 436.8h0M638.7 426h0M645 415.8h0M651.4 406.3h0M657.8 397.3h0M664.1 388.9h0M670.5 381.1h0M683.2 366.8h0M689.5 360.4h0M695.9 354.5h0M702.3 348.9h0M715 339.1h0M721.3 334.7h0M765.8 313.7h0M778.5 310.4h0M797.6 307.5h0M810.3 306.9h0M816.7 306.9h0M848.5 310.3h0M854.5 311.5h0M882.1 319.2h0M907.7 329.2h0M935.3 346.6h0M942.9 352.5h0M988.5 384.4h0M996.1 389.2h0M1003.7 394.2h0M1011.3 399.3h0M1018.9 404.5h0M1026.5 409.7h0M1034.2 415h0M1087.4 453.6h0M1095 459.3h0M1102.6 465h0M1110.2 470.8h0M1117.8 476.5h0M1125.4 482.4h0M1133 488.2h0M1140.6 494.1h0M505.2 930.6h0M511.5 886.9h0M517.9 845.9h0M524.3 807.4h0M530.6 771.3h0M537 737.5h0M543.3 705.7h0M549.7 676h0M556 648.1h0M568.8 597.3h0M575.1 574.3h0M581.5 552.8h0M587.8 532.6h0M594.2 513.7h0M600.5 496h0M606.9 479.4h0M613.3 463.9h0M619.6 449.4h0M626 435.8h0M632.3 423.2h0M638.7 411.3h0M651.4 390h0M657.8 380.5h0M664.1 371.6h0M670.5 363.3h0M676.8 355.6h0M695.9 336h0M715 320.7h0M721.3 316.5h0M734 309.3h0M753.1 301.3h0M759.5 299.3h0M772.2 296.2h0M778.5 295.2h0M784.9 294.4h0M791.3 293.9h0M797.6 293.6h0M804 293.7h0M829.4 296.1h0M835.8 297.3h0M842.1 298.7h0M848.5 300.3h0M854.5 302h0M874.4 308.6h0M894.1 316.8h0M900.4 319.7h0M935.3 342.2h0M942.9 348.5h0M950.5 354.9h0M965.7 367.3h0M973.3 372.2h0M988.5 382.2h0M1003.7 392.6h0M1133 489.1h0M517.9 911h0M524.3 874.6h0M530.6 840.3h0M537 807.9h0M549.7 748.5h0M556 721.4h0M562.4 695.7h0M568.8 671.6h0M575.1 648.8h0M581.5 627.3h0M587.8 607.1h0M594.2 588h0M600.5 570h0M606.9 553h0M613.3 537.1h0M619.6 522h0M626 507.9h0M632.3 494.6h0M638.7 482.1h0M645 470.3h0M651.4 459.2h0M657.8 448.8h0M664.1 439.1h0M670.5 430h0M676.8 421.4h0M683.2 413.4h0M689.5 405.9h0M695.9 399h0M702.3 392.5h0M708.6 386.4h0M715 380.8h0M721.3 375.6h0M727.7 370.8h0M734 366.4h0M740.4 362.4h0M746.8 358.7h0M753.1 355.4h0M759.5 352.4h0M765.8 349.7h0M772.2 347.4h0M778.5 345.3h0M784.9 343.5h0M791.3 342h0M797.6 340.8h0M810.3 339.1h0M816.7 338.7h0M823 338.5h0M829.4 338.5h0M835.8 338.8h0M854.5 340.8h0M859.1 341.6h0M950.5 383.7h0M988.5 408.5h0M996.1 413.2h0M1003.7 418h0M1011.3 423h0M1018.9 428h0M1026.5 433.1h0M1034.2 438.3h0M1041.8 443.6h0M1049.4 448.9h0M1057 454.3h0M1064.6 459.8h0M1087.4 476.4h0M517.9 915.5h0M530.6 835.1h0M537 798.5h0M543.3 763.9h0M549.7 731.4h0M556 700.8h0M562.4 672h0M568.8 644.9h0M575.1 619.4h0M581.5 595.4h0M587.8 572.9h0M594.2 551.7h0M600.5 531.7h0M606.9 513h0M613.3 495.5h0M619.6 479h0M626 463.5h0M632.3 449h0M638.7 435.4h0M651.4 410.8h0M657.8 399.6h0M664.1 389.3h0M670.5 379.6h0M683.2 362.3h0M702.3 340.8h0M715 329.1h0M727.7 319.5h0M746.8 308.2h0M765.8 300.6h0M772.2 298.8h0M784.9 296.1h0M791.3 295.3h0M920.1 328.6h0M927.7 334.6h0M980.9 375.5h0M996.1 385.6h0M1011.3 396h0M1018.9 401.3h0M1026.5 406.7h0M1034.2 412.1h0M1041.8 417.6h0M1049.4 423.2h0M1057 428.8h0M1064.6 434.4h0M1072.2 440.1h0M1079.8 445.8h0M1087.4 451.5h0M1095 457.3h0M1102.6 463.1h0M1110.2 468.9h0M543.3 918.6h0M549.7 876.9h0M556 837.9h0M562.4 801.2h0M568.8 766.8h0M575.1 734.6h0M581.5 704.3h0M587.8 676h0M594.2 649.4h0M600.5 624.5h0M606.9 601.1h0M613.3 579.2h0M619.6 558.7h0M626 539.5h0M632.3 521.5h0M638.7 504.6h0M645 488.9h0M651.4 474.2h0M657.8 460.4h0M664.1 447.6h0M670.5 435.6h0M676.8 424.4h0M689.5 404.3h0M695.9 395.3h0M702.3 387h0M715 372.2h0M721.3 365.6h0M727.7 359.6h0M734 354h0M740.4 349h0M746.8 344.4h0M753.1 340.2h0M778.5 327.7h0M797.6 322.1h0M810.3 319.9h0M854.5 321.1h0M859.1 321.9h0M863.4 322.7h0M894.1 331.4h0M942.9 359.3h0M996.1 395.5h0M1079.8 454.1h0M1125.4 488.6h0M1133 494.5h0M1140.6 500.3h0M498.8 926.1h0M505.2 888.8h0M511.5 853.5h0M517.9 820.1h0M524.3 788.5h0M530.6 758.6h0M537 730.2h0M543.3 703.5h0M549.7 678.2h0M556 654.2h0M575.1 589.9h0M581.5 570.8h0M594.2 535.6h0M600.5 519.5h0M606.9 504.3h0M613.3 490h0M619.6 476.4h0M632.3 451.7h0M638.7 440.3h0M645 429.7h0M651.4 419.7h0M657.8 410.3h0M664.1 401.5h0M670.5 393.3h0M676.8 385.6h0M683.2 378.4h0M689.5 371.7h0M695.9 365.5h0M702.3 359.7h0M727.7 340.9h0M746.8 330.8h0M753.1 328.1h0M772.2 322h0M804 317.8h0M842.1 321h0M848.5 322.3h0M854.5 323.7h0M863.4 326.2h0M888.3 334.7h0M894.1 337.1h0M907.7 343h0M920.1 349.4h0M927.7 355.2h0M950.5 373.5h0M980.9 394.9h0M1011.3 415h0M1049.4 441.6h0M1117.8 492.6h0M1125.4 498.4h0M1133 504.2h0M1140.6 510.1h0M562.4 928h0M568.8 889.6h0M575.1 853.5h0M581.5 819.6h0M587.8 787.7h0M594.2 757.8h0M600.5 729.8h0M606.9 703.4h0M613.3 678.7h0M619.6 655.6h0M626 633.8h0M632.3 613.4h0M638.7 594.3h0M645 576.4h0M651.4 559.6h0M657.8 543.9h0M664.1 529.2h0M670.5 515.4h0M676.8 502.6h0M683.2 490.6h0M689.5 479.4h0M695.9 468.9h0M702.3 459.2h0M708.6 450.2h0M715 441.8h0M721.3 434.1h0M727.7 426.9h0M734 420.3h0M740.4 414.2h0M746.8 408.6h0M753.1 403.5h0M759.5 398.8h0M765.8 394.6h0M772.2 390.9h0M778.5 387.5h0M784.9 384.5h0M791.3 381.9h0M797.6 379.7h0M804 377.8h0M810.3 376.2h0M816.7 375h0M823 374h0M829.4 373.4h0M835.8 373h0M842.1 372.9h0M848.5 373.1h0M854.5 373.5h0M859.1 374h0M863.4 374.5h0M869.2 375.4h0M874.4 376.4h0M882.1 378h0M888.3 379.6h0M894.1 381.3h0M900.4 383.2h0M907.7 385.7h0M914 388h0M920.1 390.8h0M927.7 395.9h0M935.3 401.3h0M942.9 406.8h0M950.5 412.5h0M958.1 418.4h0M965.7 423.5h0M973.3 427.8h0M980.9 432.2h0M988.5 436.8h0M996.1 441.4h0M1026.5 461.1h0M1034.2 466.3h0M1049.4 476.8h0M1079.8 498.6h0M1087.4 504.2h0M1095 509.8h0M1102.6 515.5h0M1110.2 521.2h0M1117.8 526.9h0M1125.4 532.7h0M1133 538.5h0M1140.6 544.3h0M556 906.2h0M562.4 863.7h0M568.8 823.9h0M575.1 786.6h0M581.5 751.8h0M587.8 719.2h0M594.2 688.7h0M600.5 660.1h0M606.9 633.5h0M613.3 608.5h0M619.6 585.2h0M626 563.4h0M632.3 543.1h0M638.7 524h0M645 506.3h0M651.4 489.7h0M657.8 474.3h0M664.1 459.9h0M670.5 446.5h0M676.8 434h0M683.2 422.5h0M689.5 411.7h0M695.9 401.7h0M708.6 383.9h0M715 376.1h0M727.7 362.1h0M734 356h0M740.4 350.5h0M784.9 324.4h0M791.3 322.3h0M823 316.9h0M842.1 317.1h0M848.5 317.7h0M914 336.4h0M927.7 344.9h0M942.9 356.4h0M1026.5 413.2h0M1034.2 418.5h0M1049.4 429.3h0M1057 434.7h0M1072.2 445.9h0M1079.8 451.5h0M1087.4 457.2h0M1095 462.9h0M1102.6 468.6h0M1110.2 474.4h0M1117.8 480.2h0M1125.4 486.1h0M1133 491.9h0M1140.6 497.8h0M524.3 899.4h0M530.6 864.6h0M537 831.8h0M543.3 800.8h0M549.7 771.4h0M556 743.6h0M562.4 717.4h0M568.8 692.6h0M575.1 669.1h0M581.5 646.9h0M587.8 626h0M594.2 606.2h0M600.5 587.5h0M606.9 569.8h0M613.3 553.2h0M619.6 537.4h0M626 522.6h0M632.3 508.6h0M638.7 495.4h0M645 483h0M651.4 471.3h0M664.1 449.9h0M670.5 440.2h0M676.8 431h0M689.5 414.5h0M695.9 407h0M702.3 400h0M708.6 393.5h0M715 387.4h0M721.3 381.8h0M727.7 376.6h0M734 371.8h0M740.4 367.5h0M746.8 363.4h0M753.1 359.8h0M759.5 356.5h0M772.2 351h0M778.5 348.7h0M784.9 346.7h0M791.3 345h0M797.6 343.6h0M804 342.5h0M810.3 341.7h0M823 340.8h0M829.4 340.8h0M835.8 341h0M842.1 341.4h0M869.2 345.6h0M874.4 346.9h0M888.3 350.8h0M894.1 352.7h0M900.4 354.9h0M965.7 396.8h0M1011.3 424.8h0M1026.5 434.9h0M1034.2 440h0M1041.8 445.3h0M1049.4 450.6h0M1057 456h0M1064.6 461.4h0M1072.2 466.9h0M1079.8 472.4h0M1087.4 478h0M1095 483.6h0M1102.6 489.2h0M1110.2 494.9h0M1117.8 500.6h0M1125.4 506.4h0M530.6 911.5h0M537 875.2h0M543.3 840.8h0M549.7 808.3h0M556 777.6h0M562.4 748.7h0M568.8 721.3h0M575.1 695.4h0M581.5 671h0M587.8 647.9h0M594.2 626.1h0M600.5 605.6h0M606.9 586.2h0M613.3 567.9h0M619.6 550.6h0M626 534.3h0M632.3 519h0M645 490.9h0M651.4 478.1h0M657.8 466.1h0M664.1 454.8h0M670.5 444.2h0M676.8 434.3h0M683.2 424.9h0M689.5 416.2h0M695.9 408.1h0M721.3 380.8h0M727.7 375.2h0M734 370h0M740.4 365.3h0M746.8 361h0M759.5 353.5h0M765.8 350.4h0M791.3 341.2h0M804 338.5h0M810.3 337.6h0M816.7 337h0M823 336.6h0M859.1 339.4h0M863.4 340.2h0M907.7 353.7h0M980.9 402.1h0M988.5 406.8h0M996.1 411.5h0M1003.7 416.4h0M1011.3 421.4h0M1018.9 426.4h0M1026.5 431.5h0M1034.2 436.7h0M1041.8 442h0M1125.4 503.2h0M1133 509h0M1140.6 514.8h0M594.2 894.1h0M600.5 854.1h0M606.9 816.7h0M613.3 781.5h0M619.6 748.6h0M626 717.7h0M632.3 688.8h0M638.7 661.7h0M645 636.3h0M651.4 612.5h0M657.8 590.3h0M664.1 569.5h0M670.5 550.1h0M676.8 531.9h0M683.2 514.9h0M689.5 499.1h0M695.9 484.3h0M702.3 470.6h0M708.6 457.8h0M715 445.9h0M721.3 434.8h0M727.7 424.6h0M734 415.1h0M740.4 406.4h0M746.8 398.4h0M753.1 391h0M759.5 384.2h0M765.8 378.1h0M772.2 372.5h0M778.5 367.4h0M784.9 362.9h0M791.3 358.9h0M797.6 355.3h0M804 352.2h0M816.7 347.2h0M823 345.3h0M835.8 342.6h0M900.4 347.5h0M920.1 354.2h0M1011.3 412.3h0M1072.2 453.7h0M1079.8 459.2h0M1087.4 464.7h0M1095 470.3h0M556 929.5h0M562.4 886.2h0M568.8 845.5h0M575.1 807.3h0M581.5 771.5h0M587.8 737.9h0M594.2 706.3h0M600.5 676.8h0M606.9 649.1h0M613.3 623.2h0M619.6 598.9h0M626 576.1h0M632.3 554.9h0M638.7 534.9h0M645 516.3h0M651.4 498.9h0M664.1 467.6h0M670.5 453.5h0M676.8 440.3h0M683.2 428.1h0M689.5 416.8h0M702.3 396.6h0M715 379.3h0M721.3 371.8h0M727.7 364.8h0M740.4 352.7h0M746.8 347.5h0M753.1 342.8h0M759.5 338.7h0M765.8 335h0M778.5 328.9h0M784.9 326.6h0M804 321.8h0M859.1 324h0M894.1 334.8h0M920.1 346.6h0M927.7 352.3h0M950.5 370.5h0M988.5 396.7h0M1064.6 449.9h0M1072.2 455.5h0M568.8 886.6h0M575.1 846.7h0M581.5 809.3h0M587.8 774.3h0M594.2 741.4h0M600.5 710.6h0M606.9 681.8h0M613.3 654.8h0M619.6 629.4h0M626 605.7h0M632.3 583.5h0M638.7 562.7h0M645 543.3h0M651.4 525.1h0M657.8 508.1h0M664.1 492.2h0M670.5 477.4h0M676.8 463.6h0M683.2 450.7h0M689.5 438.7h0M695.9 427.5h0M702.3 417.1h0M708.6 407.5h0M721.3 390.3h0M727.7 382.7h0M734 375.7h0M740.4 369.3h0M753.1 358.1h0M772.2 345h0M778.5 341.5h0M797.6 333.5h0M816.7 328.7h0M823 327.8h0M854.5 327.6h0M859.1 328.1h0M863.4 328.8h0M869.2 329.7h0M935.3 356.7h0M568.8 904.3h0M575.1 865.3h0M581.5 828.7h0M587.8 794.3h0M594.2 762.1h0M600.5 731.9h0M613.3 677h0M619.6 652.1h0M626 628.8h0M632.3 607h0M638.7 586.5h0M645 567.4h0M651.4 549.6h0M657.8 532.9h0M664.1 517.3h0M670.5 502.8h0M676.8 489.2h0M683.2 476.6h0M689.5 464.9h0M695.9 454h0M702.3 444h0M708.6 434.6h0M715 426h0M721.3 418.1h0M727.7 410.9h0M734 404.2h0M740.4 398.2h0M746.8 392.7h0M753.1 387.7h0M765.8 379.4h0M772.2 375.9h0M778.5 372.8h0M784.9 370.2h0M791.3 368h0M797.6 366.2h0M804 364.7h0M810.3 363.6h0M816.7 362.9h0M823 362.4h0M829.4 362.3h0M835.8 362.5h0M842.1 362.9h0M848.5 363.6h0M854.5 364.5h0M859.1 365.4h0M863.4 366.3h0M869.2 367.6h0M874.4 369h0M882.1 371.3h0M907.7 380.9h0M914 383.6h0M920.1 386.8h0M927.7 392.4h0M935.3 398.2h0M942.9 404.1h0M950.5 410.2h0M958.1 416.5h0M965.7 422h0M973.3 426.6h0M1057 483.3h0M1064.6 488.8h0M1072.2 494.4h0M1125.4 534.6h0M1133 540.5h0M1140.6 546.3h0M575.1 923.1h0M581.5 888.6h0M587.8 856.1h0M594.2 825.4h0M600.5 796.5h0M606.9 769.2h0M613.3 743.4h0M619.6 719.2h0M626 696.3h0M632.3 674.7h0M638.7 654.4h0M645 635.2h0M651.4 617.2h0M657.8 600.2h0M664.1 584.2h0M670.5 569.2h0M676.8 555.1h0M683.2 541.8h0M689.5 529.4h0M695.9 517.7h0M702.3 506.8h0M708.6 496.5h0M715 487h0M721.3 478h0M727.7 469.7h0M734 462h0M740.4 454.8h0M746.8 448.1h0M753.1 441.9h0M759.5 436.3h0M765.8 431.1h0M772.2 426.3h0M778.5 422h0M784.9 418.1h0M791.3 414.6h0M797.6 411.4h0M804 408.7h0M810.3 406.3h0M816.7 404.2h0M823 402.5h0M829.4 401.1h0M835.8 400h0M842.1 399.2h0M848.5 398.7h0M854.5 398.4h0M859.1 398.4h0M863.4 398.5h0M869.2 398.9h0M874.4 399.4h0M882.1 400.3h0M888.3 401.4h0M894.1 402.5h0M900.4 404h0M907.7 405.9h0M914 407.8h0M920.1 410.1h0M927.7 414.7h0M935.3 419.6h0M942.9 424.6h0M950.5 429.9h0M958.1 435.3h0M965.7 440.1h0M973.3 444h0M980.9 448.1h0M988.5 452.3h0M996.1 456.6h0M1003.7 461.1h0M1011.3 465.7h0M1018.9 470.4h0M1026.5 475.2h0M1034.2 480.1h0M1041.8 485.1h0M1049.4 490.2h0M1057 495.4h0M1064.6 500.6h0M1072.2 505.9h0M1079.8 511.3h0M1087.4 516.7h0M1095 522.2h0M1102.6 527.7h0M1110.2 533.3h0M1117.8 538.9h0M1125.4 544.5h0M1133 550.2h0M1140.6 555.9h0M524.3 912.5h0M530.6 875.6h0M537 840.7h0M543.3 807.7h0M549.7 776.5h0M556 747h0M562.4 719.1h0M575.1 667.9h0M581.5 644.3h0M587.8 622.1h0M594.2 601.2h0M600.5 581.4h0M606.9 562.7h0M613.3 545h0M619.6 528.4h0M638.7 484h0M657.8 447h0M664.1 436.1h0M676.8 416.3h0M695.9 391.2h0M702.3 383.9h0M708.6 377.2h0M715 370.9h0M721.3 365.1h0M746.8 346.3h0M765.8 336.4h0M772.2 333.8h0M778.5 331.5h0M791.3 328h0M797.6 326.7h0M935.3 360.2h0M942.9 366.1h0M965.7 383.6h0M562.4 906.3h0M568.8 869h0M575.1 833.8h0M581.5 800.6h0M587.8 769.4h0M594.2 740h0M600.5 712.3h0M606.9 686.2h0M613.3 661.6h0M619.6 638.5h0M626 616.8h0M632.3 596.4h0M638.7 577.2h0M645 559.1h0M651.4 542.2h0M657.8 526.3h0M664.1 511.4h0M670.5 497.4h0M676.8 484.3h0M683.2 472.1h0M689.5 460.6h0M695.9 450h0M702.3 440h0M708.6 430.8h0M715 422.2h0M721.3 414.2h0M727.7 406.8h0M734 400h0M740.4 393.8h0M746.8 388.1h0M753.1 382.9h0M759.5 378.1h0M765.8 373.9h0M772.2 370h0M778.5 366.6h0M791.3 361.1h0M797.6 358.8h0M804 357h0M810.3 355.5h0M816.7 354.3h0M829.4 352.9h0M835.8 352.6h0M842.1 352.7h0M848.5 353h0M854.5 353.5h0M859.1 354h0M894.1 362.1h0M920.1 372.1h0M927.7 377.4h0M935.3 382.8h0M988.5 418.9h0M1011.3 433.3h0M1026.5 443.4h0M562.4 919.5h0M568.8 882.2h0M575.1 847h0M581.5 813.8h0M587.8 782.5h0M594.2 752.9h0M600.5 725.1h0M606.9 698.9h0M613.3 674.2h0M619.6 650.9h0M632.3 608.3h0M638.7 588.9h0M645 570.6h0M651.4 553.4h0M657.8 537.3h0M664.1 522.1h0M670.5 507.9h0M676.8 494.5h0M683.2 482h0M689.5 470.3h0M695.9 459.4h0M702.3 449.2h0M708.6 439.7h0M715 430.9h0M721.3 422.7h0M727.7 415h0M734 408h0M740.4 401.5h0M746.8 395.6h0M753.1 390.2h0M759.5 385.2h0M765.8 380.7h0M797.6 364.7h0M804 362.6h0M810.3 360.9h0M816.7 359.6h0M823 358.5h0M829.4 357.8h0M835.8 357.4h0M848.5 357.4h0M854.5 357.8h0M859.1 358.3h0M863.4 358.8h0M869.2 359.7h0M874.4 360.7h0M882.1 362.3h0M888.3 363.9h0M894.1 365.6h0M1026.5 445.3h0M1034.2 450.4h0M1041.8 455.6h0M562.4 910.9h0M568.8 875.8h0M575.1 842.5h0M581.5 811.1h0M587.8 781.5h0M600.5 727h0M606.9 702h0M632.3 615.4h0M638.7 596.7h0M645 579.1h0M651.4 562.5h0M657.8 546.9h0M664.1 532.2h0M670.5 518.3h0M676.8 505.3h0M683.2 493.1h0M689.5 481.6h0M695.9 470.8h0M702.3 460.7h0M708.6 451.3h0M727.7 426.5h0M740.4 412.8h0M746.8 406.7h0M753.1 401h0M759.5 395.8h0M765.8 391.1h0M772.2 386.8h0M778.5 382.9h0M784.9 379.4h0M791.3 376.2h0M797.6 373.5h0M804 371h0M810.3 369h0M816.7 367.2h0M823 365.8h0M829.4 364.7h0M835.8 363.8h0M854.5 363h0M859.1 363.2h0M869.2 364h0M874.4 364.6h0M882.1 365.8h0M888.3 367.1h0M894.1 368.4h0M900.4 370h0M920.1 376.6h0M958.1 402.5h0M980.9 415.5h0M587.8 918h0M594.2 877.3h0M600.5 839.1h0M606.9 803.3h0M613.3 769.8h0M619.6 738.3h0M626 708.8h0M632.3 681.2h0M638.7 655.3h0M645 631h0M651.4 608.3h0M657.8 587h0M664.1 567.1h0M670.5 548.5h0M676.8 531.1h0M695.9 485.5h0M702.3 472.3h0M708.6 460h0M715 448.6h0M721.3 438h0M734 419.1h0M740.4 410.7h0M746.8 403h0M753.1 395.9h0M759.5 389.4h0M765.8 383.4h0M772.2 378h0M784.9 368.8h0M791.3 364.9h0M797.6 361.4h0M804 358.4h0M823 351.7h0M842.1 348.2h0M854.5 347.5h0M859.1 347.6h0M869.2 348.1h0M958.1 386.6h0M965.7 391.6h0M973.3 395.7h0M980.9 399.9h0M988.5 404.3h0M996.1 408.8h0M606.9 907.7h0M613.3 865.9h0M619.6 826.8h0M626 790.3h0M632.3 756.2h0M638.7 724.4h0M645 694.6h0M651.4 666.9h0M657.8 641h0M664.1 616.8h0M670.5 594.3h0M676.8 573.3h0M683.2 553.7h0M689.5 535.5h0M695.9 518.5h0M702.3 502.7h0M708.6 488h0M715 474.4h0M721.3 461.8h0M727.7 450.1h0M734 439.3h0M740.4 429.3h0M746.8 420.1h0M753.1 411.7h0M759.5 403.9h0M765.8 396.8h0M772.2 390.4h0M778.5 384.5h0M791.3 374.4h0M797.6 370.2h0M804 366.4h0M829.4 355.7h0M835.8 354.1h0M854.5 351.2h0M859.1 351h0M874.4 351.2h0M882.1 352h0M894.1 353.9h0M973.3 395.1h0M980.9 399.3h0M1095 474.7h0M1102.6 480.3h0M1110.2 485.9h0M600.5 915.1h0M606.9 872.1h0M613.3 831.8h0M619.6 794.1h0M626 758.8h0M632.3 725.8h0M638.7 694.9h0M645 666h0M651.4 638.9h0M657.8 613.7h0M664.1 590h0M676.8 547.4h0M683.2 528.2h0M689.5 510.2h0M695.9 493.5h0M702.3 478h0M708.6 463.5h0M715 450.1h0M740.4 405.6h0M753.1 388.2h0M759.5 380.6h0M772.2 367.3h0M778.5 361.5h0M784.9 356.3h0M797.6 347.6h0M804 344h0M835.8 332.4h0M842.1 331.3h0M863.4 330h0M882.1 331.6h0M996.1 389.6h0M1041.8 419h0M1049.4 424.2h0M581.5 907.8h0M587.8 871.6h0M594.2 837.5h0M600.5 805.3h0M606.9 774.9h0M613.3 746.3h0M619.6 719.3h0M626 693.8h0M632.3 669.8h0M638.7 647.3h0M645 626h0M651.4 606h0M670.5 552.7h0M676.8 537h0M683.2 522.3h0M689.5 508.5h0M695.9 495.5h0M702.3 483.4h0M708.6 472h0M715 461.4h0M721.3 451.4h0M727.7 442.2h0M734 433.6h0M740.4 425.5h0M746.8 418.1h0M759.5 404.9h0M765.8 399.1h0M772.2 393.8h0M778.5 388.9h0M791.3 380.6h0M797.6 377h0M804 373.9h0M810.3 371.1h0M816.7 368.7h0M848.5 361.9h0M854.5 361.5h0M863.4 361.3h0M869.2 361.5h0M874.4 361.9h0M888.3 363.6h0M927.7 376.4h0M958.1 396.7h0M965.7 401.4h0M1034.2 441h0M1049.4 451.1h0M594.2 905.4h0M600.5 867.4h0M606.9 831.6h0M613.3 798h0M619.6 766.5h0M626 736.8h0M632.3 708.9h0M638.7 682.8h0M645 658.2h0M651.4 635.1h0M664.1 593.2h0M670.5 574.1h0M676.8 556.3h0M683.2 539.6h0M689.5 523.9h0M695.9 509.3h0M702.3 495.6h0M708.6 482.8h0M715 470.9h0M721.3 459.8h0M740.4 430.9h0M746.8 422.7h0M753.1 415.1h0M759.5 408h0M765.8 401.6h0M772.2 395.7h0M778.5 390.3h0M784.9 385.4h0M835.8 361.9h0M842.1 360.7h0M848.5 359.7h0M869.2 358.8h0M874.4 359.1h0M882.1 359.8h0M900.4 362.8h0M942.9 382.6h0M973.3 401.7h0M1102.6 485.2h0M1110.2 490.7h0M1117.8 496.4h0M626 933.3h0M632.3 891.6h0M638.7 852.5h0M645 816.1h0M651.4 782h0M657.8 750.1h0M664.1 720.4h0M670.5 692.6h0M676.8 666.7h0M683.2 642.6h0M689.5 620.1h0M695.9 599.1h0M702.3 579.5h0M708.6 561.3h0M715 544.4h0M721.3 528.7h0M727.7 514.1h0M734 500.6h0M740.4 488.1h0M746.8 476.6h0M753.1 466h0M759.5 456.2h0M765.8 447.2h0M772.2 438.9h0M778.5 431.4h0M784.9 424.6h0M791.3 418.4h0M797.6 412.8h0M810.3 403.4h0M816.7 399.5h0M823 396.1h0M829.4 393.1h0M835.8 390.7h0M842.1 388.6h0M848.5 386.9h0M854.5 385.7h0M859.1 385h0M863.4 384.5h0M869.2 384.1h0M874.4 384h0M882.1 384.2h0M888.3 384.7h0M894.1 385.3h0M900.4 386.3h0M907.7 387.8h0M914 389.3h0M942.9 404.9h0M958.1 415.2h0M965.7 419.8h0M980.9 427.5h0M988.5 431.7h0M1003.7 440.4h0M1011.3 444.9h0M1018.9 449.6h0M1026.5 454.4h0M1049.4 469.4h0M1095 501.5h0M1102.6 507.1h0M1110.2 512.7h0M1117.8 518.3h0M1133 529.7h0M1140.6 535.5h0M600.5 870.4h0M606.9 837.1h0M613.3 805.7h0M619.6 776h0M626 748.1h0M632.3 721.7h0M638.7 696.9h0M645 673.4h0M651.4 651.4h0M657.8 630.6h0M664.1 611h0M670.5 592.6h0M676.8 575.3h0M683.2 559h0M689.5 543.7h0M695.9 529.4h0M702.3 515.9h0M708.6 503.3h0M715 491.5h0M721.3 480.5h0M734 460.5h0M740.4 451.6h0M746.8 443.3h0M753.1 435.6h0M759.5 428.4h0M765.8 421.9h0M772.2 415.8h0M778.5 410.3h0M784.9 405.3h0M791.3 400.7h0M797.6 396.6h0M804 392.9h0M810.3 389.6h0M816.7 386.8h0M823 384.3h0M829.4 382.2h0M835.8 380.5h0M842.1 379.1h0M848.5 378h0M854.5 377.2h0M859.1 376.9h0M863.4 376.7h0M869.2 376.6h0M882.1 377.2h0M888.3 377.9h0M894.1 378.7h0M900.4 379.9h0M914 383h0M920.1 385.1h0M927.7 389.4h0M935.3 394h0M950.5 403.8h0M958.1 409.1h0M1049.4 462.2h0M613.3 867.2h0M619.6 828.9h0M626 793h0M632.3 759.2h0M638.7 727.6h0M645 697.9h0M651.4 670.1h0M657.8 644h0M664.1 619.5h0M670.5 596.6h0M676.8 575.1h0M683.2 555.1h0M689.5 536.3h0M715 472.8h0M721.3 459.6h0M727.7 447.3h0M734 435.8h0M740.4 425.2h0M746.8 415.4h0M753.1 406.4h0M759.5 398h0M765.8 390.4h0M772.2 383.4h0M778.5 377h0M791.3 366h0M810.3 353.4h0M823 347.4h0M829.4 345h0M835.8 343.1h0M888.3 340.1h0M900.4 342.2h0M914 345.5h0M1018.9 407h0M1034.2 416.7h0M1041.8 421.7h0M1049.4 426.8h0M1057 432h0M1064.6 437.3h0M1117.8 475.6h0M1125.4 481.3h0M587.8 926.2h0M594.2 888.5h0M606.9 819.4h0M613.3 787.7h0M619.6 757.8h0M626 729.7h0M632.3 703.1h0M638.7 678.1h0M645 654.5h0M651.4 632.3h0M657.8 611.3h0M664.1 591.7h0M670.5 573.1h0M702.3 496.1h0M734 440.9h0M740.4 432h0M746.8 423.8h0M759.5 409.2h0M765.8 402.8h0M772.2 396.9h0M778.5 391.6h0M784.9 386.7h0M797.6 378.5h0M804 375h0M810.3 372h0M823 367.2h0M829.4 365.3h0M600.5 921.5h0M606.9 884h0M613.3 848.8h0M619.6 815.5h0M626 784.2h0M632.3 754.7h0M645 700.8h0M651.4 676.2h0M657.8 653.1h0M664.1 631.4h0M670.5 611h0M676.8 591.8h0M683.2 573.8h0M689.5 557h0M695.9 541.2h0M702.3 526.4h0M708.6 512.6h0M715 499.7h0M721.3 487.7h0M727.7 476.5h0M734 466.1h0M740.4 456.4h0M746.8 447.5h0M753.1 439.2h0M759.5 431.6h0M765.8 424.7h0M772.2 418.3h0M778.5 412.5h0M784.9 407.3h0M791.3 402.5h0M797.6 398.3h0M804 394.6h0M810.3 391.3h0M816.7 388.4h0M823 386h0M829.4 383.9h0M835.8 382.3h0M842.1 381h0M848.5 380h0M854.5 379.4h0M859.1 379.2h0M863.4 379.1h0M869.2 379.2h0M874.4 379.4h0M882.1 380.2h0M888.3 381h0M894.1 382h0M900.4 383.4h0M914 386.9h0M935.3 398.5h0M950.5 408.7h0M958.1 414.1h0M980.9 426.7h0M996.1 435.2h0M1003.7 439.6h0M1011.3 444.2h0M1018.9 448.9h0M1079.8 489.5h0M1087.4 494.9h0M638.7 926.7h0M645 883h0M651.4 842.3h0M657.8 804.3h0M664.1 768.8h0M670.5 735.7h0M676.8 704.8h0M683.2 676h0M689.5 649.2h0M695.9 624.3h0M702.3 601h0M708.6 579.4h0M715 559.3h0M721.3 540.6h0M727.7 523.3h0M734 507.3h0M740.4 492.4h0M746.8 478.7h0M759.5 454.3h0M765.8 443.6h0M772.2 433.7h0M778.5 424.7h0M784.9 416.5h0M791.3 409h0M797.6 402.2h0M804 396.1h0M816.7 385.8h0M823 381.5h0M829.4 377.8h0M835.8 374.5h0M842.1 371.8h0M848.5 369.5h0M854.5 367.7h0M882.1 364h0M907.7 366.2h0M914 367.4h0M1003.7 416.1h0M1011.3 420.6h0M1057 449.8h0M632.3 918.7h0M638.7 879h0M645 841.8h0M651.4 807h0M657.8 774.3h0M664.1 743.7h0M670.5 715h0M676.8 688.1h0M683.2 663h0M689.5 639.4h0M695.9 617.4h0M702.3 596.9h0M708.6 577.7h0M721.3 543.1h0M727.7 527.6h0M734 513.2h0M740.4 499.7h0M746.8 487.3h0M753.1 475.8h0M759.5 465.2h0M765.8 455.4h0M772.2 446.3h0M778.5 438.1h0M784.9 430.5h0M791.3 423.6h0M797.6 417.4h0M804 411.8h0M816.7 402.3h0M823 398.3h0M829.4 394.8h0M835.8 391.8h0M842.1 389.3h0M859.1 384.6h0M869.2 383h0M874.4 382.6h0M882.1 382.4h0M888.3 382.5h0M907.7 384.7h0M927.7 391.6h0M935.3 395.9h0M942.9 400.4h0M973.3 418.2h0M1057 467.3h0M600.5 926.2h0M606.9 889.1h0M613.3 854.2h0M619.6 821.4h0M632.3 761.4h0M638.7 734h0M645 708.2h0M651.4 683.9h0M657.8 661.2h0M664.1 639.7h0M670.5 619.6h0M676.8 600.7h0M683.2 583h0M689.5 566.4h0M695.9 550.8h0M702.3 536.2h0M708.6 522.5h0M715 509.8h0M721.3 497.8h0M727.7 486.7h0M734 476.4h0M740.4 466.8h0M746.8 457.9h0M753.1 449.6h0M759.5 442h0M765.8 435h0M772.2 428.6h0M778.5 422.7h0M791.3 412.5h0M797.6 408.1h0M804 404.2h0M810.3 400.8h0M816.7 397.8h0M823 395.1h0M848.5 388.4h0M854.5 387.6h0M859.1 387.2h0M863.4 387h0M869.2 386.9h0M874.4 387h0M882.1 387.5h0M888.3 388.2h0M894.1 389h0M900.4 390.2h0M907.7 391.8h0M914 393.4h0M920.1 395.5h0M927.7 399.9h0M935.3 404.5h0M942.9 409.3h0M965.7 424.2h0M1003.7 444.6h0M1011.3 449.1h0M1034.2 463.3h0M1041.8 468.2h0M1049.4 473.3h0M1057 478.4h0M1079.8 494.1h0M1087.4 499.5h0M1095 504.9h0M1102.6 510.4h0M1110.2 515.9h0M1117.8 521.5h0M626 926.4h0M632.3 886.9h0M638.7 849.8h0M645 814.8h0M657.8 751.1h0M664.1 722.1h0M670.5 694.8h0M676.8 669.2h0M683.2 645.2h0M689.5 622.7h0M695.9 601.5h0M702.3 581.7h0M708.6 563.2h0M715 545.8h0M721.3 529.6h0M746.8 474.9h0M753.1 463.6h0M759.5 453h0M772.2 434.3h0M778.5 426h0M791.3 411.4h0M797.6 405.1h0M804 399.3h0M810.3 394.1h0M816.7 389.5h0M829.4 381.7h0M835.8 378.5h0M842.1 375.7h0M854.5 371.6h0M859.1 370.4h0M863.4 369.5h0M869.2 368.6h0M882.1 367.4h0M894.1 367.5h0M942.9 383.5h0M1087.4 468.5h0M613.3 894.8h0M619.6 855.3h0M626 818.2h0M632.3 783.4h0M638.7 750.7h0M645 720h0M651.4 691.2h0M657.8 664.2h0M670.5 615h0M683.2 571.9h0M689.5 552.4h0M695.9 534.1h0M702.3 517h0M708.6 501.1h0M715 486.2h0M721.3 472.3h0M727.7 459.4h0M734 447.4h0M740.4 436.2h0M746.8 425.9h0M753.1 416.3h0M778.5 385h0M791.3 373.2h0M797.6 368.1h0M810.3 359.4h0M816.7 355.8h0M823 352.7h0M835.8 347.7h0M842.1 345.8h0M848.5 344.3h0M894.1 343.1h0M980.9 384.7h0M1026.5 411.1h0M1072.2 441.4h0M1079.8 446.7h0M632.3 928.1h0M638.7 891h0M645 856h0M651.4 823h0M657.8 792h0M664.1 762.8h0M676.8 709.5h0M683.2 685.2h0M689.5 662.4h0M695.9 641h0M702.3 620.9h0M708.6 602h0M715 584.3h0M721.3 567.7h0M727.7 552.2h0M734 537.7h0M740.4 524.2h0M746.8 511.6h0M753.1 499.8h0M759.5 488.9h0M765.8 478.8h0M772.2 469.4h0M778.5 460.7h0M784.9 452.7h0M791.3 445.4h0M797.6 438.7h0M804 432.6h0M810.3 427h0M816.7 422h0M823 417.5h0M829.4 413.5h0M835.8 410h0M842.1 406.9h0M848.5 404.3h0M854.5 402.1h0M859.1 400.8h0M874.4 397.6h0M882.1 396.7h0M888.3 396.4h0M894.1 396.3h0M900.4 396.5h0M907.7 397.1h0M914 397.9h0M920.1 399.2h0M927.7 402.7h0M935.3 406.5h0M942.9 410.5h0M950.5 414.9h0M980.9 430h0M996.1 437.3h0M1064.6 477.5h0M1072.2 482.5h0M1125.4 519.6h0M1133 525.1h0M1140.6 530.7h0M645 930.2h0M651.4 891.6h0M657.8 855.6h0M664.1 821.8h0M670.5 790.3h0M676.8 760.8h0M683.2 733.2h0M689.5 707.3h0M695.9 683.2h0M702.3 660.7h0M708.6 639.6h0M715 620h0M721.3 601.7h0M727.7 584.6h0M734 568.7h0M740.4 553.9h0M746.8 540.1h0M753.1 527.3h0M759.5 515.4h0M765.8 504.4h0M772.2 494.2h0M778.5 484.8h0M784.9 476.1h0M791.3 468.2h0M797.6 460.9h0M804 454.2h0M810.3 448.1h0M816.7 442.6h0M823 437.6h0M829.4 433.1h0M835.8 429.2h0M842.1 425.7h0M848.5 422.6h0M854.5 420.1h0M859.1 418.4h0M863.4 417h0M869.2 415.5h0M874.4 414.3h0M882.1 413h0M888.3 412.4h0M894.1 412h0M900.4 411.9h0M907.7 412.1h0M914 412.6h0M920.1 413.7h0M927.7 416.9h0M950.5 428.3h0M958.1 432.7h0M965.7 436.4h0M973.3 439.4h0M980.9 442.6h0M988.5 446.1h0M996.1 449.7h0M1003.7 453.5h0M1011.3 457.5h0M1034.2 470.5h0M1041.8 475.1h0M651.4 934.4h0M657.8 891.2h0M664.1 850.7h0M670.5 813h0M676.8 777.7h0M683.2 744.7h0M689.5 714h0M695.9 685.3h0M702.3 658.5h0M708.6 633.6h0M715 610.4h0M721.3 588.8h0M727.7 568.7h0M734 550.1h0M740.4 532.8h0M746.8 516.8h0M753.1 502h0M765.8 475.7h0M772.2 464.1h0M778.5 453.5h0M784.9 443.7h0M791.3 434.9h0M797.6 426.8h0M804 419.5h0M810.3 412.9h0M816.7 407h0M829.4 397.1h0M835.8 393h0M854.5 384.1h0M859.1 382.6h0M863.4 381.3h0M907.7 378.7h0M914 379.6h0M920.1 381h0M935.3 388.6h0M1057 458h0M1072.2 468.2h0M1079.8 473.5h0M1095 484.2h0M657.8 932.5h0M664.1 896.6h0M670.5 862.6h0M676.8 830.6h0M683.2 800.5h0M689.5 772.1h0M695.9 745.3h0M702.3 720.2h0M708.6 696.5h0M715 674.2h0M721.3 653.2h0M727.7 633.5h0M734 615.1h0M740.4 597.7h0M746.8 581.5h0M753.1 566.3h0M759.5 552.1h0M765.8 538.8h0M772.2 526.4h0M778.5 514.8h0M784.9 504.1h0M791.3 494.2h0M797.6 485h0M804 476.5h0M810.3 468.6h0M816.7 461.4h0M823 454.9h0M829.4 448.9h0M835.8 443.5h0M842.1 438.6h0M848.5 434.2h0M854.5 430.5h0M859.1 428h0M863.4 425.8h0M869.2 423.2h0M874.4 421.2h0M882.1 418.7h0M888.3 417.1h0M894.1 415.9h0M900.4 415h0M907.7 414.3h0M914 414h0M942.9 422.5h0M950.5 425.9h0M958.1 429.6h0M965.7 432.7h0M973.3 435.1h0M980.9 437.7h0M996.1 443.7h0M1003.7 447h0M1018.9 454.2h0M1026.5 458.1h0M1034.2 462.1h0M1041.8 466.3h0M1057 475h0M695.9 910h0M702.3 872.5h0M708.6 837.5h0M715 804.8h0M721.3 774.2h0M727.7 745.7h0M734 719.1h0M740.4 694.4h0M746.8 671.3h0M753.1 649.8h0M759.5 629.9h0M765.8 611.4h0M772.2 594.2h0M778.5 578.3h0M784.9 563.5h0M791.3 549.9h0M797.6 537.4h0M804 525.9h0M810.3 515.3h0M816.7 505.6h0M823 496.8h0M829.4 488.8h0M835.8 481.5h0M842.1 475h0M848.5 469.1h0M854.5 464.2h0M859.1 460.8h0M863.4 457.8h0M869.2 454.3h0M874.4 451.5h0M882.1 448h0M888.3 445.7h0M894.1 444h0M900.4 442.4h0M907.7 441.2h0M914 440.5h0M920.1 440.5h0M927.7 442.5h0M935.3 444.9h0M942.9 447.7h0M950.5 450.9h0M958.1 454.5h0M965.7 457.5h0M973.3 459.8h0M980.9 462.4h0M988.5 465.3h0M996.1 468.4h0M1003.7 471.7h0M1011.3 475.3h0M1018.9 479h0M1026.5 483h0M1034.2 487.1h0M1041.8 491.3h0M1049.4 495.7h0M1057 500.3h0M1064.6 505h0M1072.2 509.7h0M1079.8 514.6h0M1087.4 519.6h0M1095 524.7h0M1102.6 529.8h0M1110.2 535.1h0M1117.8 540.4h0M1125.4 545.7h0M695.9 895.9h0M702.3 857.3h0M708.6 821.2h0M715 787.5h0M721.3 756.1h0M727.7 726.9h0M734 699.6h0M740.4 674.1h0M746.8 650.4h0M753.1 628.3h0M759.5 607.8h0M765.8 588.7h0M772.2 571h0M778.5 554.5h0M784.9 539.2h0M791.3 525.1h0M797.6 512h0M804 500h0M810.3 488.8h0M816.7 478.6h0M823 469.2h0M829.4 460.7h0M835.8 452.8h0M842.1 445.7h0M848.5 439.3h0M854.5 433.7h0M859.1 429.9h0M874.4 419.3h0M882.1 415.1h0M894.1 409.9h0M900.4 407.9h0M914 404.8h0M920.1 404.3h0M927.7 405.7h0M935.3 407.5h0M645 932.9h0M651.4 896.6h0M657.8 862.2h0M664.1 829.6h0M670.5 798.9h0M676.8 769.8h0M683.2 742.4h0M689.5 716.5h0M695.9 692h0M702.3 668.9h0M708.6 647.1h0M715 626.6h0M721.3 607.2h0M727.7 589h0M734 571.9h0M740.4 555.8h0M753.1 526.4h0M759.5 513.1h0M765.8 500.7h0M772.2 489h0M778.5 478.2h0M784.9 468h0M791.3 458.6h0M797.6 449.9h0M804 441.8h0M810.3 434.4h0M816.7 427.6h0M823 421.3h0M829.4 415.6h0M835.8 410.4h0M842.1 405.7h0M848.5 401.5h0M854.5 398h0M859.1 395.5h0M863.4 393.5h0M869.2 391h0M874.4 389h0M888.3 385h0M894.1 383.9h0M920.1 382.4h0M942.9 390.3h0M958.1 397.3h0M1064.6 446.3h0M1102.6 470.2h0M1140.6 496.1h0M683.2 916.7h0M689.5 878.1h0M695.9 842.1h0M702.3 808.3h0M708.6 776.6h0M715 747h0M721.3 719.2h0M727.7 693.3h0M734 669.1h0M740.4 646.4h0M746.8 625.3h0M753.1 605.5h0M759.5 587.2h0M765.8 570h0M772.2 554.1h0M778.5 539.3h0M784.9 525.6h0M791.3 512.9h0M797.6 501.2h0M804 490.3h0M810.3 480.4h0M816.7 471.2h0M823 462.8h0M829.4 455.2h0M835.8 448.3h0M842.1 442h0M848.5 436.3h0M854.5 431.5h0M869.2 421.9h0M874.4 419.1h0M888.3 413.4h0M894.1 411.6h0M900.4 410h0M907.7 408.7h0M920.1 407.9h0M927.7 409.8h0M935.3 412h0M942.9 414.7h0M950.5 417.8h0M958.1 421.3h0M1003.7 437.7h0M1026.5 448.6h0M1110.2 499.8h0M1117.8 505h0M1140.6 521.2h0M670.5 926.5h0M676.8 890.1h0M683.2 855.9h0M689.5 823.8h0M695.9 793.5h0M702.3 765.1h0M708.6 738.3h0M715 713.2h0M721.3 689.6h0M727.7 667.5h0M734 646.8h0M740.4 627.3h0M746.8 609.1h0M753.1 592.1h0M759.5 576.2h0M765.8 561.3h0M772.2 547.4h0M778.5 534.5h0M784.9 522.5h0M791.3 511.4h0M804 491.5h0M810.3 482.7h0M816.7 474.7h0M823 467.3h0M835.8 454.4h0M842.1 448.8h0M848.5 443.8h0M854.5 439.6h0M859.1 436.6h0M863.4 434.1h0M869.2 431.1h0M874.4 428.7h0M882.1 425.7h0M888.3 423.7h0M894.1 422.2h0M900.4 420.9h0M907.7 419.8h0M914 419.3h0M920.1 419.4h0M927.7 421.4h0M935.3 423.8h0M942.9 426.6h0M958.1 433.3h0M973.3 438.5h0M980.9 441h0M988.5 443.7h0M996.1 446.7h0M1003.7 449.9h0M1011.3 453.3h0M1018.9 456.9h0M1041.8 468.8h0M1049.4 473.1h0M1064.6 482h0M664.1 930h0M670.5 891.8h0M676.8 855.8h0M683.2 822h0M689.5 790.1h0M695.9 760.2h0M702.3 732.1h0M708.6 705.6h0M715 680.8h0M721.3 657.6h0M727.7 635.7h0M740.4 596.2h0M746.8 578.4h0M753.1 561.7h0M759.5 546.1h0M765.8 531.6h0M772.2 518.2h0M778.5 505.7h0M784.9 494.1h0M791.3 483.4h0M797.6 473.6h0M804 464.5h0M810.3 456.2h0M816.7 448.6h0M823 441.7h0M829.4 435.5h0M835.8 429.8h0M842.1 424.8h0M848.5 420.3h0M854.5 416.5h0M859.1 413.9h0M863.4 411.7h0M869.2 409.1h0M874.4 407.1h0M882.1 404.7h0M888.3 403.1h0M900.4 401.1h0M907.7 400.5h0M914 400.4h0M920.1 400.8h0M927.7 403.3h0M988.5 428h0M1102.6 492h0M1110.2 497.1h0M1117.8 502.3h0M1133 512.9h0M1140.6 518.3h0M721.3 908.4h0M727.7 869.2h0M734 832.5h0M740.4 798.2h0M746.8 766.2h0M753.1 736.2h0M759.5 708.3h0M765.8 682.3h0M772.2 658.1h0M778.5 635.5h0M784.9 614.6h0M791.3 595.1h0M797.6 577h0M804 560.3h0M810.3 544.8h0M816.7 530.5h0M823 517.3h0M829.4 505.2h0M835.8 494.1h0M842.1 483.9h0M848.5 474.6h0M854.5 466.6h0M863.4 456h0M869.2 449.9h0M874.4 445h0M882.1 438.4h0M888.3 433.9h0M894.1 430.1h0M900.4 426.5h0M907.7 423h0M920.1 418.9h0M927.7 418.9h0M942.9 420.6h0M950.5 422.2h0M958.1 424.4h0M996.1 432.4h0M727.7 871h0M734 835.8h0M740.4 802.9h0M746.8 772.2h0M753.1 743.5h0M759.5 716.7h0M765.8 691.8h0M772.2 668.5h0M778.5 646.9h0M784.9 626.8h0M791.3 608.1h0M797.6 590.7h0M804 574.7h0M810.3 559.8h0M816.7 546.1h0M823 533.5h0M829.4 521.9h0M835.8 511.3h0M842.1 501.5h0M848.5 492.6h0M854.5 485h0M859.1 479.6h0M863.4 474.9h0M869.2 469.1h0M874.4 464.4h0M882.1 458.2h0M888.3 453.9h0M894.1 450.3h0M900.4 447h0M907.7 443.7h0M920.1 439.9h0M927.7 440.1h0M935.3 440.9h0M942.9 442.2h0M950.5 444h0M958.1 446.3h0M965.7 448.1h0M973.3 449.3h0M980.9 450.8h0M996.1 454.9h0M1003.7 457.4h0M1011.3 460.1h0M1018.9 463.1h0M1034.2 469.8h0M1064.6 485.6h0M1072.2 489.9h0M1095 503.7h0M753.1 933.6h0M759.5 895.3h0M765.8 859.4h0M772.2 825.9h0M778.5 794.7h0M784.9 765.4h0M791.3 738.2h0M797.6 712.8h0M804 689.1h0M810.3 667.1h0M816.7 646.7h0M823 627.7h0M829.4 610.1h0M835.8 593.9h0M842.1 578.8h0M848.5 565h0M854.5 552.8h0M859.1 544.2h0M863.4 536.6h0M869.2 527.1h0M874.4 519.2h0M882.1 508.6h0M888.3 500.9h0M894.1 494.4h0M900.4 488h0M907.7 481.4h0M914 476.5h0M920.1 472.6h0M927.7 469.9h0M935.3 468.1h0M942.9 466.9h0M950.5 466.4h0M958.1 466.5h0M965.7 466.3h0M973.3 465.7h0M980.9 465.5h0M996.1 466.4h0M1003.7 467.5h0M1011.3 469h0M1026.5 472.9h0M1034.2 475.4h0M1049.4 481h0M740.4 904.8h0M746.8 867h0M753.1 831.6h0M759.5 798.5h0M765.8 767.5h0M772.2 738.6h0M778.5 711.6h0M784.9 686.3h0M791.3 662.8h0M797.6 640.9h0M804 620.5h0M810.3 601.5h0M816.7 583.9h0M823 567.6h0M829.4 552.5h0M835.8 538.5h0M842.1 525.6h0M848.5 513.7h0M854.5 503.4h0M859.1 496h0M863.4 489.6h0M869.2 481.5h0M874.4 474.9h0M882.1 465.9h0M888.3 459.5h0M894.1 454.1h0M900.4 448.9h0M914 439.5h0M920.1 436.5h0M927.7 434.9h0M935.3 434h0M942.9 433.7h0M950.5 434h0M965.7 435.3h0M980.9 435.7h0M1095 478.3h0M746.8 903.9h0M753.1 871.8h0M759.5 841.6h0M765.8 813h0M772.2 786.1h0M778.5 760.8h0M784.9 736.9h0M791.3 714.5h0M797.6 693.4h0M804 673.6h0M810.3 655h0M816.7 637.5h0M823 621.2h0M829.4 606h0M835.8 591.8h0M854.5 555.2h0M859.1 547.4h0M863.4 540.5h0M869.2 531.8h0M874.4 524.4h0M882.1 514.5h0M888.3 507.2h0M894.1 501h0M900.4 494.8h0M907.7 488.3h0M914 483.3h0M920.1 479.4h0M927.7 476.6h0M935.3 474.4h0M942.9 473h0M950.5 472.1h0M958.1 471.8h0M965.7 471.1h0M973.3 470h0M980.9 469.3h0M988.5 469h0M996.1 469.2h0M1003.7 469.7h0M1011.3 470.6h0M1018.9 471.9h0M1026.5 473.5h0M1041.8 477.5h0M816.7 928.8h0M823 895h0M829.4 863.3h0M835.8 834.9h0M842.1 810.1h0M848.5 787.8h0M854.5 768.7h0M859.1 754.9h0M863.4 741.6h0M869.2 723.5h0M874.4 708.1h0M882.1 687.3h0M888.3 671.5h0M894.1 657.4h0M900.4 642.8h0M907.7 626.5h0M914 613h0M920.1 600.7h0M927.7 586.9h0M935.3 574.7h0M942.9 563.3h0M950.5 552.8h0M958.1 543.3h0M965.7 534.7h0M973.3 527h0M980.9 520h0M988.5 513.5h0M996.1 507.1h0M1003.7 500.9h0M1011.3 495h0M1018.9 489.8h0M1026.5 485.5h0M1034.2 490.9h0M1041.8 499.1h0M1049.4 507.6h0M1057 516.1h0M1064.6 524.6h0M1072.2 533.2h0M1079.8 541.8h0M1087.4 550.3h0M1095 558.9h0M1102.6 567.5h0M1110.2 576.1h0M1117.8 584.7h0M1125.4 593.2h0M1133 601.8h0M1140.6 610.4h0M804 907.4h0M810.3 873.9h0M816.7 842.5h0M823 814.7h0M829.4 790.4h0M835.8 768.4h0M842.1 748.6h0M848.5 729.3h0M854.5 710.4h0M859.1 696.5h0M863.4 684.4h0M869.2 669h0M874.4 655.7h0M882.1 637.1h0M888.3 622.9h0M894.1 610h0M900.4 596.5h0M907.7 581.9h0M914 570.6h0M920.1 560.7h0M927.7 549.1h0M935.3 538.5h0M942.9 528.7h0M950.5 519.9h0M958.1 512h0M965.7 504.9h0M973.3 498.3h0M980.9 492h0M988.5 485.7h0M996.1 479.7h0M1003.7 474.4h0M1026.5 478.2h0M1034.2 484.7h0M1049.4 497.9h0M1057 504.5h0M1064.6 511.2h0M1072.2 517.8h0M1079.8 524.4h0M1087.4 531.1h0M1095 537.7h0M1102.6 544.3h0M1110.2 551h0M1117.8 557.6h0M1125.4 564.3h0M1133 570.9h0M1140.6 577.6h0M772.2 902.9h0M778.5 868.8h0M784.9 836.7h0M791.3 807.7h0M797.6 782.5h0M804 759.9h0M810.3 739.5h0M816.7 720.3h0M823 700.4h0M829.4 681.1h0M835.8 663.6h0M842.1 647h0M848.5 631.2h0M854.5 617h0M859.1 606.6h0M863.4 597h0M869.2 584.5h0M874.4 573.8h0M882.1 559.3h0M888.3 549h0M894.1 539.9h0M900.4 530.7h0M907.7 520.7h0M914 512.8h0M920.1 505.8h0M927.7 497.9h0M935.3 490.7h0M942.9 484.1h0M950.5 477.7h0M958.1 471.4h0M965.7 465.4h0M980.9 455.5h0M988.5 456.8h0M996.1 462.8h0M1018.9 481.8h0M1026.5 488.1h0M1034.2 494.5h0M1041.8 500.9h0M1057 513.6h0M1064.6 520h0M1072.2 526.4h0M1079.8 532.8h0M1087.4 539.2h0M1095 545.6h0M1102.6 552h0M1110.2 558.3h0M1117.8 564.7h0M1125.4 571.1h0M1133 577.5h0M1140.6 583.9h0M734 919.2h0M740.4 883.4h0M746.8 849.6h0M753.1 817.8h0M759.5 789.4h0M765.8 764.6h0M772.2 742.3h0M778.5 722.2h0M784.9 702.9h0M791.3 683.1h0M797.6 664h0M804 646.6h0M810.3 630.1h0M816.7 614.5h0M823 599.6h0M829.4 585.3h0M835.8 571.5h0M842.1 558.4h0M848.5 546.4h0M854.5 536.2h0M859.1 528.9h0M863.4 522.3h0M869.2 514h0M874.4 506.9h0M882.1 497.3h0M888.3 490.2h0M894.1 484.2h0M900.4 478.1h0M907.7 471.6h0M914 466.3h0M920.1 461.2h0M927.7 455h0M935.3 449.1h0M942.9 444h0M950.5 439.7h0M958.1 443.7h0M965.7 449.6h0M973.3 455.6h0M988.5 467.8h0M996.1 473.9h0M1003.7 480.1h0M1011.3 486.2h0M1018.9 492.3h0M1026.5 498.4h0M1034.2 504.6h0M1041.8 510.7h0M1049.4 516.8h0M1057 523h0M1064.6 529.1h0M1072.2 535.2h0M1087.4 547.5h0M1095 553.6h0M1102.6 559.8h0M1110.2 565.9h0M1117.8 572h0M1125.4 578.2h0M1133 584.3h0M1140.6 590.4h0" fill="none" stroke="#ffcbcb" stroke-width="4.3" stroke-linecap="round"/>
<path d="M239.1 934.4 L239.5 930.4 L240.5 926.5 L241.5 922.6 L242.5 918.7 L243.4 914.8 L244.4 910.9 L245.4 907 L246.4 903.1 L247.3 899.2 L248.3 895.3 L249.3 891.5 L250.3 887.6 L251.3 883.7 L252.3 879.8 L253.3 875.9 L254.2 872.1 L255.2 868.2 L256.2 864.3 L257.3 860.5 L258.3 856.6 L259.3 852.7 L260.3 848.9 L261.3 845 L262.3 841.2 L263.4 837.3 L264.4 833.5 L265.4 829.6 L266.5 825.8 L267.5 822 L268.6 818.1 L269.7 814.3 L270.7 810.4 L271.8 806.6 L272.9 802.8 L274 798.9 L275.1 795.1 L276.2 791.3 L277.3 787.5 L278.4 783.6 L279.5 779.8 L280.7 776 L281.8 772.2 L282.9 768.4 L284.1 764.6 L285.3 760.8 L286.4 756.9 L287.6 753.1 L288.8 749.3 L290 745.5 L291.2 741.7 L292.4 737.9 L293.7 734.1 L294.9 730.3 L296.1 726.5 L297.4 722.7 L298.7 718.9 L300 715.1 L301.2 711.3 L302.5 707.5 L303.9 703.7 L305.2 700 L306.5 696.2 L307.9 692.4 L309.2 688.6 L310.6 684.8 L312 681 L313.4 677.2 L314.8 673.5 L316.2 669.7 L317.6 665.9 L319.1 662.1 L320.6 658.4 L322.1 654.6 L323.6 650.9 L325.1 647.1 L326.6 643.4 L328.2 639.7 L329.7 636 L331.3 632.3 L332.9 628.6 L334.6 624.9 L336.2 621.2 L337.9 617.6 L339.6 613.9 L341.3 610.3 L343.1 606.6 L344.8 603 L346.6 599.4 L348.4 595.8 L350.2 592.3 L352.1 588.7 L354 585.2 L355.9 581.7 L357.8 578.2 L359.8 574.7 L361.7 571.2 L363.7 567.8 L365.8 564.4 L367.8 561 L369.9 557.6 L372.1 554.2 L374.2 550.9 L376.4 547.6 L378.6 544.3 L380.9 541 L383.1 537.8 L385.4 534.5 L387.8 531.3 L390.1 528.2 L392.5 525 L395 521.9 L397.4 518.8 L399.9 515.7 L402.4 512.7 L405 509.6 L407.5 506.6 L410.1 503.6 L412.7 500.7 L415.4 497.7 L418.1 494.8 L420.8 491.9 L423.5 489 L426.2 486.2 L429 483.4 L431.8 480.5 L434.6 477.8 L437.5 475 L440.4 472.3 L443.3 469.5 L446.2 466.8 L449.1 464.2 L452.1 461.5 L455.1 458.9 L458.1 456.3 L461.1 453.7 L464.2 451.1 L467.2 448.5 L470.3 446 L473.4 443.5 L476.6 441 L479.7 438.5 L482.9 436.1 L486 433.7 L489.2 431.3 L492.5 428.9 L495.7 426.5 L499 424.2 L502.2 421.8 L505.5 419.5 L508.8 417.2 L512.1 414.9 L515.5 412.7 L518.8 410.5 L522.2 408.2 L525.5 406 L528.9 403.9 L532.3 401.7 L535.8 399.6 L539.2 397.4 L542.6 395.3 L546.1 393.2 L549.5 391.2 L553 389.1 L556.5 387.1 L560 385.1 L563.5 383.1 L567 381.1 L570.5 379.1 L574.1 377.2 L577.6 375.3 L581.2 373.4 L584.7 371.5 L588.3 369.6 L591.9 367.7 L595.5 365.9 L599.1 364.1 L602.7 362.3 L606.3 360.6 L610 358.8 L613.6 357.1 L617.2 355.4 L620.9 353.8 L624.6 352.1 L628.2 350.5 L631.9 348.9 L635.6 347.4 L639.3 345.8 L643 344.3 L646.8 342.8 L650.5 341.4 L654.2 340 L658 338.6 L661.7 337.2 L665.5 335.8 L669.2 334.5 L673 333.3 L676.8 332 L680.6 330.8 L684.4 329.6 L688.2 328.5 L692 327.4 L695.8 326.3 L699.7 325.3 L703.5 324.3 L707.4 323.3 L711.2 322.4 L715.1 321.5 L719 320.7 L722.8 319.9 L726.7 319.1 L730.6 318.4 L734.5 317.7 L738.4 317.1 L742.3 316.5 L746.3 316 L750.2 315.5 L754.1 315 L758.1 314.6 L762 314.3 L766 314 L769.9 313.7 L773.9 313.5 L777.9 313.4 L781.8 313.3 L785.8 313.2 L789.8 313.2 L793.8 313.2 L797.8 313.3 L801.7 313.5 L805.7 313.6 L809.7 313.8 L813.7 314.1 L817.7 314.4 L821.7 314.8 L825.7 315.2 L829.7 315.6 L833.6 316.1 L837.6 316.7 L841.6 317.2 L845.6 317.9 L849.5 318.5 L853.5 319.3 L857.5 320 L861.4 320.8 L865.4 321.7 L869.3 322.5 L873.2 323.5 L877.1 324.5 L881.1 325.5 L885 326.5 L888.9 327.6 L892.8 328.8 L896.6 330 L900.5 331.2 L904.4 332.5 L908.2 333.8 L912 335.1 L915.9 336.5 L919.2 337 L1143.5 518.3" fill="none" stroke="#fb88c4" stroke-width="2.4" stroke-linejoin="round"/>
<path d="M451.5 685.7l1.9 5.8 6.1 0 -4.9 3.6 1.9 5.8 -4.9 -3.6 -4.9 3.6 1.9 -5.8 -4.9 -3.6 6.1 -0zM460.8 672.3l1.9 5.8 6.1 0 -4.9 3.6 1.9 5.8 -4.9 -3.6 -4.9 3.6 1.9 -5.8 -4.9 -3.6 6.1 -0zM473.3 659.1l1.9 5.8 6.1 0 -4.9 3.6 1.9 5.8 -4.9 -3.6 -4.9 3.6 1.9 -5.8 -4.9 -3.6 6.1 -0zM481.4 624.4l1.9 5.8 6.1 0 -4.9 3.6 1.9 5.8 -4.9 -3.6 -4.9 3.6 1.9 -5.8 -4.9 -3.6 6.1 -0zM490.6 611.6l1.9 5.8 6.1 0 -4.9 3.6 1.9 5.8 -4.9 -3.6 -4.9 3.6 1.9 -5.8 -4.9 -3.6 6.1 -0zM498.8 601.2l1.9 5.8 6.1 0 -4.9 3.6 1.9 5.8 -4.9 -3.6 -4.9 3.6 1.9 -5.8 -4.9 -3.6 6.1 -0zM504.5 585.7l1.9 5.8 6.1 0 -4.9 3.6 1.9 5.8 -4.9 -3.6 -4.9 3.6 1.9 -5.8 -4.9 -3.6 6.1 -0zM512.6 568.4l1.9 5.8 6.1 0 -4.9 3.6 1.9 5.8 -4.9 -3.6 -4.9 3.6 1.9 -5.8 -4.9 -3.6 6.1 -0zM518 550.3l1.9 5.8 6.1 0 -4.9 3.6 1.9 5.8 -4.9 -3.6 -4.9 3.6 1.9 -5.8 -4.9 -3.6 6.1 -0zM524.9 545.7l1.9 5.8 6.1 0 -4.9 3.6 1.9 5.8 -4.9 -3.6 -4.9 3.6 1.9 -5.8 -4.9 -3.6 6.1 -0zM530.7 539.9l1.9 5.8 6.1 0 -4.9 3.6 1.9 5.8 -4.9 -3.6 -4.9 3.6 1.9 -5.8 -4.9 -3.6 6.1 -0zM536.5 532.9l1.9 5.8 6.1 0 -4.9 3.6 1.9 5.8 -4.9 -3.6 -4.9 3.6 1.9 -5.8 -4.9 -3.6 6.1 -0zM545 516.3l1.9 5.8 6.1 0 -4.9 3.6 1.9 5.8 -4.9 -3.6 -4.9 3.6 1.9 -5.8 -4.9 -3.6 6.1 -0zM550.8 507.8l1.9 5.8 6.1 0 -4.9 3.6 1.9 5.8 -4.9 -3.6 -4.9 3.6 1.9 -5.8 -4.9 -3.6 6.1 -0zM556.2 500.6l1.9 5.8 6.1 0 -4.9 3.6 1.9 5.8 -4.9 -3.6 -4.9 3.6 1.9 -5.8 -4.9 -3.6 6.1 -0zM560.8 495.4l1.9 5.8 6.1 0 -4.9 3.6 1.9 5.8 -4.9 -3.6 -4.9 3.6 1.9 -5.8 -4.9 -3.6 6.1 -0zM566.6 489.2l1.9 5.8 6.1 0 -4.9 3.6 1.9 5.8 -4.9 -3.6 -4.9 3.6 1.9 -5.8 -4.9 -3.6 6.1 -0zM571.7 484l1.9 5.8 6.1 0 -4.9 3.6 1.9 5.8 -4.9 -3.6 -4.9 3.6 1.9 -5.8 -4.9 -3.6 6.1 -0zM574.8 480.2l1.9 5.8 6.1 0 -4.9 3.6 1.9 5.8 -4.9 -3.6 -4.9 3.6 1.9 -5.8 -4.9 -3.6 6.1 -0zM578.2 478.3l1.9 5.8 6.1 0 -4.9 3.6 1.9 5.8 -4.9 -3.6 -4.9 3.6 1.9 -5.8 -4.9 -3.6 6.1 -0zM582.4 472.2l1.9 5.8 6.1 0 -4.9 3.6 1.9 5.8 -4.9 -3.6 -4.9 3.6 1.9 -5.8 -4.9 -3.6 6.1 -0zM584.6 470.1l1.9 5.8 6.1 0 -4.9 3.6 1.9 5.8 -4.9 -3.6 -4.9 3.6 1.9 -5.8 -4.9 -3.6 6.1 -0zM589.9 465.8l1.9 5.8 6.1 0 -4.9 3.6 1.9 5.8 -4.9 -3.6 -4.9 3.6 1.9 -5.8 -4.9 -3.6 6.1 -0zM596.6 462.8l1.9 5.8 6.1 0 -4.9 3.6 1.9 5.8 -4.9 -3.6 -4.9 3.6 1.9 -5.8 -4.9 -3.6 6.1 -0zM600.1 458.7l1.9 5.8 6.1 0 -4.9 3.6 1.9 5.8 -4.9 -3.6 -4.9 3.6 1.9 -5.8 -4.9 -3.6 6.1 -0zM604.2 452.3l1.9 5.8 6.1 0 -4.9 3.6 1.9 5.8 -4.9 -3.6 -4.9 3.6 1.9 -5.8 -4.9 -3.6 6.1 -0zM606.7 449.1l1.9 5.8 6.1 0 -4.9 3.6 1.9 5.8 -4.9 -3.6 -4.9 3.6 1.9 -5.8 -4.9 -3.6 6.1 -0zM610.5 444.9l1.9 5.8 6.1 0 -4.9 3.6 1.9 5.8 -4.9 -3.6 -4.9 3.6 1.9 -5.8 -4.9 -3.6 6.1 -0zM615.1 441.9l1.9 5.8 6.1 0 -4.9 3.6 1.9 5.8 -4.9 -3.6 -4.9 3.6 1.9 -5.8 -4.9 -3.6 6.1 -0zM620.2 437.4l1.9 5.8 6.1 0 -4.9 3.6 1.9 5.8 -4.9 -3.6 -4.9 3.6 1.9 -5.8 -4.9 -3.6 6.1 -0zM624.9 434.2l1.9 5.8 6.1 0 -4.9 3.6 1.9 5.8 -4.9 -3.6 -4.9 3.6 1.9 -5.8 -4.9 -3.6 6.1 -0zM630.6 430.3l1.9 5.8 6.1 0 -4.9 3.6 1.9 5.8 -4.9 -3.6 -4.9 3.6 1.9 -5.8 -4.9 -3.6 6.1 -0zM634.5 426l1.9 5.8 6.1 0 -4.9 3.6 1.9 5.8 -4.9 -3.6 -4.9 3.6 1.9 -5.8 -4.9 -3.6 6.1 -0zM638.9 419.3l1.9 5.8 6.1 0 -4.9 3.6 1.9 5.8 -4.9 -3.6 -4.9 3.6 1.9 -5.8 -4.9 -3.6 6.1 -0zM645.2 416.2l1.9 5.8 6.1 0 -4.9 3.6 1.9 5.8 -4.9 -3.6 -4.9 3.6 1.9 -5.8 -4.9 -3.6 6.1 -0zM649.7 416.9l1.9 5.8 6.1 0 -4.9 3.6 1.9 5.8 -4.9 -3.6 -4.9 3.6 1.9 -5.8 -4.9 -3.6 6.1 -0zM656.3 412.3l1.9 5.8 6.1 0 -4.9 3.6 1.9 5.8 -4.9 -3.6 -4.9 3.6 1.9 -5.8 -4.9 -3.6 6.1 -0zM659.6 410.2l1.9 5.8 6.1 0 -4.9 3.6 1.9 5.8 -4.9 -3.6 -4.9 3.6 1.9 -5.8 -4.9 -3.6 6.1 -0zM663.5 410.8l1.9 5.8 6.1 0 -4.9 3.6 1.9 5.8 -4.9 -3.6 -4.9 3.6 1.9 -5.8 -4.9 -3.6 6.1 -0zM668.6 406.3l1.9 5.8 6.1 0 -4.9 3.6 1.9 5.8 -4.9 -3.6 -4.9 3.6 1.9 -5.8 -4.9 -3.6 6.1 -0zM672.4 403l1.9 5.8 6.1 0 -4.9 3.6 1.9 5.8 -4.9 -3.6 -4.9 3.6 1.9 -5.8 -4.9 -3.6 6.1 -0zM676.5 402.1l1.9 5.8 6.1 0 -4.9 3.6 1.9 5.8 -4.9 -3.6 -4.9 3.6 1.9 -5.8 -4.9 -3.6 6.1 -0zM681.7 397.1l1.9 5.8 6.1 0 -4.9 3.6 1.9 5.8 -4.9 -3.6 -4.9 3.6 1.9 -5.8 -4.9 -3.6 6.1 -0zM686.5 394.1l1.9 5.8 6.1 0 -4.9 3.6 1.9 5.8 -4.9 -3.6 -4.9 3.6 1.9 -5.8 -4.9 -3.6 6.1 -0zM692.6 393.7l1.9 5.8 6.1 0 -4.9 3.6 1.9 5.8 -4.9 -3.6 -4.9 3.6 1.9 -5.8 -4.9 -3.6 6.1 -0zM698.4 386.9l1.9 5.8 6.1 0 -4.9 3.6 1.9 5.8 -4.9 -3.6 -4.9 3.6 1.9 -5.8 -4.9 -3.6 6.1 -0zM702.1 392.3l1.9 5.8 6.1 0 -4.9 3.6 1.9 5.8 -4.9 -3.6 -4.9 3.6 1.9 -5.8 -4.9 -3.6 6.1 -0zM708.8 384.6l1.9 5.8 6.1 0 -4.9 3.6 1.9 5.8 -4.9 -3.6 -4.9 3.6 1.9 -5.8 -4.9 -3.6 6.1 -0zM713.8 384l1.9 5.8 6.1 0 -4.9 3.6 1.9 5.8 -4.9 -3.6 -4.9 3.6 1.9 -5.8 -4.9 -3.6 6.1 -0zM720.7 382.1l1.9 5.8 6.1 0 -4.9 3.6 1.9 5.8 -4.9 -3.6 -4.9 3.6 1.9 -5.8 -4.9 -3.6 6.1 -0zM726.3 381.6l1.9 5.8 6.1 0 -4.9 3.6 1.9 5.8 -4.9 -3.6 -4.9 3.6 1.9 -5.8 -4.9 -3.6 6.1 -0zM733 379.7l1.9 5.8 6.1 0 -4.9 3.6 1.9 5.8 -4.9 -3.6 -4.9 3.6 1.9 -5.8 -4.9 -3.6 6.1 -0zM740.3 378.7l1.9 5.8 6.1 0 -4.9 3.6 1.9 5.8 -4.9 -3.6 -4.9 3.6 1.9 -5.8 -4.9 -3.6 6.1 -0zM745.2 377.3l1.9 5.8 6.1 0 -4.9 3.6 1.9 5.8 -4.9 -3.6 -4.9 3.6 1.9 -5.8 -4.9 -3.6 6.1 -0zM748.8 374.8l1.9 5.8 6.1 0 -4.9 3.6 1.9 5.8 -4.9 -3.6 -4.9 3.6 1.9 -5.8 -4.9 -3.6 6.1 -0zM753.7 372.5l1.9 5.8 6.1 0 -4.9 3.6 1.9 5.8 -4.9 -3.6 -4.9 3.6 1.9 -5.8 -4.9 -3.6 6.1 -0zM756.7 369.1l1.9 5.8 6.1 0 -4.9 3.6 1.9 5.8 -4.9 -3.6 -4.9 3.6 1.9 -5.8 -4.9 -3.6 6.1 -0zM763 368.3l1.9 5.8 6.1 0 -4.9 3.6 1.9 5.8 -4.9 -3.6 -4.9 3.6 1.9 -5.8 -4.9 -3.6 6.1 -0zM767.6 371.3l1.9 5.8 6.1 0 -4.9 3.6 1.9 5.8 -4.9 -3.6 -4.9 3.6 1.9 -5.8 -4.9 -3.6 6.1 -0zM773 366.6l1.9 5.8 6.1 0 -4.9 3.6 1.9 5.8 -4.9 -3.6 -4.9 3.6 1.9 -5.8 -4.9 -3.6 6.1 -0zM780.8 369.1l1.9 5.8 6.1 0 -4.9 3.6 1.9 5.8 -4.9 -3.6 -4.9 3.6 1.9 -5.8 -4.9 -3.6 6.1 -0zM786.7 370l1.9 5.8 6.1 0 -4.9 3.6 1.9 5.8 -4.9 -3.6 -4.9 3.6 1.9 -5.8 -4.9 -3.6 6.1 -0zM789.8 370l1.9 5.8 6.1 0 -4.9 3.6 1.9 5.8 -4.9 -3.6 -4.9 3.6 1.9 -5.8 -4.9 -3.6 6.1 -0zM795.7 371.1l1.9 5.8 6.1 0 -4.9 3.6 1.9 5.8 -4.9 -3.6 -4.9 3.6 1.9 -5.8 -4.9 -3.6 6.1 -0zM799.5 372.4l1.9 5.8 6.1 0 -4.9 3.6 1.9 5.8 -4.9 -3.6 -4.9 3.6 1.9 -5.8 -4.9 -3.6 6.1 -0zM804 370.8l1.9 5.8 6.1 0 -4.9 3.6 1.9 5.8 -4.9 -3.6 -4.9 3.6 1.9 -5.8 -4.9 -3.6 6.1 -0zM811.6 371.5l1.9 5.8 6.1 0 -4.9 3.6 1.9 5.8 -4.9 -3.6 -4.9 3.6 1.9 -5.8 -4.9 -3.6 6.1 -0zM816.8 370l1.9 5.8 6.1 0 -4.9 3.6 1.9 5.8 -4.9 -3.6 -4.9 3.6 1.9 -5.8 -4.9 -3.6 6.1 -0zM822.3 369.9l1.9 5.8 6.1 0 -4.9 3.6 1.9 5.8 -4.9 -3.6 -4.9 3.6 1.9 -5.8 -4.9 -3.6 6.1 -0zM828 369.9l1.9 5.8 6.1 0 -4.9 3.6 1.9 5.8 -4.9 -3.6 -4.9 3.6 1.9 -5.8 -4.9 -3.6 6.1 -0zM831.5 377.4l1.9 5.8 6.1 0 -4.9 3.6 1.9 5.8 -4.9 -3.6 -4.9 3.6 1.9 -5.8 -4.9 -3.6 6.1 -0zM836.2 377.1l1.9 5.8 6.1 0 -4.9 3.6 1.9 5.8 -4.9 -3.6 -4.9 3.6 1.9 -5.8 -4.9 -3.6 6.1 -0zM842.5 378.9l1.9 5.8 6.1 0 -4.9 3.6 1.9 5.8 -4.9 -3.6 -4.9 3.6 1.9 -5.8 -4.9 -3.6 6.1 -0zM850.1 381l1.9 5.8 6.1 0 -4.9 3.6 1.9 5.8 -4.9 -3.6 -4.9 3.6 1.9 -5.8 -4.9 -3.6 6.1 -0zM855.5 380.9l1.9 5.8 6.1 0 -4.9 3.6 1.9 5.8 -4.9 -3.6 -4.9 3.6 1.9 -5.8 -4.9 -3.6 6.1 -0zM860.4 382.2l1.9 5.8 6.1 0 -4.9 3.6 1.9 5.8 -4.9 -3.6 -4.9 3.6 1.9 -5.8 -4.9 -3.6 6.1 -0zM865.9 385.7l1.9 5.8 6.1 0 -4.9 3.6 1.9 5.8 -4.9 -3.6 -4.9 3.6 1.9 -5.8 -4.9 -3.6 6.1 -0zM871.6 386.1l1.9 5.8 6.1 0 -4.9 3.6 1.9 5.8 -4.9 -3.6 -4.9 3.6 1.9 -5.8 -4.9 -3.6 6.1 -0zM874.8 385.8l1.9 5.8 6.1 0 -4.9 3.6 1.9 5.8 -4.9 -3.6 -4.9 3.6 1.9 -5.8 -4.9 -3.6 6.1 -0zM880.8 387.4l1.9 5.8 6.1 0 -4.9 3.6 1.9 5.8 -4.9 -3.6 -4.9 3.6 1.9 -5.8 -4.9 -3.6 6.1 -0zM885.3 389.2l1.9 5.8 6.1 0 -4.9 3.6 1.9 5.8 -4.9 -3.6 -4.9 3.6 1.9 -5.8 -4.9 -3.6 6.1 -0zM888.2 388.7l1.9 5.8 6.1 0 -4.9 3.6 1.9 5.8 -4.9 -3.6 -4.9 3.6 1.9 -5.8 -4.9 -3.6 6.1 -0zM891.2 390.2l1.9 5.8 6.1 0 -4.9 3.6 1.9 5.8 -4.9 -3.6 -4.9 3.6 1.9 -5.8 -4.9 -3.6 6.1 -0zM895 390.1l1.9 5.8 6.1 0 -4.9 3.6 1.9 5.8 -4.9 -3.6 -4.9 3.6 1.9 -5.8 -4.9 -3.6 6.1 -0zM899.7 393.6l1.9 5.8 6.1 0 -4.9 3.6 1.9 5.8 -4.9 -3.6 -4.9 3.6 1.9 -5.8 -4.9 -3.6 6.1 -0zM903.8 395.9l1.9 5.8 6.1 0 -4.9 3.6 1.9 5.8 -4.9 -3.6 -4.9 3.6 1.9 -5.8 -4.9 -3.6 6.1 -0zM907.5 397.2l1.9 5.8 6.1 0 -4.9 3.6 1.9 5.8 -4.9 -3.6 -4.9 3.6 1.9 -5.8 -4.9 -3.6 6.1 -0zM911.1 401.4l1.9 5.8 6.1 0 -4.9 3.6 1.9 5.8 -4.9 -3.6 -4.9 3.6 1.9 -5.8 -4.9 -3.6 6.1 -0zM915.1 402.2l1.9 5.8 6.1 0 -4.9 3.6 1.9 5.8 -4.9 -3.6 -4.9 3.6 1.9 -5.8 -4.9 -3.6 6.1 -0zM919.6 404.2l1.9 5.8 6.1 0 -4.9 3.6 1.9 5.8 -4.9 -3.6 -4.9 3.6 1.9 -5.8 -4.9 -3.6 6.1 -0zM924.8 406.8l1.9 5.8 6.1 0 -4.9 3.6 1.9 5.8 -4.9 -3.6 -4.9 3.6 1.9 -5.8 -4.9 -3.6 6.1 -0zM930.1 410.8l1.9 5.8 6.1 0 -4.9 3.6 1.9 5.8 -4.9 -3.6 -4.9 3.6 1.9 -5.8 -4.9 -3.6 6.1 -0zM933.3 411.9l1.9 5.8 6.1 0 -4.9 3.6 1.9 5.8 -4.9 -3.6 -4.9 3.6 1.9 -5.8 -4.9 -3.6 6.1 -0zM938.2 414.8l1.9 5.8 6.1 0 -4.9 3.6 1.9 5.8 -4.9 -3.6 -4.9 3.6 1.9 -5.8 -4.9 -3.6 6.1 -0zM940.8 414.2l1.9 5.8 6.1 0 -4.9 3.6 1.9 5.8 -4.9 -3.6 -4.9 3.6 1.9 -5.8 -4.9 -3.6 6.1 -0zM946.2 417.8l1.9 5.8 6.1 0 -4.9 3.6 1.9 5.8 -4.9 -3.6 -4.9 3.6 1.9 -5.8 -4.9 -3.6 6.1 -0zM950.1 418.8l1.9 5.8 6.1 0 -4.9 3.6 1.9 5.8 -4.9 -3.6 -4.9 3.6 1.9 -5.8 -4.9 -3.6 6.1 -0zM953.5 419l1.9 5.8 6.1 0 -4.9 3.6 1.9 5.8 -4.9 -3.6 -4.9 3.6 1.9 -5.8 -4.9 -3.6 6.1 -0zM958 422.4l1.9 5.8 6.1 0 -4.9 3.6 1.9 5.8 -4.9 -3.6 -4.9 3.6 1.9 -5.8 -4.9 -3.6 6.1 -0zM960.9 421.7l1.9 5.8 6.1 0 -4.9 3.6 1.9 5.8 -4.9 -3.6 -4.9 3.6 1.9 -5.8 -4.9 -3.6 6.1 -0zM963.2 423.2l1.9 5.8 6.1 0 -4.9 3.6 1.9 5.8 -4.9 -3.6 -4.9 3.6 1.9 -5.8 -4.9 -3.6 6.1 -0zM967.8 426.4l1.9 5.8 6.1 0 -4.9 3.6 1.9 5.8 -4.9 -3.6 -4.9 3.6 1.9 -5.8 -4.9 -3.6 6.1 -0zM972.5 429.3l1.9 5.8 6.1 0 -4.9 3.6 1.9 5.8 -4.9 -3.6 -4.9 3.6 1.9 -5.8 -4.9 -3.6 6.1 -0zM977.1 431.8l1.9 5.8 6.1 0 -4.9 3.6 1.9 5.8 -4.9 -3.6 -4.9 3.6 1.9 -5.8 -4.9 -3.6 6.1 -0zM981.2 432.9l1.9 5.8 6.1 0 -4.9 3.6 1.9 5.8 -4.9 -3.6 -4.9 3.6 1.9 -5.8 -4.9 -3.6 6.1 -0zM983.5 432.4l1.9 5.8 6.1 0 -4.9 3.6 1.9 5.8 -4.9 -3.6 -4.9 3.6 1.9 -5.8 -4.9 -3.6 6.1 -0zM986.4 434.9l1.9 5.8 6.1 0 -4.9 3.6 1.9 5.8 -4.9 -3.6 -4.9 3.6 1.9 -5.8 -4.9 -3.6 6.1 -0zM989.3 434.9l1.9 5.8 6.1 0 -4.9 3.6 1.9 5.8 -4.9 -3.6 -4.9 3.6 1.9 -5.8 -4.9 -3.6 6.1 -0zM992.5 436.1l1.9 5.8 6.1 0 -4.9 3.6 1.9 5.8 -4.9 -3.6 -4.9 3.6 1.9 -5.8 -4.9 -3.6 6.1 -0zM997.1 439.8l1.9 5.8 6.1 0 -4.9 3.6 1.9 5.8 -4.9 -3.6 -4.9 3.6 1.9 -5.8 -4.9 -3.6 6.1 -0zM999.4 443.3l1.9 5.8 6.1 0 -4.9 3.6 1.9 5.8 -4.9 -3.6 -4.9 3.6 1.9 -5.8 -4.9 -3.6 6.1 -0zM1003.6 442.4l1.9 5.8 6.1 0 -4.9 3.6 1.9 5.8 -4.9 -3.6 -4.9 3.6 1.9 -5.8 -4.9 -3.6 6.1 -0zM1007.9 441.8l1.9 5.8 6.1 0 -4.9 3.6 1.9 5.8 -4.9 -3.6 -4.9 3.6 1.9 -5.8 -4.9 -3.6 6.1 -0zM1012.1 448.3l1.9 5.8 6.1 0 -4.9 3.6 1.9 5.8 -4.9 -3.6 -4.9 3.6 1.9 -5.8 -4.9 -3.6 6.1 -0zM1014.3 448.1l1.9 5.8 6.1 0 -4.9 3.6 1.9 5.8 -4.9 -3.6 -4.9 3.6 1.9 -5.8 -4.9 -3.6 6.1 -0zM1017.5 447.6l1.9 5.8 6.1 0 -4.9 3.6 1.9 5.8 -4.9 -3.6 -4.9 3.6 1.9 -5.8 -4.9 -3.6 6.1 -0zM1020.4 451.5l1.9 5.8 6.1 0 -4.9 3.6 1.9 5.8 -4.9 -3.6 -4.9 3.6 1.9 -5.8 -4.9 -3.6 6.1 -0zM1022.5 454.1l1.9 5.8 6.1 0 -4.9 3.6 1.9 5.8 -4.9 -3.6 -4.9 3.6 1.9 -5.8 -4.9 -3.6 6.1 -0zM1024.1 453l1.9 5.8 6.1 0 -4.9 3.6 1.9 5.8 -4.9 -3.6 -4.9 3.6 1.9 -5.8 -4.9 -3.6 6.1 -0zM1027.6 455.4l1.9 5.8 6.1 0 -4.9 3.6 1.9 5.8 -4.9 -3.6 -4.9 3.6 1.9 -5.8 -4.9 -3.6 6.1 -0zM1029.2 458.6l1.9 5.8 6.1 0 -4.9 3.6 1.9 5.8 -4.9 -3.6 -4.9 3.6 1.9 -5.8 -4.9 -3.6 6.1 -0zM1032.8 457.9l1.9 5.8 6.1 0 -4.9 3.6 1.9 5.8 -4.9 -3.6 -4.9 3.6 1.9 -5.8 -4.9 -3.6 6.1 -0zM1036.3 462.6l1.9 5.8 6.1 0 -4.9 3.6 1.9 5.8 -4.9 -3.6 -4.9 3.6 1.9 -5.8 -4.9 -3.6 6.1 -0zM1037.7 461l1.9 5.8 6.1 0 -4.9 3.6 1.9 5.8 -4.9 -3.6 -4.9 3.6 1.9 -5.8 -4.9 -3.6 6.1 -0zM1040.8 464.4l1.9 5.8 6.1 0 -4.9 3.6 1.9 5.8 -4.9 -3.6 -4.9 3.6 1.9 -5.8 -4.9 -3.6 6.1 -0zM1043.6 466.6l1.9 5.8 6.1 0 -4.9 3.6 1.9 5.8 -4.9 -3.6 -4.9 3.6 1.9 -5.8 -4.9 -3.6 6.1 -0zM1046.1 464.5l1.9 5.8 6.1 0 -4.9 3.6 1.9 5.8 -4.9 -3.6 -4.9 3.6 1.9 -5.8 -4.9 -3.6 6.1 -0zM1048.7 470.4l1.9 5.8 6.1 0 -4.9 3.6 1.9 5.8 -4.9 -3.6 -4.9 3.6 1.9 -5.8 -4.9 -3.6 6.1 -0zM1050.7 470l1.9 5.8 6.1 0 -4.9 3.6 1.9 5.8 -4.9 -3.6 -4.9 3.6 1.9 -5.8 -4.9 -3.6 6.1 -0zM1053 474.1l1.9 5.8 6.1 0 -4.9 3.6 1.9 5.8 -4.9 -3.6 -4.9 3.6 1.9 -5.8 -4.9 -3.6 6.1 -0zM1055.8 472.7l1.9 5.8 6.1 0 -4.9 3.6 1.9 5.8 -4.9 -3.6 -4.9 3.6 1.9 -5.8 -4.9 -3.6 6.1 -0zM1058.1 475.4l1.9 5.8 6.1 0 -4.9 3.6 1.9 5.8 -4.9 -3.6 -4.9 3.6 1.9 -5.8 -4.9 -3.6 6.1 -0zM1060.8 477.8l1.9 5.8 6.1 0 -4.9 3.6 1.9 5.8 -4.9 -3.6 -4.9 3.6 1.9 -5.8 -4.9 -3.6 6.1 -0zM1063.3 481.3l1.9 5.8 6.1 0 -4.9 3.6 1.9 5.8 -4.9 -3.6 -4.9 3.6 1.9 -5.8 -4.9 -3.6 6.1 -0zM1065.6 481.6l1.9 5.8 6.1 0 -4.9 3.6 1.9 5.8 -4.9 -3.6 -4.9 3.6 1.9 -5.8 -4.9 -3.6 6.1 -0zM1067.6 483.3l1.9 5.8 6.1 0 -4.9 3.6 1.9 5.8 -4.9 -3.6 -4.9 3.6 1.9 -5.8 -4.9 -3.6 6.1 -0zM1069.9 486.8l1.9 5.8 6.1 0 -4.9 3.6 1.9 5.8 -4.9 -3.6 -4.9 3.6 1.9 -5.8 -4.9 -3.6 6.1 -0zM1071.2 487.5l1.9 5.8 6.1 0 -4.9 3.6 1.9 5.8 -4.9 -3.6 -4.9 3.6 1.9 -5.8 -4.9 -3.6 6.1 -0zM1073 487.5l1.9 5.8 6.1 0 -4.9 3.6 1.9 5.8 -4.9 -3.6 -4.9 3.6 1.9 -5.8 -4.9 -3.6 6.1 -0zM1075.1 491.7l1.9 5.8 6.1 0 -4.9 3.6 1.9 5.8 -4.9 -3.6 -4.9 3.6 1.9 -5.8 -4.9 -3.6 6.1 -0zM1076 492.5l1.9 5.8 6.1 0 -4.9 3.6 1.9 5.8 -4.9 -3.6 -4.9 3.6 1.9 -5.8 -4.9 -3.6 6.1 -0zM1077.2 493.1l1.9 5.8 6.1 0 -4.9 3.6 1.9 5.8 -4.9 -3.6 -4.9 3.6 1.9 -5.8 -4.9 -3.6 6.1 -0zM1078.2 496.5l1.9 5.8 6.1 0 -4.9 3.6 1.9 5.8 -4.9 -3.6 -4.9 3.6 1.9 -5.8 -4.9 -3.6 6.1 -0zM1079.3 494.4l1.9 5.8 6.1 0 -4.9 3.6 1.9 5.8 -4.9 -3.6 -4.9 3.6 1.9 -5.8 -4.9 -3.6 6.1 -0zM1080.9 495.9l1.9 5.8 6.1 0 -4.9 3.6 1.9 5.8 -4.9 -3.6 -4.9 3.6 1.9 -5.8 -4.9 -3.6 6.1 -0zM1082.4 498.8l1.9 5.8 6.1 0 -4.9 3.6 1.9 5.8 -4.9 -3.6 -4.9 3.6 1.9 -5.8 -4.9 -3.6 6.1 -0zM1084.2 498.4l1.9 5.8 6.1 0 -4.9 3.6 1.9 5.8 -4.9 -3.6 -4.9 3.6 1.9 -5.8 -4.9 -3.6 6.1 -0zM1085.4 499.9l1.9 5.8 6.1 0 -4.9 3.6 1.9 5.8 -4.9 -3.6 -4.9 3.6 1.9 -5.8 -4.9 -3.6 6.1 -0zM1086.7 503l1.9 5.8 6.1 0 -4.9 3.6 1.9 5.8 -4.9 -3.6 -4.9 3.6 1.9 -5.8 -4.9 -3.6 6.1 -0zM1088.6 504.8l1.9 5.8 6.1 0 -4.9 3.6 1.9 5.8 -4.9 -3.6 -4.9 3.6 1.9 -5.8 -4.9 -3.6 6.1 -0zM1090 505.6l1.9 5.8 6.1 0 -4.9 3.6 1.9 5.8 -4.9 -3.6 -4.9 3.6 1.9 -5.8 -4.9 -3.6 6.1 -0zM1091.3 506.6l1.9 5.8 6.1 0 -4.9 3.6 1.9 5.8 -4.9 -3.6 -4.9 3.6 1.9 -5.8 -4.9 -3.6 6.1 -0zM1093 508l1.9 5.8 6.1 0 -4.9 3.6 1.9 5.8 -4.9 -3.6 -4.9 3.6 1.9 -5.8 -4.9 -3.6 6.1 -0zM1094.9 508.3l1.9 5.8 6.1 0 -4.9 3.6 1.9 5.8 -4.9 -3.6 -4.9 3.6 1.9 -5.8 -4.9 -3.6 6.1 -0zM1096.6 509.9l1.9 5.8 6.1 0 -4.9 3.6 1.9 5.8 -4.9 -3.6 -4.9 3.6 1.9 -5.8 -4.9 -3.6 6.1 -0zM1098 513l1.9 5.8 6.1 0 -4.9 3.6 1.9 5.8 -4.9 -3.6 -4.9 3.6 1.9 -5.8 -4.9 -3.6 6.1 -0zM1099.8 512.2l1.9 5.8 6.1 0 -4.9 3.6 1.9 5.8 -4.9 -3.6 -4.9 3.6 1.9 -5.8 -4.9 -3.6 6.1 -0zM1101.2 516.3l1.9 5.8 6.1 0 -4.9 3.6 1.9 5.8 -4.9 -3.6 -4.9 3.6 1.9 -5.8 -4.9 -3.6 6.1 -0zM1102.3 514.3l1.9 5.8 6.1 0 -4.9 3.6 1.9 5.8 -4.9 -3.6 -4.9 3.6 1.9 -5.8 -4.9 -3.6 6.1 -0zM1103.2 516.6l1.9 5.8 6.1 0 -4.9 3.6 1.9 5.8 -4.9 -3.6 -4.9 3.6 1.9 -5.8 -4.9 -3.6 6.1 -0zM1104.5 515.8l1.9 5.8 6.1 0 -4.9 3.6 1.9 5.8 -4.9 -3.6 -4.9 3.6 1.9 -5.8 -4.9 -3.6 6.1 -0zM1106.5 521.2l1.9 5.8 6.1 0 -4.9 3.6 1.9 5.8 -4.9 -3.6 -4.9 3.6 1.9 -5.8 -4.9 -3.6 6.1 -0zM1107.9 523.2l1.9 5.8 6.1 0 -4.9 3.6 1.9 5.8 -4.9 -3.6 -4.9 3.6 1.9 -5.8 -4.9 -3.6 6.1 -0zM1109.5 521.2l1.9 5.8 6.1 0 -4.9 3.6 1.9 5.8 -4.9 -3.6 -4.9 3.6 1.9 -5.8 -4.9 -3.6 6.1 -0zM1111.4 526.2l1.9 5.8 6.1 0 -4.9 3.6 1.9 5.8 -4.9 -3.6 -4.9 3.6 1.9 -5.8 -4.9 -3.6 6.1 -0zM1113.8 528.4l1.9 5.8 6.1 0 -4.9 3.6 1.9 5.8 -4.9 -3.6 -4.9 3.6 1.9 -5.8 -4.9 -3.6 6.1 -0zM1116.9 530.1l1.9 5.8 6.1 0 -4.9 3.6 1.9 5.8 -4.9 -3.6 -4.9 3.6 1.9 -5.8 -4.9 -3.6 6.1 -0zM1120.2 530.8l1.9 5.8 6.1 0 -4.9 3.6 1.9 5.8 -4.9 -3.6 -4.9 3.6 1.9 -5.8 -4.9 -3.6 6.1 -0zM1123.7 537.7l1.9 5.8 6.1 0 -4.9 3.6 1.9 5.8 -4.9 -3.6 -4.9 3.6 1.9 -5.8 -4.9 -3.6 6.1 -0zM1126.9 540.8l1.9 5.8 6.1 0 -4.9 3.6 1.9 5.8 -4.9 -3.6 -4.9 3.6 1.9 -5.8 -4.9 -3.6 6.1 -0zM1130.5 543.6l1.9 5.8 6.1 0 -4.9 3.6 1.9 5.8 -4.9 -3.6 -4.9 3.6 1.9 -5.8 -4.9 -3.6 6.1 -0zM1133.8 547l1.9 5.8 6.1 0 -4.9 3.6 1.9 5.8 -4.9 -3.6 -4.9 3.6 1.9 -5.8 -4.9 -3.6 6.1 -0zM1137.2 551.9l1.9 5.8 6.1 0 -4.9 3.6 1.9 5.8 -4.9 -3.6 -4.9 3.6 1.9 -5.8 -4.9 -3.6 6.1 -0zM1140.7 555.4l1.9 5.8 6.1 0 -4.9 3.6 1.9 5.8 -4.9 -3.6 -4.9 3.6 1.9 -5.8 -4.9 -3.6 6.1 -0z" fill="#4cc1f3" stroke="#4cc1f3" stroke-width="1" stroke-linejoin="round"/>
<path d="M907.3 168 L1163.4 426.3" fill="none" stroke="#000" stroke-width="2.2" stroke-dasharray="12.6 10.8"/>
<path d="M173 934.2 v-5.3 M173 19.1 v5.3 M221 934.2 v-5.3 M221 19.1 v5.3 M255 934.2 v-5.3 M255 19.1 v5.3 M281.4 934.2 v-5.3 M281.4 19.1 v5.3 M302.9 934.2 v-5.3 M302.9 19.1 v5.3 M321.2 934.2 v-5.3 M321.2 19.1 v5.3 M336.9 934.2 v-5.3 M336.9 19.1 v5.3 M350.9 934.2 v-5.3 M350.9 19.1 v5.3 M363.3 934.2 v-10.8 M363.3 19.1 v10.8 M445.3 934.2 v-5.3 M445.3 19.1 v5.3 M493.2 934.2 v-5.3 M493.2 19.1 v5.3 M527.2 934.2 v-5.3 M527.2 19.1 v5.3 M553.6 934.2 v-5.3 M553.6 19.1 v5.3 M575.2 934.2 v-5.3 M575.2 19.1 v5.3 M593.4 934.2 v-5.3 M593.4 19.1 v5.3 M609.2 934.2 v-5.3 M609.2 19.1 v5.3 M623.1 934.2 v-5.3 M623.1 19.1 v5.3 M635.6 934.2 v-10.8 M635.6 19.1 v10.8 M717.5 934.2 v-5.3 M717.5 19.1 v5.3 M765.4 934.2 v-5.3 M765.4 19.1 v5.3 M799.4 934.2 v-5.3 M799.4 19.1 v5.3 M825.8 934.2 v-5.3 M825.8 19.1 v5.3 M847.4 934.2 v-5.3 M847.4 19.1 v5.3 M865.6 934.2 v-5.3 M865.6 19.1 v5.3 M881.4 934.2 v-5.3 M881.4 19.1 v5.3 M895.3 934.2 v-5.3 M895.3 19.1 v5.3 M907.8 934.2 v-10.8 M907.8 19.1 v10.8 M989.7 934.2 v-5.3 M989.7 19.1 v5.3 M1037.7 934.2 v-5.3 M1037.7 19.1 v5.3 M1071.7 934.2 v-5.3 M1071.7 19.1 v5.3 M1098.1 934.2 v-5.3 M1098.1 19.1 v5.3 M1119.6 934.2 v-5.3 M1119.6 19.1 v5.3 M1137.8 934.2 v-5.3 M1137.8 19.1 v5.3 M1153.6 934.2 v-5.3 M1153.6 19.1 v5.3 M1167.5 934.2 v-5.3 M1167.5 19.1 v5.3 M91.1 879.1 h5.3 M1180 879.1 h-5.3 M91.1 846.9 h5.3 M1180 846.9 h-5.3 M91.1 824 h5.3 M1180 824 h-5.3 M91.1 806.3 h5.3 M1180 806.3 h-5.3 M91.1 791.8 h5.3 M1180 791.8 h-5.3 M91.1 779.5 h5.3 M1180 779.5 h-5.3 M91.1 768.9 h5.3 M1180 768.9 h-5.3 M91.1 759.6 h5.3 M1180 759.6 h-5.3 M91.1 751.2 h10.8 M1180 751.2 h-10.8 M91.1 696.1 h5.3 M1180 696.1 h-5.3 M91.1 663.9 h5.3 M1180 663.9 h-5.3 M91.1 641 h5.3 M1180 641 h-5.3 M91.1 623.3 h5.3 M1180 623.3 h-5.3 M91.1 608.8 h5.3 M1180 608.8 h-5.3 M91.1 596.5 h5.3 M1180 596.5 h-5.3 M91.1 585.9 h5.3 M1180 585.9 h-5.3 M91.1 576.5 h5.3 M1180 576.5 h-5.3 M91.1 568.2 h10.8 M1180 568.2 h-10.8 M91.1 513.1 h5.3 M1180 513.1 h-5.3 M91.1 480.8 h5.3 M1180 480.8 h-5.3 M91.1 458 h5.3 M1180 458 h-5.3 M91.1 440.2 h5.3 M1180 440.2 h-5.3 M91.1 425.7 h5.3 M1180 425.7 h-5.3 M91.1 413.5 h5.3 M1180 413.5 h-5.3 M91.1 402.9 h5.3 M1180 402.9 h-5.3 M91.1 393.5 h5.3 M1180 393.5 h-5.3 M91.1 385.1 h10.8 M1180 385.1 h-10.8 M91.1 330 h5.3 M1180 330 h-5.3 M91.1 297.8 h5.3 M1180 297.8 h-5.3 M91.1 275 h5.3 M1180 275 h-5.3 M91.1 257.2 h5.3 M1180 257.2 h-5.3 M91.1 242.7 h5.3 M1180 242.7 h-5.3 M91.1 230.5 h5.3 M1180 230.5 h-5.3 M91.1 219.9 h5.3 M1180 219.9 h-5.3 M91.1 210.5 h5.3 M1180 210.5 h-5.3 M91.1 202.1 h10.8 M1180 202.1 h-10.8 M91.1 147 h5.3 M1180 147 h-5.3 M91.1 114.8 h5.3 M1180 114.8 h-5.3 M91.1 91.9 h5.3 M1180 91.9 h-5.3 M91.1 74.2 h5.3 M1180 74.2 h-5.3 M91.1 59.7 h5.3 M1180 59.7 h-5.3 M91.1 47.5 h5.3 M1180 47.5 h-5.3 M91.1 36.8 h5.3 M1180 36.8 h-5.3 M91.1 27.5 h5.3 M1180 27.5 h-5.3" fill="none" stroke="#000" stroke-width="2"/>
<rect x="91.1" y="19.1" width="1088.9" height="915.1" fill="none" stroke="#000" stroke-width="2"/>
<text x="71.5" y="974.3" style="font-family:'Liberation Sans',Arial,Helvetica,sans-serif;font-size:27.2px">10<tspan dx="-0.5" dy="-16.3" style="font-size:18.0px">0</tspan></text>
<text x="343.7" y="974.3" style="font-family:'Liberation Sans',Arial,Helvetica,sans-serif;font-size:27.2px">10<tspan dx="-0.5" dy="-16.3" style="font-size:18.0px">1</tspan></text>
<text x="616" y="974.3" style="font-family:'Liberation Sans',Arial,Helvetica,sans-serif;font-size:27.2px">10<tspan dx="-0.5" dy="-16.3" style="font-size:18.0px">2</tspan></text>
<text x="888.2" y="974.3" style="font-family:'Liberation Sans',Arial,Helvetica,sans-serif;font-size:27.2px">10<tspan dx="-0.5" dy="-16.3" style="font-size:18.0px">3</tspan></text>
<text x="1160.4" y="974.3" style="font-family:'Liberation Sans',Arial,Helvetica,sans-serif;font-size:27.2px">10<tspan dx="-0.5" dy="-16.3" style="font-size:18.0px">4</tspan></text>
<text x="45.6" y="944.1" style="font-family:'Liberation Sans',Arial,Helvetica,sans-serif;font-size:27.2px">10<tspan dx="-0.5" dy="-16.3" style="font-size:18.0px">0</tspan></text>
<text x="45.6" y="761.1" style="font-family:'Liberation Sans',Arial,Helvetica,sans-serif;font-size:27.2px">10<tspan dx="-0.5" dy="-16.3" style="font-size:18.0px">1</tspan></text>
<text x="45.6" y="578.1" style="font-family:'Liberation Sans',Arial,Helvetica,sans-serif;font-size:27.2px">10<tspan dx="-0.5" dy="-16.3" style="font-size:18.0px">2</tspan></text>
<text x="45.6" y="395" style="font-family:'Liberation Sans',Arial,Helvetica,sans-serif;font-size:27.2px">10<tspan dx="-0.5" dy="-16.3" style="font-size:18.0px">3</tspan></text>
<text x="45.6" y="212" style="font-family:'Liberation Sans',Arial,Helvetica,sans-serif;font-size:27.2px">10<tspan dx="-0.5" dy="-16.3" style="font-size:18.0px">4</tspan></text>
<text x="45.6" y="29" style="font-family:'Liberation Sans',Arial,Helvetica,sans-serif;font-size:27.2px">10<tspan dx="-0.5" dy="-16.3" style="font-size:18.0px">5</tspan></text>
<text transform="translate(514.10 1028.70) scale(1.070 1)" style="font-family:'Liberation Serif','Times New Roman',serif;font-size:32px"><tspan x="0.00" style="letter-spacing:1.97px">Elapsed</tspan> <tspan x="125.79" style="letter-spacing:2.79px">Time</tspan> <tspan x="214.58" style="letter-spacing:2.15px">(h)</tspan></text>
<text transform="translate(24.20 663.20) rotate(-90) scale(1.070 1)" style="font-family:'Liberation Serif','Times New Roman',serif;font-size:32px"><tspan x="0.00" style="letter-spacing:3.20px">Activity</tspan> <tspan x="134.49" style="letter-spacing:1.63px">Flow</tspan> <tspan x="220.56" style="letter-spacing:2.30px">Rate</tspan> <tspan x="296.36" style="letter-spacing:3.54px">(Bq/h)</tspan></text>
<text transform="translate(679.90 173.80) scale(1.070 1)" style="font-family:'Liberation Serif','Times New Roman',serif;font-size:34.5px"><tspan x="0.00" style="letter-spacing:-0.23px">Slope</tspan> <tspan x="89.53" textLength="23.60" lengthAdjust="spacingAndGlyphs">=</tspan> <tspan x="123.93" style="letter-spacing:1.92px">-3/2</tspan></text>
<rect x="762.8" y="28.8" width="407.6" height="80.9" fill="#fff" stroke="#000" stroke-width="2"/>
<path d="M773 48.3 H827.6" stroke="#fb88c4" stroke-width="2.4" fill="none"/>
<path d="M800.0 77.2 L801.9 83.0 L808.0 83.0 L803.1 86.6 L804.9 92.4 L800.0 88.8 L795.1 92.4 L796.9 86.6 L792.0 83.0 L798.1 83.0Z" fill="#4cc1f3" stroke="#4cc1f3" stroke-width="1" stroke-linejoin="round"/>
<text x="832.9" y="58" style="font-family:'Liberation Sans',Arial,Helvetica,sans-serif;font-size:27.4px">Mean of Simulated Results</text>
<text x="832.9" y="98.5" style="font-family:'Liberation Sans',Arial,Helvetica,sans-serif;font-size:27.4px">Experimental BTC, <tspan dx="1" dy="-12.5" style="font-size:19px">137</tspan><tspan dy="12.5">CS</tspan></text>
</svg>
</body></html>
